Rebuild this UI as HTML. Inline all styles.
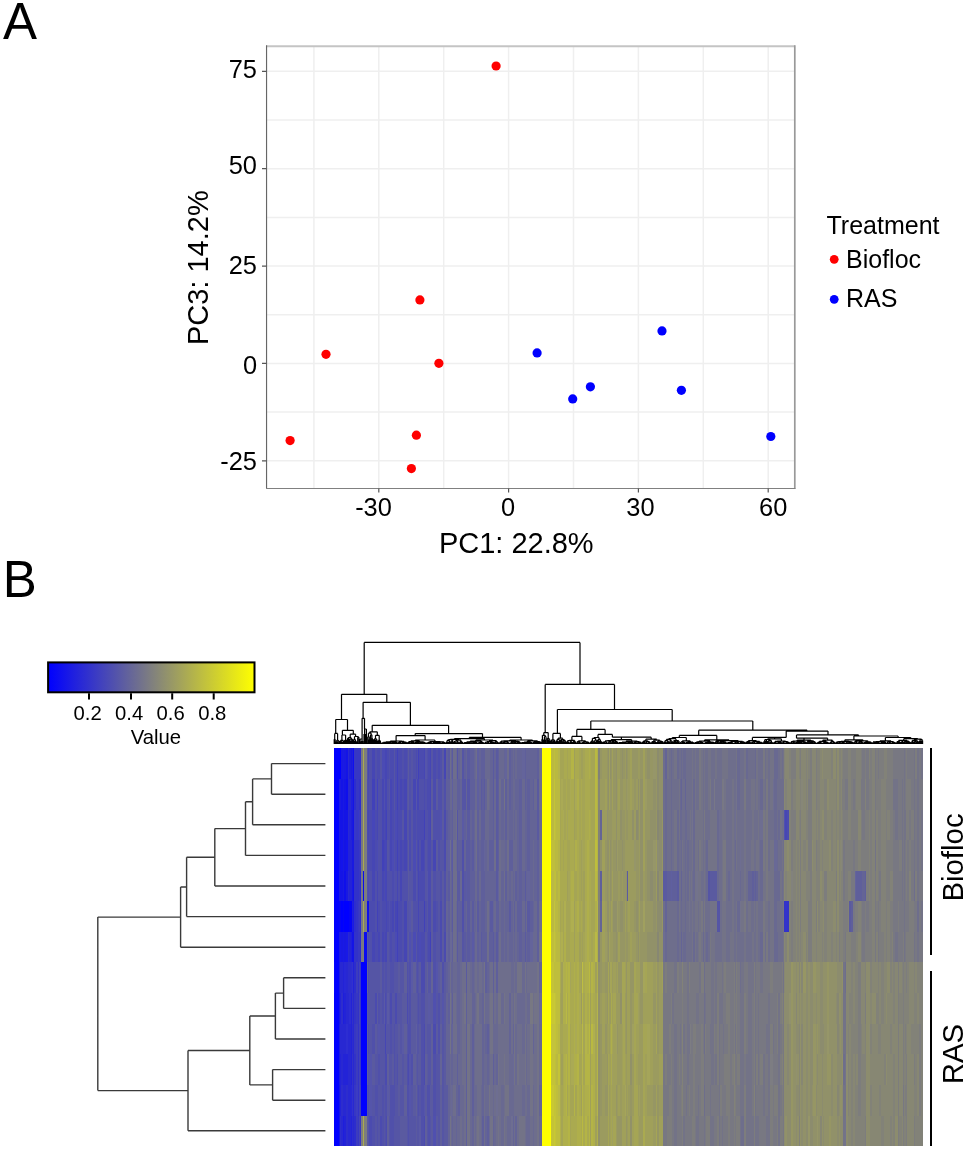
<!DOCTYPE html>
<html><head><meta charset="utf-8"><title>Figure</title>
<style>html,body{margin:0;padding:0;background:#fff;} body{width:966px;height:1150px;overflow:hidden;font-family:"Liberation Sans", sans-serif;} svg{display:block;}</style>
</head><body><svg width="966" height="1150" viewBox="0 0 966 1150" font-family='"Liberation Sans", sans-serif' fill="#000"><path d="M313.9 46.2V488.45 M443.7 46.2V488.45 M573.5 46.2V488.45 M703.3 46.2V488.45 M378.8 46.2V488.45 M508.6 46.2V488.45 M638.4 46.2V488.45 M768.2 46.2V488.45 M266.55 120.0H794.8 M266.55 217.4H794.8 M266.55 314.8H794.8 M266.55 412.1H794.8 M266.55 71.3H794.8 M266.55 168.7H794.8 M266.55 266.1H794.8 M266.55 363.4H794.8 M266.55 460.8H794.8" stroke="#efefef" stroke-width="1.5" fill="none"/><path d="M266.55 46.2H794.8" stroke="#c4c4c4" stroke-width="1.9" fill="none"/><path d="M794.8 45.300000000000004V488.45" stroke="#999" stroke-width="1.7" fill="none"/><path d="M266.55 45.300000000000004V488.45" stroke="#666" stroke-width="1.15" fill="none"/><path d="M266.05 488.45H795.5999999999999" stroke="#808080" stroke-width="1.1" fill="none"/><path d="M262 71.3H266.55 M262 168.7H266.55 M262 266.1H266.55 M262 363.4H266.55 M262 460.8H266.55 M378.8 488.45V492.6 M508.6 488.45V492.6 M638.4 488.45V492.6 M768.2 488.45V492.6" stroke="#555" stroke-width="1.2" fill="none"/><circle cx="496.1" cy="66.0" r="4.6" fill="#ff0000"/><circle cx="419.9" cy="299.9" r="4.6" fill="#ff0000"/><circle cx="326.0" cy="354.3" r="4.6" fill="#ff0000"/><circle cx="438.9" cy="363.3" r="4.6" fill="#ff0000"/><circle cx="290.1" cy="440.6" r="4.6" fill="#ff0000"/><circle cx="416.4" cy="435.2" r="4.6" fill="#ff0000"/><circle cx="411.4" cy="468.6" r="4.6" fill="#ff0000"/><circle cx="537.1" cy="352.9" r="4.6" fill="#0000ff"/><circle cx="662.0" cy="330.9" r="4.6" fill="#0000ff"/><circle cx="590.4" cy="386.8" r="4.6" fill="#0000ff"/><circle cx="572.7" cy="398.9" r="4.6" fill="#0000ff"/><circle cx="681.4" cy="390.3" r="4.6" fill="#0000ff"/><circle cx="770.8" cy="436.5" r="4.6" fill="#0000ff"/><circle cx="834.2" cy="259.3" r="4.4" fill="#ff0000"/><circle cx="834.2" cy="299.3" r="4.4" fill="#0000ff"/><defs><linearGradient id="ck" x1="0" x2="1" y1="0" y2="0"><stop offset="0" stop-color="#0000ff"/><stop offset="0.5" stop-color="#7f7f7f"/><stop offset="1" stop-color="#ffff00"/></linearGradient></defs><rect x="48.1" y="662.4" width="206.4" height="29.9" fill="url(#ck)" stroke="#000" stroke-width="2"/><path d="M89.0 693.3V699.6 M131.0 693.3V699.6 M172.2 693.3V699.6 M213.7 693.3V699.6" stroke="#000" stroke-width="2"/><g shape-rendering="crispEdges"><path d="M333.6 748.0h1.5v31.0h-1.5zM333.6 779.0h1.5v31.0h-1.5zM333.6 810.0h1.5v30.0h-1.5zM333.6 840.0h1.5v31.0h-1.5zM333.6 871.0h1.5v30.0h-1.5zM333.6 901.0h1.5v31.0h-1.5zM333.6 932.0h1.5v30.0h-1.5zM333.6 993.0h1.5v31.0h-1.5zM333.6 1024.0h1.5v30.0h-1.5zM333.6 1054.0h1.5v31.0h-1.5zM333.6 1085.0h1.5v31.0h-1.5zM333.6 1116.0h1.5v30.0h-1.5zM335.1 748.0h1v31.0h-1zM335.1 779.0h1v31.0h-1zM335.1 810.0h1v30.0h-1zM335.1 840.0h1v31.0h-1zM335.1 871.0h1v30.0h-1zM335.1 901.0h1v31.0h-1zM335.1 932.0h1v30.0h-1zM335.1 962.0h1v31.0h-1zM335.1 993.0h1v31.0h-1zM335.1 1024.0h1v30.0h-1zM335.1 1054.0h1v31.0h-1zM335.1 1085.0h1v31.0h-1zM335.1 1116.0h1v30.0h-1zM336.1 748.0h2v31.0h-2zM336.1 779.0h2v31.0h-2zM336.1 810.0h2v30.0h-2zM336.1 840.0h2v31.0h-2zM336.1 871.0h2v30.0h-2zM336.1 901.0h2v31.0h-2zM336.1 932.0h2v30.0h-2zM336.1 962.0h2v31.0h-2zM336.1 993.0h2v31.0h-2zM336.1 1024.0h2v30.0h-2zM336.1 1054.0h2v31.0h-2zM336.1 1085.0h2v31.0h-2zM336.1 1116.0h2v30.0h-2zM338.1 748.0h0.9v31.0h-0.9zM338.1 779.0h0.9v31.0h-0.9zM338.1 810.0h0.9v30.0h-0.9zM338.1 840.0h0.9v31.0h-0.9zM338.1 871.0h0.9v30.0h-0.9zM338.1 901.0h0.9v31.0h-0.9zM338.1 932.0h0.9v30.0h-0.9zM338.1 962.0h0.9v31.0h-0.9zM338.1 993.0h0.9v31.0h-0.9zM338.1 1024.0h0.9v30.0h-0.9zM338.1 1054.0h0.9v31.0h-0.9zM338.1 1085.0h0.9v31.0h-0.9zM338.1 1116.0h0.9v30.0h-0.9zM339.0 748.0h1v31.0h-1zM340.0 748.0h1v31.0h-1zM341.0 901.0h2v31.0h-2zM344.0 901.0h1.5v31.0h-1.5zM345.5 901.0h2.5v31.0h-2.5zM348.0 901.0h1v31.0h-1zM361.0 962.0h1.6v31.0h-1.6zM361.0 993.0h1.6v31.0h-1.6zM361.0 1024.0h1.6v30.0h-1.6zM361.0 1054.0h1.6v31.0h-1.6zM361.0 1085.0h1.6v31.0h-1.6zM362.6 962.0h1.6v31.0h-1.6zM362.6 993.0h1.6v31.0h-1.6zM362.6 1024.0h1.6v30.0h-1.6zM362.6 1054.0h1.6v31.0h-1.6zM362.6 1085.0h1.6v31.0h-1.6zM364.2 962.0h1v31.0h-1zM364.2 993.0h1v31.0h-1zM364.2 1024.0h1v30.0h-1zM364.2 1054.0h1v31.0h-1zM364.2 1085.0h1v31.0h-1zM365.2 962.0h1.8v31.0h-1.8zM365.2 993.0h1.8v31.0h-1.8zM365.2 1024.0h1.8v30.0h-1.8zM365.2 1054.0h1.8v31.0h-1.8zM365.2 1085.0h1.8v31.0h-1.8z" fill="#0000ff"/><path d="M333.6 962.0h1.5v31.0h-1.5z" fill="#0505ff"/><path d="M339.0 779.0h1v31.0h-1zM340.0 932.0h1v30.0h-1zM343.0 748.0h1v31.0h-1zM343.0 932.0h1v30.0h-1zM345.5 932.0h2.5v30.0h-2.5zM352.0 871.0h1v30.0h-1zM353.0 901.0h1v31.0h-1z" fill="#1919e6"/><path d="M339.0 810.0h1v30.0h-1zM339.0 871.0h1v30.0h-1zM339.0 932.0h1v30.0h-1zM339.0 962.0h1v31.0h-1zM339.0 1024.0h1v30.0h-1zM339.0 1054.0h1v31.0h-1zM340.0 779.0h1v31.0h-1zM341.0 748.0h2v31.0h-2zM341.0 932.0h2v30.0h-2zM343.0 779.0h1v31.0h-1zM343.0 810.0h1v30.0h-1zM343.0 840.0h1v31.0h-1zM343.0 871.0h1v30.0h-1zM344.0 748.0h1.5v31.0h-1.5zM344.0 932.0h1.5v30.0h-1.5zM345.5 871.0h2.5v30.0h-2.5zM351.0 748.0h1v31.0h-1zM352.0 810.0h1v30.0h-1zM352.0 840.0h1v31.0h-1zM353.0 840.0h1v31.0h-1z" fill="#1919e1"/><path d="M339.0 840.0h1v31.0h-1zM341.0 840.0h2v31.0h-2zM345.5 840.0h2.5v31.0h-2.5z" fill="#1414eb"/><path d="M339.0 901.0h1v31.0h-1zM340.0 901.0h1v31.0h-1zM343.0 901.0h1v31.0h-1zM349.0 901.0h2v31.0h-2zM351.0 901.0h1v31.0h-1z" fill="#0505f5"/><path d="M339.0 993.0h1v31.0h-1zM339.0 1085.0h1v31.0h-1zM339.0 1116.0h1v30.0h-1zM340.0 810.0h1v30.0h-1zM340.0 840.0h1v31.0h-1zM340.0 871.0h1v30.0h-1zM341.0 779.0h2v31.0h-2zM341.0 810.0h2v30.0h-2zM341.0 871.0h2v30.0h-2zM344.0 779.0h1.5v31.0h-1.5zM344.0 810.0h1.5v30.0h-1.5zM344.0 840.0h1.5v31.0h-1.5zM345.5 748.0h2.5v31.0h-2.5zM345.5 810.0h2.5v30.0h-2.5zM352.0 932.0h1v30.0h-1zM353.0 779.0h1v31.0h-1zM353.0 810.0h1v30.0h-1zM353.0 871.0h1v30.0h-1zM353.0 932.0h1v30.0h-1z" fill="#1414e6"/><path d="M340.0 962.0h1v31.0h-1zM340.0 1024.0h1v30.0h-1zM341.0 962.0h2v31.0h-2zM341.0 1024.0h2v30.0h-2zM341.0 1054.0h2v31.0h-2zM341.0 1116.0h2v30.0h-2zM343.0 1024.0h1v30.0h-1zM343.0 1085.0h1v31.0h-1zM344.0 1024.0h1.5v30.0h-1.5zM344.0 1085.0h1.5v31.0h-1.5zM345.5 962.0h2.5v31.0h-2.5zM345.5 993.0h2.5v31.0h-2.5zM348.0 748.0h1v31.0h-1zM348.0 779.0h1v31.0h-1zM348.0 810.0h1v30.0h-1zM348.0 871.0h1v30.0h-1zM348.0 932.0h1v30.0h-1zM348.0 993.0h1v31.0h-1zM348.0 1024.0h1v30.0h-1zM348.0 1054.0h1v31.0h-1zM348.0 1085.0h1v31.0h-1zM348.0 1116.0h1v30.0h-1zM349.0 779.0h2v31.0h-2zM349.0 1024.0h2v30.0h-2zM349.0 1054.0h2v31.0h-2zM349.0 1085.0h2v31.0h-2zM349.0 1116.0h2v30.0h-2zM353.0 993.0h1v31.0h-1zM353.0 1024.0h1v30.0h-1zM353.0 1054.0h1v31.0h-1zM353.0 1085.0h1v31.0h-1zM353.0 1116.0h1v30.0h-1z" fill="#2828d2"/><path d="M340.0 993.0h1v31.0h-1zM340.0 1054.0h1v31.0h-1zM340.0 1085.0h1v31.0h-1zM343.0 962.0h1v31.0h-1zM343.0 1054.0h1v31.0h-1zM344.0 993.0h1.5v31.0h-1.5zM344.0 1054.0h1.5v31.0h-1.5zM344.0 1116.0h1.5v30.0h-1.5zM345.5 1054.0h2.5v31.0h-2.5zM348.0 840.0h1v31.0h-1zM349.0 840.0h2v31.0h-2zM349.0 871.0h2v30.0h-2zM349.0 932.0h2v30.0h-2zM351.0 840.0h1v31.0h-1zM351.0 871.0h1v30.0h-1zM351.0 993.0h1v31.0h-1zM351.0 1024.0h1v30.0h-1zM351.0 1054.0h1v31.0h-1zM351.0 1116.0h1v30.0h-1zM353.0 962.0h1v31.0h-1z" fill="#2323d7"/><path d="M340.0 1116.0h1v30.0h-1zM341.0 993.0h2v31.0h-2zM341.0 1085.0h2v31.0h-2zM345.5 1085.0h2.5v31.0h-2.5zM345.5 1116.0h2.5v30.0h-2.5zM348.0 962.0h1v31.0h-1zM349.0 962.0h2v31.0h-2zM352.0 1024.0h1v30.0h-1zM352.0 1116.0h1v30.0h-1zM354.0 779.0h2v31.0h-2zM354.0 901.0h2v31.0h-2zM354.0 962.0h2v31.0h-2zM354.0 1116.0h2v30.0h-2zM360.0 779.0h1v31.0h-1zM360.0 871.0h1v30.0h-1zM360.0 901.0h1v31.0h-1zM360.0 932.0h1v30.0h-1z" fill="#2d2dcd"/><path d="M343.0 993.0h1v31.0h-1zM343.0 1116.0h1v30.0h-1zM349.0 748.0h2v31.0h-2zM351.0 810.0h1v30.0h-1zM352.0 748.0h1v31.0h-1zM352.0 779.0h1v31.0h-1zM352.0 901.0h1v31.0h-1z" fill="#1e1edc"/><path d="M344.0 871.0h1.5v30.0h-1.5zM345.5 779.0h2.5v31.0h-2.5zM367.0 901.0h1v31.0h-1zM368.0 901.0h1v31.0h-1z" fill="#0f0feb"/><path d="M344.0 962.0h1.5v31.0h-1.5zM351.0 1085.0h1v31.0h-1z" fill="#2828d7"/><path d="M345.5 1024.0h2.5v30.0h-2.5zM349.0 993.0h2v31.0h-2zM351.0 962.0h1v31.0h-1z" fill="#2d2dd2"/><path d="M349.0 810.0h2v30.0h-2z" fill="#2323dc"/><path d="M351.0 779.0h1v31.0h-1zM351.0 932.0h1v30.0h-1z" fill="#1e1ee1"/><path d="M352.0 962.0h1v31.0h-1zM352.0 1085.0h1v31.0h-1zM785.0 901.0h2v31.0h-2z" fill="#3232cd"/><path d="M352.0 993.0h1v31.0h-1zM352.0 1054.0h1v31.0h-1zM354.0 840.0h2v31.0h-2zM354.0 871.0h2v30.0h-2zM354.0 932.0h2v30.0h-2zM354.0 993.0h2v31.0h-2zM354.0 1054.0h2v31.0h-2zM356.0 840.0h2v31.0h-2zM356.0 871.0h2v30.0h-2zM356.0 901.0h2v31.0h-2zM356.0 932.0h2v30.0h-2zM358.0 840.0h1v31.0h-1zM358.0 871.0h1v30.0h-1zM358.0 962.0h1v31.0h-1zM358.0 993.0h1v31.0h-1zM358.0 1024.0h1v30.0h-1zM358.0 1054.0h1v31.0h-1zM358.0 1085.0h1v31.0h-1zM359.0 779.0h1v31.0h-1zM360.0 748.0h1v31.0h-1zM360.0 810.0h1v30.0h-1zM784.0 901.0h1v31.0h-1zM787.0 901.0h2v31.0h-2z" fill="#3232c8"/><path d="M353.0 748.0h1v31.0h-1z" fill="#0f0ff0"/><path d="M354.0 748.0h2v31.0h-2zM354.0 1024.0h2v30.0h-2zM354.0 1085.0h2v31.0h-2zM356.0 748.0h2v31.0h-2zM356.0 779.0h2v31.0h-2zM356.0 810.0h2v30.0h-2zM356.0 993.0h2v31.0h-2zM358.0 748.0h1v31.0h-1zM358.0 779.0h1v31.0h-1zM358.0 901.0h1v31.0h-1zM358.0 932.0h1v30.0h-1zM358.0 1116.0h1v30.0h-1zM359.0 748.0h1v31.0h-1zM359.0 840.0h1v31.0h-1zM359.0 871.0h1v30.0h-1zM359.0 932.0h1v30.0h-1zM360.0 840.0h1v31.0h-1zM360.0 993.0h1v31.0h-1zM360.0 1024.0h1v30.0h-1zM360.0 1054.0h1v31.0h-1zM360.0 1116.0h1v30.0h-1z" fill="#3737c3"/><path d="M354.0 810.0h2v30.0h-2zM358.0 810.0h1v30.0h-1zM360.0 962.0h1v31.0h-1z" fill="#3737c8"/><path d="M356.0 962.0h2v31.0h-2zM356.0 1024.0h2v30.0h-2zM356.0 1054.0h2v31.0h-2zM356.0 1116.0h2v30.0h-2zM359.0 810.0h1v30.0h-1zM359.0 901.0h1v31.0h-1zM360.0 1085.0h1v31.0h-1z" fill="#3c3cbe"/><path d="M356.0 1085.0h2v31.0h-2z" fill="#3c3cc3"/><path d="M359.0 962.0h1v31.0h-1zM359.0 1024.0h1v30.0h-1zM359.0 1054.0h1v31.0h-1zM359.0 1085.0h1v31.0h-1zM372.0 779.0h3v31.0h-3zM377.0 901.0h1v31.0h-1zM382.0 840.0h2v31.0h-2zM386.0 810.0h1v30.0h-1zM396.5 748.0h1v31.0h-1zM396.5 779.0h1v31.0h-1zM396.5 840.0h1v31.0h-1zM396.5 901.0h1v31.0h-1zM396.5 932.0h1v30.0h-1zM418.0 748.0h1v31.0h-1zM424.0 810.0h1v30.0h-1zM424.0 901.0h1v31.0h-1zM430.0 932.0h1v30.0h-1z" fill="#4141b9"/><path d="M359.0 993.0h1v31.0h-1zM359.0 1116.0h1v30.0h-1zM368.0 748.0h1v31.0h-1zM368.0 810.0h1v30.0h-1zM372.0 748.0h3v31.0h-3zM372.0 840.0h3v31.0h-3zM372.0 871.0h3v30.0h-3zM372.0 932.0h3v30.0h-3zM377.0 810.0h1v30.0h-1zM377.0 871.0h1v30.0h-1zM378.0 932.0h2v30.0h-2zM382.0 779.0h2v31.0h-2zM382.0 810.0h2v30.0h-2zM382.0 871.0h2v30.0h-2zM382.0 932.0h2v30.0h-2zM384.0 840.0h1v31.0h-1zM385.0 748.0h1v31.0h-1zM385.0 779.0h1v31.0h-1zM385.0 810.0h1v30.0h-1zM385.0 932.0h1v30.0h-1zM385.0 1024.0h1v30.0h-1zM386.0 748.0h1v31.0h-1zM386.0 779.0h1v31.0h-1zM386.0 840.0h1v31.0h-1zM386.0 871.0h1v30.0h-1zM386.0 901.0h1v31.0h-1zM386.0 932.0h1v30.0h-1zM390.0 779.0h1.5v31.0h-1.5zM390.0 810.0h1.5v30.0h-1.5zM390.0 840.0h1.5v31.0h-1.5zM391.5 901.0h2v31.0h-2zM394.5 901.0h2v31.0h-2zM396.5 810.0h1v30.0h-1zM396.5 871.0h1v30.0h-1zM400.0 779.0h1.5v31.0h-1.5zM400.0 840.0h1.5v31.0h-1.5zM400.0 871.0h1.5v30.0h-1.5zM403.5 779.0h3v31.0h-3zM403.5 810.0h3v30.0h-3zM403.5 840.0h3v31.0h-3zM403.5 901.0h3v31.0h-3zM403.5 932.0h3v30.0h-3zM412.5 779.0h3v31.0h-3zM416.5 779.0h1.5v31.0h-1.5zM418.0 779.0h1v31.0h-1zM418.0 840.0h1v31.0h-1zM418.0 871.0h1v30.0h-1zM418.0 901.0h1v31.0h-1zM421.0 840.0h3v31.0h-3zM424.0 748.0h1v31.0h-1zM430.0 748.0h1v31.0h-1zM430.0 779.0h1v31.0h-1zM430.0 810.0h1v30.0h-1zM433.0 840.0h3v31.0h-3zM443.5 748.0h2.5v31.0h-2.5zM785.0 810.0h2v30.0h-2z" fill="#4646b4"/><path d="M361.0 748.0h1.6v31.0h-1.6zM361.0 779.0h1.6v31.0h-1.6zM361.0 810.0h1.6v30.0h-1.6zM361.0 840.0h1.6v31.0h-1.6zM361.0 871.0h1.6v30.0h-1.6zM361.0 901.0h1.6v31.0h-1.6zM361.0 932.0h1.6v30.0h-1.6zM529.5 993.0h3v31.0h-3zM663.0 962.0h2v31.0h-2zM663.0 993.0h2v31.0h-2zM663.0 1024.0h2v30.0h-2zM663.0 1054.0h2v31.0h-2zM663.0 1085.0h2v31.0h-2zM663.0 1116.0h2v30.0h-2zM665.0 993.0h2v31.0h-2zM665.0 1024.0h2v30.0h-2zM665.0 1085.0h2v31.0h-2zM665.0 1116.0h2v30.0h-2zM667.0 962.0h2v31.0h-2zM667.0 993.0h2v31.0h-2zM667.0 1024.0h2v30.0h-2zM667.0 1054.0h2v31.0h-2zM667.0 1085.0h2v31.0h-2zM669.0 962.0h2v31.0h-2zM669.0 993.0h2v31.0h-2zM669.0 1054.0h2v31.0h-2zM671.0 962.0h1v31.0h-1zM671.0 1024.0h1v30.0h-1zM672.0 962.0h2v31.0h-2zM672.0 1024.0h2v30.0h-2zM672.0 1054.0h2v31.0h-2zM672.0 1085.0h2v31.0h-2zM672.0 1116.0h2v30.0h-2zM674.0 993.0h3v31.0h-3zM677.0 993.0h2v31.0h-2zM677.0 1024.0h2v30.0h-2zM677.0 1054.0h2v31.0h-2zM677.0 1085.0h2v31.0h-2zM677.0 1116.0h2v30.0h-2zM679.0 962.0h1v31.0h-1zM679.0 993.0h1v31.0h-1zM679.0 1024.0h1v30.0h-1zM679.0 1085.0h1v31.0h-1zM679.0 1116.0h1v30.0h-1zM680.0 962.0h1v31.0h-1zM680.0 993.0h1v31.0h-1zM680.0 1054.0h1v31.0h-1zM680.0 1085.0h1v31.0h-1zM680.0 1116.0h1v30.0h-1zM681.0 962.0h1v31.0h-1zM681.0 993.0h1v31.0h-1zM681.0 1024.0h1v30.0h-1zM681.0 1054.0h1v31.0h-1zM681.0 1116.0h1v30.0h-1zM683.0 962.0h2v31.0h-2zM683.0 993.0h2v31.0h-2zM683.0 1054.0h2v31.0h-2zM683.0 1085.0h2v31.0h-2zM685.0 962.0h1v31.0h-1zM685.0 993.0h1v31.0h-1zM685.0 1024.0h1v30.0h-1zM685.0 1054.0h1v31.0h-1zM685.0 1085.0h1v31.0h-1zM685.0 1116.0h1v30.0h-1zM686.0 962.0h1v31.0h-1zM686.0 993.0h1v31.0h-1zM686.0 1024.0h1v30.0h-1zM686.0 1054.0h1v31.0h-1zM686.0 1116.0h1v30.0h-1zM687.0 1085.0h1.5v31.0h-1.5zM687.0 1116.0h1.5v30.0h-1.5zM688.5 993.0h1.5v31.0h-1.5zM688.5 1054.0h1.5v31.0h-1.5zM688.5 1116.0h1.5v30.0h-1.5zM690.0 962.0h1v31.0h-1zM690.0 993.0h1v31.0h-1zM690.0 1054.0h1v31.0h-1zM690.0 1085.0h1v31.0h-1zM690.0 1116.0h1v30.0h-1zM691.0 962.0h1v31.0h-1zM691.0 993.0h1v31.0h-1zM691.0 1024.0h1v30.0h-1zM691.0 1054.0h1v31.0h-1zM691.0 1085.0h1v31.0h-1zM691.0 1116.0h1v30.0h-1zM692.0 962.0h1v31.0h-1zM692.0 993.0h1v31.0h-1zM692.0 1024.0h1v30.0h-1zM692.0 1054.0h1v31.0h-1zM692.0 1085.0h1v31.0h-1zM693.0 962.0h2v31.0h-2zM693.0 993.0h2v31.0h-2zM695.0 962.0h1v31.0h-1zM695.0 993.0h1v31.0h-1zM695.0 1054.0h1v31.0h-1zM695.0 1085.0h1v31.0h-1zM695.0 1116.0h1v30.0h-1zM696.0 962.0h2v31.0h-2zM696.0 1024.0h2v30.0h-2zM696.0 1054.0h2v31.0h-2zM696.0 1085.0h2v31.0h-2zM698.0 962.0h1v31.0h-1zM698.0 1024.0h1v30.0h-1zM698.0 1054.0h1v31.0h-1zM699.0 748.0h1.5v31.0h-1.5zM699.0 779.0h1.5v31.0h-1.5zM699.0 840.0h1.5v31.0h-1.5zM699.0 932.0h1.5v30.0h-1.5zM699.0 993.0h1.5v31.0h-1.5zM699.0 1024.0h1.5v30.0h-1.5zM699.0 1054.0h1.5v31.0h-1.5zM699.0 1085.0h1.5v31.0h-1.5zM699.0 1116.0h1.5v30.0h-1.5zM700.5 901.0h2v31.0h-2zM700.5 993.0h2v31.0h-2zM700.5 1116.0h2v30.0h-2zM702.5 993.0h1v31.0h-1zM702.5 1024.0h1v30.0h-1zM702.5 1116.0h1v30.0h-1zM703.5 810.0h1v30.0h-1zM703.5 901.0h1v31.0h-1zM704.5 962.0h1v31.0h-1zM704.5 1054.0h1v31.0h-1zM704.5 1085.0h1v31.0h-1zM704.5 1116.0h1v30.0h-1zM705.5 962.0h2v31.0h-2zM705.5 993.0h2v31.0h-2zM705.5 1024.0h2v30.0h-2zM705.5 1054.0h2v31.0h-2zM705.5 1085.0h2v31.0h-2zM707.5 962.0h2v31.0h-2zM707.5 993.0h2v31.0h-2zM707.5 1024.0h2v30.0h-2zM707.5 1054.0h2v31.0h-2zM707.5 1085.0h2v31.0h-2zM709.5 779.0h1v31.0h-1zM709.5 932.0h1v30.0h-1zM709.5 962.0h1v31.0h-1zM709.5 993.0h1v31.0h-1zM709.5 1054.0h1v31.0h-1zM710.5 1085.0h3v31.0h-3zM713.5 962.0h1.5v31.0h-1.5zM713.5 993.0h1.5v31.0h-1.5zM713.5 1054.0h1.5v31.0h-1.5zM713.5 1085.0h1.5v31.0h-1.5zM713.5 1116.0h1.5v30.0h-1.5zM715.0 1024.0h1.5v30.0h-1.5zM715.0 1085.0h1.5v31.0h-1.5zM715.0 1116.0h1.5v30.0h-1.5zM716.5 962.0h2v31.0h-2zM716.5 1085.0h2v31.0h-2zM718.5 962.0h1.5v31.0h-1.5zM720.0 962.0h2v31.0h-2zM720.0 1024.0h2v30.0h-2zM720.0 1054.0h2v31.0h-2zM720.0 1116.0h2v30.0h-2zM722.0 779.0h1v31.0h-1zM722.0 1024.0h1v30.0h-1zM722.0 1054.0h1v31.0h-1zM722.0 1085.0h1v31.0h-1zM723.0 840.0h1v31.0h-1zM723.0 871.0h1v30.0h-1zM723.0 962.0h1v31.0h-1zM723.0 993.0h1v31.0h-1zM723.0 1054.0h1v31.0h-1zM723.0 1085.0h1v31.0h-1zM723.0 1116.0h1v30.0h-1zM724.0 840.0h2v31.0h-2zM724.0 871.0h2v30.0h-2zM724.0 993.0h2v31.0h-2zM724.0 1024.0h2v30.0h-2zM724.0 1085.0h2v31.0h-2zM724.0 1116.0h2v30.0h-2zM726.0 962.0h2v31.0h-2zM726.0 1024.0h2v30.0h-2zM726.0 1116.0h2v30.0h-2zM728.0 962.0h2v31.0h-2zM730.0 962.0h2v31.0h-2zM730.0 993.0h2v31.0h-2zM730.0 1024.0h2v30.0h-2zM730.0 1054.0h2v31.0h-2zM730.0 1085.0h2v31.0h-2zM730.0 1116.0h2v30.0h-2zM732.0 962.0h1.5v31.0h-1.5zM732.0 993.0h1.5v31.0h-1.5zM732.0 1024.0h1.5v30.0h-1.5zM732.0 1085.0h1.5v31.0h-1.5zM732.0 1116.0h1.5v30.0h-1.5zM734.5 993.0h1v31.0h-1zM734.5 1054.0h1v31.0h-1zM734.5 1116.0h1v30.0h-1zM735.5 1054.0h1v31.0h-1zM735.5 1085.0h1v31.0h-1zM736.5 962.0h3v31.0h-3zM736.5 993.0h3v31.0h-3zM736.5 1024.0h3v30.0h-3zM736.5 1085.0h3v31.0h-3zM744.0 779.0h1.5v31.0h-1.5zM744.0 901.0h1.5v31.0h-1.5zM744.0 962.0h1.5v31.0h-1.5zM744.0 1054.0h1.5v31.0h-1.5zM745.5 962.0h2v31.0h-2zM745.5 993.0h2v31.0h-2zM745.5 1024.0h2v30.0h-2zM751.5 993.0h2v31.0h-2zM751.5 1024.0h2v30.0h-2zM751.5 1054.0h2v31.0h-2zM751.5 1085.0h2v31.0h-2zM755.5 962.0h2v31.0h-2zM755.5 993.0h2v31.0h-2zM755.5 1024.0h2v30.0h-2zM755.5 1085.0h2v31.0h-2zM757.5 962.0h1.5v31.0h-1.5zM757.5 1085.0h1.5v31.0h-1.5zM759.0 962.0h1v31.0h-1zM759.0 993.0h1v31.0h-1zM759.0 1024.0h1v30.0h-1zM759.0 1054.0h1v31.0h-1zM759.0 1085.0h1v31.0h-1zM759.0 1116.0h1v30.0h-1zM760.0 993.0h3v31.0h-3zM760.0 1024.0h3v30.0h-3zM760.0 1085.0h3v31.0h-3zM760.0 1116.0h3v30.0h-3zM763.0 748.0h2v31.0h-2zM763.0 810.0h2v30.0h-2zM763.0 840.0h2v31.0h-2zM763.0 901.0h2v31.0h-2zM763.0 932.0h2v30.0h-2zM763.0 962.0h2v31.0h-2zM763.0 993.0h2v31.0h-2zM763.0 1024.0h2v30.0h-2zM763.0 1116.0h2v30.0h-2zM765.0 962.0h1v31.0h-1zM765.0 993.0h1v31.0h-1zM765.0 1024.0h1v30.0h-1zM765.0 1054.0h1v31.0h-1zM765.0 1085.0h1v31.0h-1zM765.0 1116.0h1v30.0h-1zM766.0 779.0h2v31.0h-2zM766.0 810.0h2v30.0h-2zM766.0 840.0h2v31.0h-2zM766.0 871.0h2v30.0h-2zM766.0 932.0h2v30.0h-2zM766.0 962.0h2v31.0h-2zM766.0 993.0h2v31.0h-2zM766.0 1054.0h2v31.0h-2zM766.0 1085.0h2v31.0h-2zM768.0 962.0h1.5v31.0h-1.5zM769.5 993.0h3v31.0h-3zM772.5 962.0h1v31.0h-1zM772.5 993.0h1v31.0h-1zM772.5 1054.0h1v31.0h-1zM772.5 1085.0h1v31.0h-1zM772.5 1116.0h1v30.0h-1zM773.5 962.0h3v31.0h-3zM773.5 993.0h3v31.0h-3zM773.5 1024.0h3v30.0h-3zM773.5 1054.0h3v31.0h-3zM773.5 1116.0h3v30.0h-3zM776.5 962.0h1.5v31.0h-1.5zM776.5 1054.0h1.5v31.0h-1.5zM778.0 962.0h2v31.0h-2zM780.0 962.0h1.5v31.0h-1.5zM780.0 1024.0h1.5v30.0h-1.5zM780.0 1085.0h1.5v31.0h-1.5zM782.5 993.0h1.5v31.0h-1.5zM782.5 1024.0h1.5v30.0h-1.5zM782.5 1054.0h1.5v31.0h-1.5zM782.5 1085.0h1.5v31.0h-1.5zM782.5 1116.0h1.5v30.0h-1.5zM843.0 840.0h2v31.0h-2zM843.0 871.0h2v30.0h-2zM845.0 779.0h1v31.0h-1zM845.0 932.0h1v30.0h-1zM846.0 779.0h1.5v31.0h-1.5zM850.5 871.0h2v30.0h-2zM852.5 779.0h2v31.0h-2zM852.5 840.0h2v31.0h-2zM852.5 871.0h2v30.0h-2zM852.5 901.0h2v31.0h-2zM860.5 779.0h1.5v31.0h-1.5zM862.0 748.0h3v31.0h-3zM862.0 779.0h3v31.0h-3zM862.0 810.0h3v30.0h-3zM862.0 901.0h3v31.0h-3zM862.0 932.0h3v30.0h-3zM866.0 748.0h3v31.0h-3zM866.0 779.0h3v31.0h-3zM866.0 901.0h3v31.0h-3zM875.0 748.0h1v31.0h-1zM875.0 779.0h1v31.0h-1zM875.0 810.0h1v30.0h-1zM875.0 871.0h1v30.0h-1zM875.0 901.0h1v31.0h-1zM875.0 932.0h1v30.0h-1zM878.0 748.0h1v31.0h-1zM878.0 901.0h1v31.0h-1zM878.0 932.0h1v30.0h-1zM879.0 871.0h2v30.0h-2zM893.0 748.0h2v31.0h-2zM893.0 810.0h2v30.0h-2zM893.0 840.0h2v31.0h-2zM893.0 871.0h2v30.0h-2zM893.0 901.0h2v31.0h-2zM893.0 932.0h2v30.0h-2zM895.0 748.0h3v31.0h-3zM895.0 840.0h3v31.0h-3zM895.0 871.0h3v30.0h-3zM895.0 901.0h3v31.0h-3zM898.0 748.0h1v31.0h-1zM898.0 779.0h1v31.0h-1zM898.0 810.0h1v30.0h-1zM898.0 840.0h1v31.0h-1zM898.0 871.0h1v30.0h-1zM898.0 932.0h1v30.0h-1zM899.0 748.0h3v31.0h-3zM899.0 779.0h3v31.0h-3zM899.0 810.0h3v30.0h-3zM899.0 871.0h3v30.0h-3zM899.0 901.0h3v31.0h-3zM899.0 932.0h3v30.0h-3zM902.0 748.0h1v31.0h-1zM902.0 901.0h1v31.0h-1zM902.0 932.0h1v30.0h-1zM903.0 748.0h1v31.0h-1zM903.0 779.0h1v31.0h-1zM903.0 810.0h1v30.0h-1zM903.0 840.0h1v31.0h-1zM903.0 871.0h1v30.0h-1zM903.0 901.0h1v31.0h-1zM903.0 1085.0h1v31.0h-1zM905.0 748.0h1v31.0h-1zM905.0 779.0h1v31.0h-1zM905.0 840.0h1v31.0h-1zM905.0 871.0h1v30.0h-1zM905.0 901.0h1v31.0h-1zM905.0 932.0h1v30.0h-1zM906.0 901.0h1v31.0h-1zM907.0 748.0h2v31.0h-2zM907.0 840.0h2v31.0h-2zM907.0 871.0h2v30.0h-2zM907.0 901.0h2v31.0h-2zM909.0 748.0h2v31.0h-2zM909.0 810.0h2v30.0h-2zM911.0 748.0h3v31.0h-3zM911.0 779.0h3v31.0h-3zM911.0 840.0h3v31.0h-3zM911.0 871.0h3v30.0h-3zM914.0 901.0h1v31.0h-1zM915.0 779.0h2v31.0h-2zM915.0 810.0h2v30.0h-2zM915.0 840.0h2v31.0h-2zM915.0 901.0h2v31.0h-2zM915.0 932.0h2v30.0h-2zM919.0 748.0h2v31.0h-2zM919.0 779.0h2v31.0h-2zM919.0 810.0h2v30.0h-2zM919.0 840.0h2v31.0h-2zM919.0 871.0h2v30.0h-2zM919.0 901.0h2v31.0h-2zM919.0 932.0h2v30.0h-2zM921.0 779.0h2v31.0h-2zM921.0 871.0h2v30.0h-2zM921.0 932.0h2v30.0h-2z" fill="#787882"/><path d="M361.0 1116.0h1.6v30.0h-1.6zM362.6 932.0h1.6v30.0h-1.6zM364.2 748.0h1v31.0h-1zM364.2 779.0h1v31.0h-1zM364.2 810.0h1v30.0h-1zM364.2 840.0h1v31.0h-1zM364.2 871.0h1v30.0h-1zM364.2 901.0h1v31.0h-1zM364.2 1116.0h1v30.0h-1zM365.2 748.0h1.8v31.0h-1.8zM365.2 779.0h1.8v31.0h-1.8zM365.2 810.0h1.8v30.0h-1.8zM365.2 840.0h1.8v31.0h-1.8zM365.2 871.0h1.8v30.0h-1.8zM365.2 901.0h1.8v31.0h-1.8zM365.2 1116.0h1.8v30.0h-1.8zM665.0 962.0h2v31.0h-2zM665.0 1054.0h2v31.0h-2zM667.0 1116.0h2v30.0h-2zM669.0 1024.0h2v30.0h-2zM669.0 1085.0h2v31.0h-2zM669.0 1116.0h2v30.0h-2zM671.0 993.0h1v31.0h-1zM671.0 1054.0h1v31.0h-1zM671.0 1085.0h1v31.0h-1zM671.0 1116.0h1v30.0h-1zM677.0 962.0h2v31.0h-2zM679.0 1054.0h1v31.0h-1zM681.0 1085.0h1v31.0h-1zM682.0 993.0h1v31.0h-1zM682.0 1116.0h1v30.0h-1zM688.5 962.0h1.5v31.0h-1.5zM688.5 1085.0h1.5v31.0h-1.5zM692.0 1116.0h1v30.0h-1zM693.0 1024.0h2v30.0h-2zM693.0 1054.0h2v31.0h-2zM693.0 1085.0h2v31.0h-2zM693.0 1116.0h2v30.0h-2zM695.0 1024.0h1v30.0h-1zM700.5 962.0h2v31.0h-2zM700.5 1024.0h2v30.0h-2zM700.5 1054.0h2v31.0h-2zM700.5 1085.0h2v31.0h-2zM702.5 962.0h1v31.0h-1zM702.5 1054.0h1v31.0h-1zM702.5 1085.0h1v31.0h-1zM704.5 1024.0h1v30.0h-1zM705.5 1116.0h2v30.0h-2zM707.5 1116.0h2v30.0h-2zM713.5 1024.0h1.5v30.0h-1.5zM716.5 993.0h2v31.0h-2zM716.5 1024.0h2v30.0h-2zM716.5 1054.0h2v31.0h-2zM716.5 1116.0h2v30.0h-2zM720.0 1085.0h2v31.0h-2zM724.0 962.0h2v31.0h-2zM724.0 1054.0h2v31.0h-2zM726.0 993.0h2v31.0h-2zM726.0 1054.0h2v31.0h-2zM726.0 1085.0h2v31.0h-2zM728.0 993.0h2v31.0h-2zM728.0 1024.0h2v30.0h-2zM728.0 1054.0h2v31.0h-2zM728.0 1085.0h2v31.0h-2zM728.0 1116.0h2v30.0h-2zM732.0 1054.0h1.5v31.0h-1.5zM733.5 962.0h1v31.0h-1zM733.5 993.0h1v31.0h-1zM733.5 1024.0h1v30.0h-1zM733.5 1116.0h1v30.0h-1zM734.5 1085.0h1v31.0h-1zM735.5 962.0h1v31.0h-1zM735.5 993.0h1v31.0h-1zM735.5 1024.0h1v30.0h-1zM735.5 1116.0h1v30.0h-1zM736.5 1054.0h3v31.0h-3zM736.5 1116.0h3v30.0h-3zM744.0 993.0h1.5v31.0h-1.5zM744.0 1024.0h1.5v30.0h-1.5zM744.0 1085.0h1.5v31.0h-1.5zM744.0 1116.0h1.5v30.0h-1.5zM753.5 962.0h1v31.0h-1zM753.5 993.0h1v31.0h-1zM753.5 1024.0h1v30.0h-1zM753.5 1054.0h1v31.0h-1zM753.5 1116.0h1v30.0h-1zM755.5 1054.0h2v31.0h-2zM760.0 1054.0h3v31.0h-3zM769.5 962.0h3v31.0h-3zM769.5 1024.0h3v30.0h-3zM769.5 1085.0h3v31.0h-3zM769.5 1116.0h3v30.0h-3zM773.5 1085.0h3v31.0h-3zM776.5 993.0h1.5v31.0h-1.5zM776.5 1024.0h1.5v30.0h-1.5zM776.5 1085.0h1.5v31.0h-1.5zM776.5 1116.0h1.5v30.0h-1.5zM780.0 993.0h1.5v31.0h-1.5zM780.0 1054.0h1.5v31.0h-1.5zM780.0 1116.0h1.5v30.0h-1.5zM781.5 962.0h1v31.0h-1zM781.5 1024.0h1v30.0h-1zM781.5 1085.0h1v31.0h-1zM781.5 1116.0h1v30.0h-1zM791.0 748.0h1.5v31.0h-1.5zM791.0 779.0h1.5v31.0h-1.5zM791.0 810.0h1.5v30.0h-1.5zM791.0 840.0h1.5v31.0h-1.5zM791.0 901.0h1.5v31.0h-1.5zM791.0 932.0h1.5v30.0h-1.5zM792.5 748.0h3v31.0h-3zM792.5 810.0h3v30.0h-3zM799.5 748.0h1v31.0h-1zM799.5 810.0h1v30.0h-1zM799.5 840.0h1v31.0h-1zM799.5 871.0h1v30.0h-1zM799.5 901.0h1v31.0h-1zM807.5 779.0h2v31.0h-2zM807.5 810.0h2v30.0h-2zM807.5 840.0h2v31.0h-2zM807.5 901.0h2v31.0h-2zM807.5 932.0h2v30.0h-2zM809.5 748.0h2v31.0h-2zM809.5 779.0h2v31.0h-2zM809.5 810.0h2v30.0h-2zM809.5 840.0h2v31.0h-2zM809.5 871.0h2v30.0h-2zM809.5 901.0h2v31.0h-2zM809.5 932.0h2v30.0h-2zM816.0 748.0h1v31.0h-1zM816.0 779.0h1v31.0h-1zM816.0 840.0h1v31.0h-1zM816.0 901.0h1v31.0h-1zM824.0 871.0h3v30.0h-3zM835.5 871.0h1.5v30.0h-1.5zM838.5 932.0h1v30.0h-1zM841.5 779.0h1.5v31.0h-1.5zM843.0 748.0h2v31.0h-2zM843.0 779.0h2v31.0h-2zM843.0 810.0h2v30.0h-2zM843.0 901.0h2v31.0h-2zM843.0 932.0h2v30.0h-2zM845.0 748.0h1v31.0h-1zM845.0 810.0h1v30.0h-1zM845.0 840.0h1v31.0h-1zM845.0 871.0h1v30.0h-1zM845.0 901.0h1v31.0h-1zM846.0 748.0h1.5v31.0h-1.5zM846.0 810.0h1.5v30.0h-1.5zM846.0 840.0h1.5v31.0h-1.5zM846.0 871.0h1.5v30.0h-1.5zM846.0 901.0h1.5v31.0h-1.5zM847.5 840.0h1v31.0h-1zM848.5 840.0h2v31.0h-2zM850.5 748.0h2v31.0h-2zM850.5 779.0h2v31.0h-2zM850.5 810.0h2v30.0h-2zM850.5 840.0h2v31.0h-2zM850.5 932.0h2v30.0h-2zM852.5 748.0h2v31.0h-2zM852.5 810.0h2v30.0h-2zM852.5 932.0h2v30.0h-2zM854.5 748.0h1v31.0h-1zM854.5 779.0h1v31.0h-1zM854.5 810.0h1v30.0h-1zM854.5 840.0h1v31.0h-1zM854.5 901.0h1v31.0h-1zM854.5 932.0h1v30.0h-1zM855.5 810.0h2v30.0h-2zM855.5 840.0h2v31.0h-2zM855.5 901.0h2v31.0h-2zM857.5 962.0h3v31.0h-3zM857.5 993.0h3v31.0h-3zM857.5 1024.0h3v30.0h-3zM857.5 1054.0h3v31.0h-3zM857.5 1085.0h3v31.0h-3zM860.5 748.0h1.5v31.0h-1.5zM860.5 810.0h1.5v30.0h-1.5zM860.5 840.0h1.5v31.0h-1.5zM860.5 901.0h1.5v31.0h-1.5zM860.5 932.0h1.5v30.0h-1.5zM862.0 840.0h3v31.0h-3zM865.0 748.0h1v31.0h-1zM865.0 810.0h1v30.0h-1zM865.0 840.0h1v31.0h-1zM865.0 901.0h1v31.0h-1zM865.0 932.0h1v30.0h-1zM865.0 993.0h1v31.0h-1zM865.0 1116.0h1v30.0h-1zM866.0 810.0h3v30.0h-3zM866.0 840.0h3v31.0h-3zM866.0 871.0h3v30.0h-3zM866.0 932.0h3v30.0h-3zM869.0 779.0h1v31.0h-1zM869.0 901.0h1v31.0h-1zM869.0 932.0h1v30.0h-1zM870.0 748.0h2v31.0h-2zM870.0 779.0h2v31.0h-2zM870.0 810.0h2v30.0h-2zM870.0 840.0h2v31.0h-2zM870.0 871.0h2v30.0h-2zM870.0 901.0h2v31.0h-2zM870.0 932.0h2v30.0h-2zM876.0 748.0h2v31.0h-2zM876.0 779.0h2v31.0h-2zM876.0 901.0h2v31.0h-2zM878.0 779.0h1v31.0h-1zM878.0 810.0h1v30.0h-1zM878.0 840.0h1v31.0h-1zM878.0 871.0h1v30.0h-1zM879.0 748.0h2v31.0h-2zM879.0 779.0h2v31.0h-2zM879.0 810.0h2v30.0h-2zM879.0 840.0h2v31.0h-2zM879.0 901.0h2v31.0h-2zM879.0 932.0h2v30.0h-2zM881.0 748.0h3v31.0h-3zM881.0 932.0h3v30.0h-3zM885.5 779.0h1v31.0h-1zM885.5 810.0h1v30.0h-1zM885.5 840.0h1v31.0h-1zM885.5 871.0h1v30.0h-1zM885.5 901.0h1v31.0h-1zM885.5 932.0h1v30.0h-1zM886.5 748.0h3v31.0h-3zM886.5 779.0h3v31.0h-3zM886.5 840.0h3v31.0h-3zM886.5 871.0h3v30.0h-3zM889.5 748.0h2v31.0h-2zM889.5 779.0h2v31.0h-2zM889.5 810.0h2v30.0h-2zM889.5 840.0h2v31.0h-2zM889.5 901.0h2v31.0h-2zM889.5 932.0h2v30.0h-2zM891.5 748.0h1.5v31.0h-1.5zM891.5 779.0h1.5v31.0h-1.5zM891.5 810.0h1.5v30.0h-1.5zM891.5 840.0h1.5v31.0h-1.5zM891.5 901.0h1.5v31.0h-1.5zM898.0 901.0h1v31.0h-1zM898.0 962.0h1v31.0h-1zM898.0 993.0h1v31.0h-1zM898.0 1024.0h1v30.0h-1zM898.0 1054.0h1v31.0h-1zM898.0 1085.0h1v31.0h-1zM898.0 1116.0h1v30.0h-1zM899.0 840.0h3v31.0h-3zM903.0 932.0h1v30.0h-1zM903.0 962.0h1v31.0h-1zM903.0 993.0h1v31.0h-1zM903.0 1024.0h1v30.0h-1zM903.0 1054.0h1v31.0h-1zM903.0 1116.0h1v30.0h-1zM905.0 1024.0h1v30.0h-1zM905.0 1085.0h1v31.0h-1zM906.0 748.0h1v31.0h-1zM906.0 779.0h1v31.0h-1zM906.0 810.0h1v30.0h-1zM906.0 840.0h1v31.0h-1zM906.0 871.0h1v30.0h-1zM906.0 932.0h1v30.0h-1zM906.0 962.0h1v31.0h-1zM906.0 1054.0h1v31.0h-1zM906.0 1085.0h1v31.0h-1zM906.0 1116.0h1v30.0h-1zM907.0 779.0h2v31.0h-2zM907.0 810.0h2v30.0h-2zM907.0 932.0h2v30.0h-2zM909.0 779.0h2v31.0h-2zM909.0 840.0h2v31.0h-2zM909.0 901.0h2v31.0h-2zM909.0 932.0h2v30.0h-2zM911.0 810.0h3v30.0h-3zM911.0 901.0h3v31.0h-3zM911.0 932.0h3v30.0h-3zM914.0 1054.0h1v31.0h-1zM914.0 1116.0h1v30.0h-1zM915.0 748.0h2v31.0h-2zM915.0 871.0h2v30.0h-2zM919.0 1024.0h2v30.0h-2zM919.0 1054.0h2v31.0h-2zM919.0 1085.0h2v31.0h-2z" fill="#7d7d7d"/><path d="M362.6 748.0h1.6v31.0h-1.6zM362.6 779.0h1.6v31.0h-1.6zM362.6 810.0h1.6v30.0h-1.6zM362.6 840.0h1.6v31.0h-1.6zM362.6 901.0h1.6v31.0h-1.6zM362.6 1116.0h1.6v30.0h-1.6zM560.0 871.0h1v30.0h-1zM560.0 962.0h1v31.0h-1zM560.0 1054.0h1v31.0h-1zM560.0 1085.0h1v31.0h-1zM561.0 810.0h2v30.0h-2zM561.0 840.0h2v31.0h-2zM561.0 871.0h2v30.0h-2zM561.0 901.0h2v31.0h-2zM563.0 871.0h1v30.0h-1zM563.0 1024.0h1v30.0h-1zM563.0 1054.0h1v31.0h-1zM563.0 1085.0h1v31.0h-1zM564.0 748.0h2v31.0h-2zM564.0 840.0h2v31.0h-2zM564.0 871.0h2v30.0h-2zM564.0 1024.0h2v30.0h-2zM566.0 748.0h1v31.0h-1zM566.0 779.0h1v31.0h-1zM566.0 810.0h1v30.0h-1zM566.0 840.0h1v31.0h-1zM566.0 871.0h1v30.0h-1zM566.0 1024.0h1v30.0h-1zM567.0 993.0h1v31.0h-1zM567.0 1054.0h1v31.0h-1zM568.0 748.0h1.5v31.0h-1.5zM568.0 810.0h1.5v30.0h-1.5zM569.5 748.0h1v31.0h-1zM569.5 810.0h1v30.0h-1zM569.5 840.0h1v31.0h-1zM569.5 871.0h1v30.0h-1zM569.5 901.0h1v31.0h-1zM569.5 932.0h1v30.0h-1zM569.5 993.0h1v31.0h-1zM570.5 779.0h3v31.0h-3zM570.5 810.0h3v30.0h-3zM570.5 840.0h3v31.0h-3zM570.5 932.0h3v30.0h-3zM570.5 962.0h3v31.0h-3zM570.5 993.0h3v31.0h-3zM570.5 1024.0h3v30.0h-3zM570.5 1116.0h3v30.0h-3zM573.5 1116.0h1v30.0h-1zM574.5 748.0h2v31.0h-2zM574.5 901.0h2v31.0h-2zM574.5 932.0h2v30.0h-2zM574.5 962.0h2v31.0h-2zM574.5 993.0h2v31.0h-2zM574.5 1116.0h2v30.0h-2zM576.5 748.0h2v31.0h-2zM576.5 810.0h2v30.0h-2zM576.5 840.0h2v31.0h-2zM576.5 871.0h2v30.0h-2zM576.5 932.0h2v30.0h-2zM578.5 1024.0h2v30.0h-2zM578.5 1085.0h2v31.0h-2zM580.5 779.0h1v31.0h-1zM580.5 810.0h1v30.0h-1zM580.5 901.0h1v31.0h-1zM580.5 1116.0h1v30.0h-1zM582.5 962.0h2v31.0h-2zM582.5 1085.0h2v31.0h-2zM582.5 1116.0h2v30.0h-2zM584.5 748.0h2v31.0h-2zM584.5 779.0h2v31.0h-2zM584.5 810.0h2v30.0h-2zM584.5 840.0h2v31.0h-2zM584.5 871.0h2v30.0h-2zM586.5 748.0h2v31.0h-2zM586.5 779.0h2v31.0h-2zM586.5 810.0h2v30.0h-2zM586.5 993.0h2v31.0h-2zM586.5 1116.0h2v30.0h-2zM588.5 779.0h1.5v31.0h-1.5zM588.5 840.0h1.5v31.0h-1.5zM588.5 871.0h1.5v30.0h-1.5zM588.5 901.0h1.5v31.0h-1.5zM588.5 932.0h1.5v30.0h-1.5zM590.0 748.0h1v31.0h-1zM590.0 810.0h1v30.0h-1zM590.0 871.0h1v30.0h-1zM590.0 932.0h1v30.0h-1zM593.0 932.0h2v30.0h-2zM593.0 993.0h2v31.0h-2zM610.5 993.0h1.5v31.0h-1.5zM610.5 1054.0h1.5v31.0h-1.5zM643.0 1116.0h2v30.0h-2z" fill="#aaaa50"/><path d="M362.6 871.0h1.6v30.0h-1.6zM364.2 932.0h1v30.0h-1zM365.2 932.0h1.8v30.0h-1.8z" fill="#0a0af0"/><path d="M367.0 748.0h1v31.0h-1zM367.0 932.0h1v30.0h-1zM367.0 1085.0h1v31.0h-1zM368.0 993.0h1v31.0h-1zM368.0 1054.0h1v31.0h-1zM368.0 1116.0h1v30.0h-1zM369.0 962.0h3v31.0h-3zM369.0 993.0h3v31.0h-3zM369.0 1024.0h3v30.0h-3zM372.0 962.0h3v31.0h-3zM372.0 993.0h3v31.0h-3zM372.0 1085.0h3v31.0h-3zM375.0 962.0h2v31.0h-2zM375.0 1054.0h2v31.0h-2zM375.0 1116.0h2v30.0h-2zM377.0 962.0h1v31.0h-1zM377.0 1024.0h1v30.0h-1zM377.0 1054.0h1v31.0h-1zM378.0 962.0h2v31.0h-2zM378.0 1085.0h2v31.0h-2zM378.0 1116.0h2v30.0h-2zM380.0 748.0h2v31.0h-2zM380.0 993.0h2v31.0h-2zM380.0 1024.0h2v30.0h-2zM380.0 1054.0h2v31.0h-2zM380.0 1085.0h2v31.0h-2zM382.0 1024.0h2v30.0h-2zM382.0 1054.0h2v31.0h-2zM384.0 962.0h1v31.0h-1zM384.0 1024.0h1v30.0h-1zM384.0 1054.0h1v31.0h-1zM384.0 1085.0h1v31.0h-1zM384.0 1116.0h1v30.0h-1zM386.0 1024.0h1v30.0h-1zM387.0 840.0h2v31.0h-2zM387.0 932.0h2v30.0h-2zM387.0 962.0h2v31.0h-2zM387.0 1024.0h2v30.0h-2zM389.0 779.0h1v31.0h-1zM389.0 962.0h1v31.0h-1zM389.0 993.0h1v31.0h-1zM389.0 1024.0h1v30.0h-1zM389.0 1054.0h1v31.0h-1zM389.0 1116.0h1v30.0h-1zM390.0 1054.0h1.5v31.0h-1.5zM391.5 993.0h2v31.0h-2zM391.5 1024.0h2v30.0h-2zM393.5 748.0h1v31.0h-1zM393.5 779.0h1v31.0h-1zM393.5 962.0h1v31.0h-1zM393.5 993.0h1v31.0h-1zM393.5 1116.0h1v30.0h-1zM394.5 962.0h2v31.0h-2zM394.5 1024.0h2v30.0h-2zM394.5 1054.0h2v31.0h-2zM394.5 1085.0h2v31.0h-2zM394.5 1116.0h2v30.0h-2zM396.5 962.0h1v31.0h-1zM396.5 993.0h1v31.0h-1zM396.5 1024.0h1v30.0h-1zM396.5 1085.0h1v31.0h-1zM396.5 1116.0h1v30.0h-1zM397.5 993.0h2.5v31.0h-2.5zM397.5 1116.0h2.5v30.0h-2.5zM400.0 962.0h1.5v31.0h-1.5zM400.0 993.0h1.5v31.0h-1.5zM400.0 1024.0h1.5v30.0h-1.5zM400.0 1085.0h1.5v31.0h-1.5zM401.5 810.0h2v30.0h-2zM401.5 962.0h2v31.0h-2zM401.5 1054.0h2v31.0h-2zM401.5 1085.0h2v31.0h-2zM406.5 779.0h1v31.0h-1zM406.5 810.0h1v30.0h-1zM406.5 901.0h1v31.0h-1zM406.5 932.0h1v30.0h-1zM406.5 1024.0h1v30.0h-1zM406.5 1116.0h1v30.0h-1zM407.5 810.0h1v30.0h-1zM407.5 901.0h1v31.0h-1zM407.5 962.0h1v31.0h-1zM407.5 993.0h1v31.0h-1zM408.5 871.0h2v30.0h-2zM408.5 1116.0h2v30.0h-2zM410.5 748.0h2v31.0h-2zM410.5 779.0h2v31.0h-2zM410.5 810.0h2v30.0h-2zM410.5 840.0h2v31.0h-2zM410.5 871.0h2v30.0h-2zM410.5 932.0h2v30.0h-2zM410.5 1085.0h2v31.0h-2zM410.5 1116.0h2v30.0h-2zM412.5 1116.0h3v30.0h-3zM415.5 840.0h1v31.0h-1zM415.5 932.0h1v30.0h-1zM415.5 962.0h1v31.0h-1zM416.5 993.0h1.5v31.0h-1.5zM416.5 1024.0h1.5v30.0h-1.5zM416.5 1054.0h1.5v31.0h-1.5zM416.5 1085.0h1.5v31.0h-1.5zM416.5 1116.0h1.5v30.0h-1.5zM418.0 962.0h1v31.0h-1zM418.0 1024.0h1v30.0h-1zM418.0 1116.0h1v30.0h-1zM419.0 993.0h2v31.0h-2zM419.0 1085.0h2v31.0h-2zM425.0 840.0h2v31.0h-2zM425.0 871.0h2v30.0h-2zM425.0 932.0h2v30.0h-2zM427.0 901.0h1v31.0h-1zM427.0 1024.0h1v30.0h-1zM427.0 1116.0h1v30.0h-1zM428.0 962.0h2v31.0h-2zM428.0 1024.0h2v30.0h-2zM428.0 1054.0h2v31.0h-2zM430.0 962.0h1v31.0h-1zM430.0 1024.0h1v30.0h-1zM430.0 1054.0h1v31.0h-1zM430.0 1116.0h1v30.0h-1zM431.0 748.0h2v31.0h-2zM431.0 840.0h2v31.0h-2zM436.0 871.0h2v30.0h-2zM436.0 932.0h2v30.0h-2zM436.0 993.0h2v31.0h-2zM436.0 1054.0h2v31.0h-2zM436.0 1085.0h2v31.0h-2zM438.0 871.0h2v30.0h-2zM438.0 901.0h2v31.0h-2zM438.0 932.0h2v30.0h-2zM438.0 1054.0h2v31.0h-2zM438.0 1085.0h2v31.0h-2zM438.0 1116.0h2v30.0h-2zM440.0 840.0h1.5v31.0h-1.5zM441.5 840.0h2v31.0h-2zM441.5 1024.0h2v30.0h-2zM441.5 1054.0h2v31.0h-2zM441.5 1085.0h2v31.0h-2zM441.5 1116.0h2v30.0h-2zM457.0 748.0h1v31.0h-1zM457.0 810.0h1v30.0h-1zM461.5 748.0h2v31.0h-2zM461.5 779.0h2v31.0h-2zM461.5 932.0h2v30.0h-2zM463.5 779.0h2v31.0h-2zM467.0 779.0h3v31.0h-3zM707.5 871.0h2v30.0h-2zM716.5 901.0h2v31.0h-2zM718.5 901.0h1.5v31.0h-1.5z" fill="#5555a5"/><path d="M367.0 779.0h1v31.0h-1zM367.0 840.0h1v31.0h-1zM367.0 871.0h1v30.0h-1zM368.0 962.0h1v31.0h-1zM368.0 1024.0h1v30.0h-1zM368.0 1085.0h1v31.0h-1zM369.0 748.0h3v31.0h-3zM369.0 779.0h3v31.0h-3zM369.0 871.0h3v30.0h-3zM369.0 932.0h3v30.0h-3zM372.0 1024.0h3v30.0h-3zM372.0 1116.0h3v30.0h-3zM375.0 748.0h2v31.0h-2zM375.0 779.0h2v31.0h-2zM375.0 871.0h2v30.0h-2zM375.0 901.0h2v31.0h-2zM375.0 1085.0h2v31.0h-2zM377.0 1085.0h1v31.0h-1zM377.0 1116.0h1v30.0h-1zM378.0 779.0h2v31.0h-2zM378.0 810.0h2v30.0h-2zM378.0 840.0h2v31.0h-2zM378.0 871.0h2v30.0h-2zM378.0 993.0h2v31.0h-2zM378.0 1054.0h2v31.0h-2zM380.0 779.0h2v31.0h-2zM380.0 810.0h2v30.0h-2zM380.0 840.0h2v31.0h-2zM380.0 871.0h2v30.0h-2zM380.0 901.0h2v31.0h-2zM380.0 932.0h2v30.0h-2zM382.0 962.0h2v31.0h-2zM382.0 993.0h2v31.0h-2zM382.0 1085.0h2v31.0h-2zM382.0 1116.0h2v30.0h-2zM385.0 962.0h1v31.0h-1zM385.0 1085.0h1v31.0h-1zM385.0 1116.0h1v30.0h-1zM386.0 962.0h1v31.0h-1zM386.0 993.0h1v31.0h-1zM386.0 1085.0h1v31.0h-1zM387.0 779.0h2v31.0h-2zM387.0 810.0h2v30.0h-2zM387.0 871.0h2v30.0h-2zM389.0 748.0h1v31.0h-1zM389.0 810.0h1v30.0h-1zM389.0 840.0h1v31.0h-1zM389.0 871.0h1v30.0h-1zM389.0 932.0h1v30.0h-1zM390.0 871.0h1.5v30.0h-1.5zM390.0 962.0h1.5v31.0h-1.5zM390.0 1024.0h1.5v30.0h-1.5zM390.0 1085.0h1.5v31.0h-1.5zM390.0 1116.0h1.5v30.0h-1.5zM391.5 932.0h2v30.0h-2zM391.5 962.0h2v31.0h-2zM391.5 1085.0h2v31.0h-2zM391.5 1116.0h2v30.0h-2zM393.5 810.0h1v30.0h-1zM393.5 840.0h1v31.0h-1zM393.5 901.0h1v31.0h-1zM393.5 932.0h1v30.0h-1zM393.5 1024.0h1v30.0h-1zM393.5 1054.0h1v31.0h-1zM393.5 1085.0h1v31.0h-1zM394.5 871.0h2v30.0h-2zM396.5 1054.0h1v31.0h-1zM397.5 871.0h2.5v30.0h-2.5zM401.5 748.0h2v31.0h-2zM401.5 871.0h2v30.0h-2zM401.5 901.0h2v31.0h-2zM401.5 932.0h2v30.0h-2zM403.5 871.0h3v30.0h-3zM406.5 748.0h1v31.0h-1zM406.5 840.0h1v31.0h-1zM406.5 871.0h1v30.0h-1zM406.5 962.0h1v31.0h-1zM406.5 1054.0h1v31.0h-1zM406.5 1085.0h1v31.0h-1zM407.5 1024.0h1v30.0h-1zM407.5 1085.0h1v31.0h-1zM407.5 1116.0h1v30.0h-1zM408.5 748.0h2v31.0h-2zM408.5 779.0h2v31.0h-2zM408.5 962.0h2v31.0h-2zM408.5 993.0h2v31.0h-2zM408.5 1024.0h2v30.0h-2zM410.5 1054.0h2v31.0h-2zM412.5 748.0h3v31.0h-3zM412.5 901.0h3v31.0h-3zM415.5 810.0h1v30.0h-1zM415.5 901.0h1v31.0h-1zM416.5 748.0h1.5v31.0h-1.5zM416.5 871.0h1.5v30.0h-1.5zM416.5 901.0h1.5v31.0h-1.5zM416.5 962.0h1.5v31.0h-1.5zM418.0 993.0h1v31.0h-1zM418.0 1085.0h1v31.0h-1zM419.0 779.0h2v31.0h-2zM419.0 840.0h2v31.0h-2zM419.0 901.0h2v31.0h-2zM421.0 779.0h3v31.0h-3zM421.0 901.0h3v31.0h-3zM421.0 993.0h3v31.0h-3zM421.0 1024.0h3v30.0h-3zM421.0 1054.0h3v31.0h-3zM421.0 1085.0h3v31.0h-3zM421.0 1116.0h3v30.0h-3zM424.0 993.0h1v31.0h-1zM425.0 779.0h2v31.0h-2zM425.0 810.0h2v30.0h-2zM425.0 901.0h2v31.0h-2zM427.0 748.0h1v31.0h-1zM427.0 810.0h1v30.0h-1zM427.0 840.0h1v31.0h-1zM427.0 932.0h1v30.0h-1zM427.0 1085.0h1v31.0h-1zM428.0 1085.0h2v31.0h-2zM428.0 1116.0h2v30.0h-2zM433.0 810.0h3v30.0h-3zM433.0 871.0h3v30.0h-3zM433.0 932.0h3v30.0h-3zM433.0 962.0h3v31.0h-3zM433.0 1054.0h3v31.0h-3zM433.0 1085.0h3v31.0h-3zM436.0 748.0h2v31.0h-2zM436.0 810.0h2v30.0h-2zM436.0 901.0h2v31.0h-2zM438.0 779.0h2v31.0h-2zM438.0 810.0h2v30.0h-2zM438.0 840.0h2v31.0h-2zM438.0 993.0h2v31.0h-2zM438.0 1024.0h2v30.0h-2zM440.0 748.0h1.5v31.0h-1.5zM440.0 779.0h1.5v31.0h-1.5zM440.0 871.0h1.5v30.0h-1.5zM441.5 962.0h2v31.0h-2zM443.5 779.0h2.5v31.0h-2.5zM443.5 871.0h2.5v30.0h-2.5zM443.5 901.0h2.5v31.0h-2.5zM461.5 840.0h2v31.0h-2zM461.5 871.0h2v30.0h-2zM461.5 901.0h2v31.0h-2z" fill="#5050aa"/><path d="M367.0 810.0h1v30.0h-1zM368.0 779.0h1v31.0h-1zM368.0 840.0h1v31.0h-1zM368.0 871.0h1v30.0h-1zM368.0 932.0h1v30.0h-1zM369.0 810.0h3v30.0h-3zM369.0 840.0h3v31.0h-3zM369.0 901.0h3v31.0h-3zM369.0 1116.0h3v30.0h-3zM372.0 901.0h3v31.0h-3zM375.0 810.0h2v30.0h-2zM375.0 840.0h2v31.0h-2zM375.0 932.0h2v30.0h-2zM375.0 993.0h2v31.0h-2zM377.0 748.0h1v31.0h-1zM377.0 932.0h1v30.0h-1zM378.0 748.0h2v31.0h-2zM378.0 901.0h2v31.0h-2zM380.0 1116.0h2v30.0h-2zM382.0 901.0h2v31.0h-2zM384.0 810.0h1v30.0h-1zM384.0 871.0h1v30.0h-1zM384.0 901.0h1v31.0h-1zM384.0 932.0h1v30.0h-1zM385.0 901.0h1v31.0h-1zM385.0 993.0h1v31.0h-1zM385.0 1054.0h1v31.0h-1zM386.0 1054.0h1v31.0h-1zM386.0 1116.0h1v30.0h-1zM387.0 748.0h2v31.0h-2zM387.0 901.0h2v31.0h-2zM390.0 748.0h1.5v31.0h-1.5zM390.0 901.0h1.5v31.0h-1.5zM390.0 932.0h1.5v30.0h-1.5zM390.0 993.0h1.5v31.0h-1.5zM391.5 748.0h2v31.0h-2zM391.5 779.0h2v31.0h-2zM391.5 810.0h2v30.0h-2zM391.5 871.0h2v30.0h-2zM394.5 748.0h2v31.0h-2zM394.5 779.0h2v31.0h-2zM394.5 840.0h2v31.0h-2zM394.5 993.0h2v31.0h-2zM397.5 748.0h2.5v31.0h-2.5zM397.5 779.0h2.5v31.0h-2.5zM397.5 810.0h2.5v30.0h-2.5zM397.5 840.0h2.5v31.0h-2.5zM397.5 901.0h2.5v31.0h-2.5zM397.5 932.0h2.5v30.0h-2.5zM400.0 748.0h1.5v31.0h-1.5zM400.0 810.0h1.5v30.0h-1.5zM400.0 901.0h1.5v31.0h-1.5zM400.0 932.0h1.5v30.0h-1.5zM401.5 779.0h2v31.0h-2zM401.5 840.0h2v31.0h-2zM403.5 748.0h3v31.0h-3zM406.5 993.0h1v31.0h-1zM407.5 1054.0h1v31.0h-1zM408.5 810.0h2v30.0h-2zM408.5 840.0h2v31.0h-2zM412.5 810.0h3v30.0h-3zM412.5 871.0h3v30.0h-3zM415.5 748.0h1v31.0h-1zM416.5 810.0h1.5v30.0h-1.5zM416.5 840.0h1.5v31.0h-1.5zM416.5 932.0h1.5v30.0h-1.5zM418.0 810.0h1v30.0h-1zM418.0 932.0h1v30.0h-1zM419.0 748.0h2v31.0h-2zM419.0 810.0h2v30.0h-2zM419.0 871.0h2v30.0h-2zM421.0 748.0h3v31.0h-3zM421.0 810.0h3v30.0h-3zM421.0 871.0h3v30.0h-3zM421.0 932.0h3v30.0h-3zM421.0 962.0h3v31.0h-3zM424.0 779.0h1v31.0h-1zM424.0 840.0h1v31.0h-1zM424.0 871.0h1v30.0h-1zM424.0 932.0h1v30.0h-1zM424.0 962.0h1v31.0h-1zM424.0 1024.0h1v30.0h-1zM424.0 1054.0h1v31.0h-1zM424.0 1116.0h1v30.0h-1zM427.0 779.0h1v31.0h-1zM428.0 748.0h2v31.0h-2zM428.0 779.0h2v31.0h-2zM428.0 810.0h2v30.0h-2zM428.0 840.0h2v31.0h-2zM428.0 871.0h2v30.0h-2zM428.0 901.0h2v31.0h-2zM428.0 932.0h2v30.0h-2zM430.0 840.0h1v31.0h-1zM430.0 871.0h1v30.0h-1zM430.0 901.0h1v31.0h-1zM433.0 748.0h3v31.0h-3zM433.0 779.0h3v31.0h-3zM433.0 901.0h3v31.0h-3zM433.0 1024.0h3v30.0h-3zM438.0 748.0h2v31.0h-2zM440.0 901.0h1.5v31.0h-1.5zM440.0 932.0h1.5v30.0h-1.5zM443.5 810.0h2.5v30.0h-2.5zM443.5 840.0h2.5v31.0h-2.5zM443.5 932.0h2.5v30.0h-2.5zM787.0 810.0h2v30.0h-2z" fill="#4b4baf"/><path d="M367.0 962.0h1v31.0h-1zM431.0 962.0h2v31.0h-2zM440.0 1054.0h1.5v31.0h-1.5zM446.0 901.0h2v31.0h-2zM446.0 993.0h2v31.0h-2zM446.0 1024.0h2v30.0h-2zM446.0 1054.0h2v31.0h-2zM448.0 962.0h1.5v31.0h-1.5zM448.0 1024.0h1.5v30.0h-1.5zM448.0 1054.0h1.5v31.0h-1.5zM448.0 1085.0h1.5v31.0h-1.5zM448.0 1116.0h1.5v30.0h-1.5zM449.5 810.0h1.5v30.0h-1.5zM451.0 748.0h1v31.0h-1zM451.0 810.0h1v30.0h-1zM451.0 871.0h1v30.0h-1zM451.0 901.0h1v31.0h-1zM451.0 962.0h1v31.0h-1zM451.0 1024.0h1v30.0h-1zM451.0 1054.0h1v31.0h-1zM452.0 962.0h1v31.0h-1zM452.0 1054.0h1v31.0h-1zM452.0 1116.0h1v30.0h-1zM456.0 1085.0h1v31.0h-1zM456.0 1116.0h1v30.0h-1zM457.0 962.0h1v31.0h-1zM457.0 993.0h1v31.0h-1zM457.0 1024.0h1v30.0h-1zM457.0 1085.0h1v31.0h-1zM458.0 748.0h2v31.0h-2zM458.0 810.0h2v30.0h-2zM458.0 932.0h2v30.0h-2zM458.0 962.0h2v31.0h-2zM458.0 993.0h2v31.0h-2zM458.0 1024.0h2v30.0h-2zM460.0 779.0h1.5v31.0h-1.5zM460.0 810.0h1.5v30.0h-1.5zM460.0 932.0h1.5v30.0h-1.5zM463.5 840.0h2v31.0h-2zM465.5 748.0h1.5v31.0h-1.5zM465.5 779.0h1.5v31.0h-1.5zM465.5 810.0h1.5v30.0h-1.5zM465.5 901.0h1.5v31.0h-1.5zM470.0 810.0h2v30.0h-2zM470.0 901.0h2v31.0h-2zM472.0 962.0h1.5v31.0h-1.5zM472.0 993.0h1.5v31.0h-1.5zM472.0 1116.0h1.5v30.0h-1.5zM473.5 748.0h1.5v31.0h-1.5zM473.5 810.0h1.5v30.0h-1.5zM473.5 840.0h1.5v31.0h-1.5zM473.5 901.0h1.5v31.0h-1.5zM473.5 993.0h1.5v31.0h-1.5zM475.0 901.0h1v31.0h-1zM479.0 748.0h2v31.0h-2zM479.0 779.0h2v31.0h-2zM479.0 840.0h2v31.0h-2zM479.0 901.0h2v31.0h-2zM479.0 932.0h2v30.0h-2zM482.0 993.0h1.5v31.0h-1.5zM482.0 1024.0h1.5v30.0h-1.5zM482.0 1054.0h1.5v31.0h-1.5zM482.0 1085.0h1.5v31.0h-1.5zM484.5 779.0h2v31.0h-2zM484.5 840.0h2v31.0h-2zM484.5 871.0h2v30.0h-2zM484.5 901.0h2v31.0h-2zM484.5 1024.0h2v30.0h-2zM484.5 1116.0h2v30.0h-2zM486.5 871.0h2v30.0h-2zM486.5 962.0h2v31.0h-2zM486.5 1054.0h2v31.0h-2zM488.5 810.0h1v30.0h-1zM488.5 871.0h1v30.0h-1zM488.5 901.0h1v31.0h-1zM489.5 748.0h3v31.0h-3zM489.5 779.0h3v31.0h-3zM489.5 810.0h3v30.0h-3zM489.5 871.0h3v30.0h-3zM492.5 871.0h1v30.0h-1zM492.5 901.0h1v31.0h-1zM492.5 993.0h1v31.0h-1zM492.5 1116.0h1v30.0h-1zM493.5 748.0h2v31.0h-2zM493.5 871.0h2v30.0h-2zM493.5 932.0h2v30.0h-2zM495.5 1054.0h2v31.0h-2zM497.5 932.0h1.5v30.0h-1.5zM500.5 779.0h3v31.0h-3zM500.5 810.0h3v30.0h-3zM500.5 871.0h3v30.0h-3zM500.5 901.0h3v31.0h-3zM500.5 932.0h3v30.0h-3zM503.5 748.0h1.5v31.0h-1.5zM505.0 840.0h2v31.0h-2zM505.0 901.0h2v31.0h-2zM505.0 932.0h2v30.0h-2zM507.0 901.0h2v31.0h-2zM509.0 810.0h2v30.0h-2zM509.0 871.0h2v30.0h-2zM509.0 932.0h2v30.0h-2zM509.0 993.0h2v31.0h-2zM509.0 1024.0h2v30.0h-2zM511.0 748.0h2v31.0h-2zM511.0 779.0h2v31.0h-2zM511.0 810.0h2v30.0h-2zM511.0 901.0h2v31.0h-2zM511.0 932.0h2v30.0h-2zM513.0 871.0h1v30.0h-1zM513.0 1024.0h1v30.0h-1zM513.0 1116.0h1v30.0h-1zM514.0 748.0h1v31.0h-1zM514.0 810.0h1v30.0h-1zM514.0 932.0h1v30.0h-1zM515.0 779.0h1.5v31.0h-1.5zM515.0 1116.0h1.5v30.0h-1.5zM516.5 748.0h2v31.0h-2zM516.5 779.0h2v31.0h-2zM516.5 810.0h2v30.0h-2zM516.5 840.0h2v31.0h-2zM516.5 871.0h2v30.0h-2zM516.5 932.0h2v30.0h-2zM518.5 748.0h3v31.0h-3zM521.5 871.0h3v30.0h-3zM521.5 932.0h3v30.0h-3zM524.5 810.0h1v30.0h-1zM524.5 840.0h1v31.0h-1zM525.5 748.0h1v31.0h-1zM525.5 779.0h1v31.0h-1zM525.5 810.0h1v30.0h-1zM525.5 840.0h1v31.0h-1zM525.5 871.0h1v30.0h-1zM525.5 932.0h1v30.0h-1zM526.5 748.0h3v31.0h-3zM529.5 748.0h3v31.0h-3zM529.5 779.0h3v31.0h-3zM529.5 810.0h3v30.0h-3zM529.5 840.0h3v31.0h-3zM529.5 871.0h3v30.0h-3zM532.5 748.0h1.5v31.0h-1.5zM532.5 810.0h1.5v30.0h-1.5zM532.5 901.0h1.5v31.0h-1.5zM532.5 1024.0h1.5v30.0h-1.5zM534.0 748.0h3v31.0h-3zM534.0 810.0h3v30.0h-3zM534.0 840.0h3v31.0h-3zM534.0 871.0h3v30.0h-3zM539.0 962.0h3v31.0h-3zM539.0 1085.0h3v31.0h-3zM600.0 810.0h1.5v30.0h-1.5zM600.0 901.0h1.5v31.0h-1.5zM665.0 748.0h2v31.0h-2zM665.0 901.0h2v31.0h-2zM681.0 779.0h1v31.0h-1zM681.0 871.0h1v30.0h-1zM681.0 932.0h1v30.0h-1zM685.0 779.0h1v31.0h-1zM747.5 871.0h3v30.0h-3zM750.5 871.0h1v30.0h-1zM753.5 871.0h1v30.0h-1zM755.5 871.0h2v30.0h-2zM862.0 871.0h3v30.0h-3z" fill="#646496"/><path d="M367.0 993.0h1v31.0h-1zM367.0 1116.0h1v30.0h-1zM372.0 1054.0h3v31.0h-3zM375.0 1024.0h2v30.0h-2zM377.0 993.0h1v31.0h-1zM380.0 962.0h2v31.0h-2zM389.0 1085.0h1v31.0h-1zM391.5 1054.0h2v31.0h-2zM397.5 962.0h2.5v31.0h-2.5zM397.5 1024.0h2.5v30.0h-2.5zM397.5 1054.0h2.5v31.0h-2.5zM397.5 1085.0h2.5v31.0h-2.5zM400.0 1054.0h1.5v31.0h-1.5zM400.0 1116.0h1.5v30.0h-1.5zM401.5 993.0h2v31.0h-2zM401.5 1116.0h2v30.0h-2zM403.5 993.0h3v31.0h-3zM403.5 1054.0h3v31.0h-3zM403.5 1116.0h3v30.0h-3zM407.5 748.0h1v31.0h-1zM407.5 779.0h1v31.0h-1zM407.5 840.0h1v31.0h-1zM407.5 871.0h1v30.0h-1zM407.5 932.0h1v30.0h-1zM410.5 901.0h2v31.0h-2zM410.5 993.0h2v31.0h-2zM410.5 1024.0h2v30.0h-2zM412.5 993.0h3v31.0h-3zM412.5 1024.0h3v30.0h-3zM412.5 1085.0h3v31.0h-3zM415.5 993.0h1v31.0h-1zM415.5 1054.0h1v31.0h-1zM415.5 1116.0h1v30.0h-1zM418.0 1054.0h1v31.0h-1zM419.0 962.0h2v31.0h-2zM419.0 1024.0h2v30.0h-2zM419.0 1054.0h2v31.0h-2zM425.0 962.0h2v31.0h-2zM425.0 993.0h2v31.0h-2zM425.0 1024.0h2v30.0h-2zM425.0 1085.0h2v31.0h-2zM427.0 993.0h1v31.0h-1zM427.0 1054.0h1v31.0h-1zM430.0 993.0h1v31.0h-1zM430.0 1085.0h1v31.0h-1zM431.0 779.0h2v31.0h-2zM431.0 871.0h2v30.0h-2zM431.0 901.0h2v31.0h-2zM431.0 932.0h2v30.0h-2zM431.0 993.0h2v31.0h-2zM431.0 1085.0h2v31.0h-2zM431.0 1116.0h2v30.0h-2zM436.0 779.0h2v31.0h-2zM436.0 840.0h2v31.0h-2zM436.0 1024.0h2v30.0h-2zM436.0 1116.0h2v30.0h-2zM438.0 962.0h2v31.0h-2zM440.0 993.0h1.5v31.0h-1.5zM441.5 748.0h2v31.0h-2zM441.5 779.0h2v31.0h-2zM441.5 810.0h2v30.0h-2zM441.5 871.0h2v30.0h-2zM441.5 901.0h2v31.0h-2zM441.5 932.0h2v30.0h-2zM443.5 962.0h2.5v31.0h-2.5zM443.5 993.0h2.5v31.0h-2.5zM443.5 1024.0h2.5v30.0h-2.5zM443.5 1054.0h2.5v31.0h-2.5zM443.5 1085.0h2.5v31.0h-2.5zM443.5 1116.0h2.5v30.0h-2.5zM446.0 810.0h2v30.0h-2zM446.0 1085.0h2v31.0h-2zM446.0 1116.0h2v30.0h-2zM448.0 748.0h1.5v31.0h-1.5zM448.0 871.0h1.5v30.0h-1.5zM452.0 748.0h1v31.0h-1zM452.0 871.0h1v30.0h-1zM452.0 901.0h1v31.0h-1zM457.0 840.0h1v31.0h-1zM457.0 871.0h1v30.0h-1zM457.0 901.0h1v31.0h-1zM457.0 932.0h1v30.0h-1zM458.0 871.0h2v30.0h-2zM463.5 871.0h2v30.0h-2zM463.5 932.0h2v30.0h-2zM465.5 840.0h1.5v31.0h-1.5zM465.5 962.0h1.5v31.0h-1.5zM467.0 748.0h3v31.0h-3zM467.0 810.0h3v30.0h-3zM467.0 840.0h3v31.0h-3zM467.0 871.0h3v30.0h-3zM467.0 901.0h3v31.0h-3zM467.0 932.0h3v30.0h-3zM472.0 840.0h1.5v31.0h-1.5zM472.0 901.0h1.5v31.0h-1.5zM477.0 901.0h2v31.0h-2zM481.0 779.0h1v31.0h-1zM481.0 932.0h1v30.0h-1zM483.5 779.0h1v31.0h-1zM489.5 901.0h3v31.0h-3zM492.5 748.0h1v31.0h-1zM492.5 779.0h1v31.0h-1zM492.5 932.0h1v30.0h-1zM495.5 748.0h2v31.0h-2zM495.5 779.0h2v31.0h-2zM495.5 810.0h2v30.0h-2zM495.5 840.0h2v31.0h-2zM495.5 871.0h2v30.0h-2zM495.5 932.0h2v30.0h-2zM509.0 901.0h2v31.0h-2zM524.5 871.0h1v30.0h-1zM524.5 932.0h1v30.0h-1zM526.5 901.0h3v31.0h-3zM537.0 779.0h2v31.0h-2zM537.0 810.0h2v30.0h-2zM627.0 871.0h1v30.0h-1zM663.0 871.0h2v30.0h-2zM665.0 871.0h2v30.0h-2zM677.0 871.0h2v30.0h-2zM709.5 871.0h1v30.0h-1zM710.5 871.0h3v30.0h-3zM713.5 871.0h1.5v30.0h-1.5zM715.0 871.0h1.5v30.0h-1.5zM848.5 901.0h2v31.0h-2z" fill="#5a5aa0"/><path d="M367.0 1024.0h1v30.0h-1zM367.0 1054.0h1v31.0h-1zM387.0 1054.0h2v31.0h-2zM387.0 1116.0h2v30.0h-2zM403.5 962.0h3v31.0h-3zM403.5 1024.0h3v30.0h-3zM403.5 1085.0h3v31.0h-3zM412.5 962.0h3v31.0h-3zM412.5 1054.0h3v31.0h-3zM415.5 1085.0h1v31.0h-1zM425.0 1054.0h2v31.0h-2zM425.0 1116.0h2v30.0h-2zM427.0 962.0h1v31.0h-1zM431.0 810.0h2v30.0h-2zM431.0 1024.0h2v30.0h-2zM431.0 1054.0h2v31.0h-2zM440.0 962.0h1.5v31.0h-1.5zM440.0 1024.0h1.5v30.0h-1.5zM440.0 1085.0h1.5v31.0h-1.5zM440.0 1116.0h1.5v30.0h-1.5zM446.0 748.0h2v31.0h-2zM446.0 779.0h2v31.0h-2zM446.0 840.0h2v31.0h-2zM446.0 871.0h2v30.0h-2zM446.0 962.0h2v31.0h-2zM448.0 779.0h1.5v31.0h-1.5zM448.0 810.0h1.5v30.0h-1.5zM448.0 901.0h1.5v31.0h-1.5zM448.0 932.0h1.5v30.0h-1.5zM448.0 993.0h1.5v31.0h-1.5zM451.0 840.0h1v31.0h-1zM452.0 810.0h1v30.0h-1zM452.0 932.0h1v30.0h-1zM452.0 993.0h1v31.0h-1zM457.0 779.0h1v31.0h-1zM457.0 1054.0h1v31.0h-1zM458.0 779.0h2v31.0h-2zM458.0 840.0h2v31.0h-2zM458.0 901.0h2v31.0h-2zM458.0 1085.0h2v31.0h-2zM460.0 840.0h1.5v31.0h-1.5zM460.0 901.0h1.5v31.0h-1.5zM463.5 748.0h2v31.0h-2zM463.5 810.0h2v30.0h-2zM463.5 901.0h2v31.0h-2zM465.5 932.0h1.5v30.0h-1.5zM465.5 993.0h1.5v31.0h-1.5zM465.5 1024.0h1.5v30.0h-1.5zM465.5 1054.0h1.5v31.0h-1.5zM465.5 1085.0h1.5v31.0h-1.5zM465.5 1116.0h1.5v30.0h-1.5zM470.0 748.0h2v31.0h-2zM470.0 779.0h2v31.0h-2zM470.0 840.0h2v31.0h-2zM470.0 871.0h2v30.0h-2zM470.0 932.0h2v30.0h-2zM472.0 748.0h1.5v31.0h-1.5zM472.0 779.0h1.5v31.0h-1.5zM472.0 810.0h1.5v30.0h-1.5zM472.0 871.0h1.5v30.0h-1.5zM472.0 1024.0h1.5v30.0h-1.5zM472.0 1054.0h1.5v31.0h-1.5zM472.0 1085.0h1.5v31.0h-1.5zM473.5 779.0h1.5v31.0h-1.5zM473.5 871.0h1.5v30.0h-1.5zM473.5 932.0h1.5v30.0h-1.5zM477.0 810.0h2v30.0h-2zM477.0 840.0h2v31.0h-2zM477.0 871.0h2v30.0h-2zM477.0 932.0h2v30.0h-2zM481.0 748.0h1v31.0h-1zM481.0 810.0h1v30.0h-1zM481.0 840.0h1v31.0h-1zM481.0 871.0h1v30.0h-1zM481.0 901.0h1v31.0h-1zM482.0 748.0h1.5v31.0h-1.5zM482.0 779.0h1.5v31.0h-1.5zM482.0 810.0h1.5v30.0h-1.5zM482.0 840.0h1.5v31.0h-1.5zM482.0 871.0h1.5v30.0h-1.5zM482.0 901.0h1.5v31.0h-1.5zM482.0 932.0h1.5v30.0h-1.5zM482.0 1116.0h1.5v30.0h-1.5zM483.5 748.0h1v31.0h-1zM483.5 810.0h1v30.0h-1zM483.5 871.0h1v30.0h-1zM483.5 901.0h1v31.0h-1zM483.5 932.0h1v30.0h-1zM484.5 932.0h2v30.0h-2zM484.5 962.0h2v31.0h-2zM486.5 1024.0h2v30.0h-2zM486.5 1116.0h2v30.0h-2zM488.5 840.0h1v31.0h-1zM488.5 932.0h1v30.0h-1zM489.5 840.0h3v31.0h-3zM489.5 932.0h3v30.0h-3zM492.5 810.0h1v30.0h-1zM492.5 840.0h1v31.0h-1zM492.5 962.0h1v31.0h-1zM492.5 1054.0h1v31.0h-1zM495.5 901.0h2v31.0h-2zM495.5 962.0h2v31.0h-2zM497.5 748.0h1.5v31.0h-1.5zM497.5 779.0h1.5v31.0h-1.5zM497.5 810.0h1.5v30.0h-1.5zM497.5 840.0h1.5v31.0h-1.5zM497.5 901.0h1.5v31.0h-1.5zM505.0 779.0h2v31.0h-2zM505.0 810.0h2v30.0h-2zM505.0 871.0h2v30.0h-2zM509.0 748.0h2v31.0h-2zM509.0 779.0h2v31.0h-2zM509.0 840.0h2v31.0h-2zM511.0 840.0h2v31.0h-2zM514.0 901.0h1v31.0h-1zM515.0 871.0h1.5v30.0h-1.5zM516.5 901.0h2v31.0h-2zM518.5 779.0h3v31.0h-3zM518.5 810.0h3v30.0h-3zM518.5 840.0h3v31.0h-3zM518.5 871.0h3v30.0h-3zM518.5 901.0h3v31.0h-3zM518.5 932.0h3v30.0h-3zM524.5 748.0h1v31.0h-1zM524.5 779.0h1v31.0h-1zM524.5 901.0h1v31.0h-1zM526.5 779.0h3v31.0h-3zM526.5 810.0h3v30.0h-3zM526.5 840.0h3v31.0h-3zM526.5 932.0h3v30.0h-3zM529.5 901.0h3v31.0h-3zM532.5 779.0h1.5v31.0h-1.5zM537.0 748.0h2v31.0h-2zM537.0 840.0h2v31.0h-2zM537.0 871.0h2v30.0h-2zM537.0 901.0h2v31.0h-2zM537.0 932.0h2v30.0h-2zM600.0 871.0h1.5v30.0h-1.5zM667.0 871.0h2v30.0h-2zM669.0 871.0h2v30.0h-2zM672.0 871.0h2v30.0h-2zM674.0 871.0h3v30.0h-3zM751.5 871.0h2v30.0h-2zM754.5 871.0h1v30.0h-1zM850.5 901.0h2v31.0h-2zM855.5 871.0h2v30.0h-2zM857.5 871.0h3v30.0h-3zM860.5 871.0h1.5v30.0h-1.5zM865.0 871.0h1v30.0h-1z" fill="#5f5f9b"/><path d="M369.0 1054.0h3v31.0h-3zM369.0 1085.0h3v31.0h-3zM378.0 1024.0h2v30.0h-2zM408.5 901.0h2v31.0h-2zM408.5 1054.0h2v31.0h-2zM408.5 1085.0h2v31.0h-2zM415.5 779.0h1v31.0h-1zM415.5 871.0h1v30.0h-1zM424.0 1085.0h1v31.0h-1zM425.0 748.0h2v31.0h-2zM427.0 871.0h1v30.0h-1zM436.0 962.0h2v31.0h-2zM441.5 993.0h2v31.0h-2z" fill="#5555aa"/><path d="M372.0 810.0h3v30.0h-3zM385.0 840.0h1v31.0h-1zM385.0 871.0h1v30.0h-1z" fill="#4646b9"/><path d="M377.0 779.0h1v31.0h-1z" fill="#4141be"/><path d="M377.0 840.0h1v31.0h-1zM382.0 748.0h2v31.0h-2zM384.0 748.0h1v31.0h-1zM391.5 840.0h2v31.0h-2zM394.5 810.0h2v30.0h-2zM394.5 932.0h2v30.0h-2zM412.5 840.0h3v31.0h-3zM412.5 932.0h3v30.0h-3zM419.0 932.0h2v30.0h-2z" fill="#4b4bb4"/><path d="M384.0 779.0h1v31.0h-1zM389.0 901.0h1v31.0h-1zM393.5 871.0h1v30.0h-1zM408.5 932.0h2v30.0h-2zM433.0 993.0h3v31.0h-3zM433.0 1116.0h3v30.0h-3zM440.0 810.0h1.5v30.0h-1.5zM784.0 810.0h1v30.0h-1z" fill="#5050af"/><path d="M384.0 993.0h1v31.0h-1zM387.0 993.0h2v31.0h-2zM387.0 1085.0h2v31.0h-2zM401.5 1024.0h2v30.0h-2zM410.5 962.0h2v31.0h-2zM419.0 1116.0h2v30.0h-2zM428.0 993.0h2v31.0h-2zM452.0 840.0h1v31.0h-1zM461.5 810.0h2v30.0h-2zM465.5 871.0h1.5v30.0h-1.5zM472.0 932.0h1.5v30.0h-1.5z" fill="#5a5aa5"/><path d="M415.5 1024.0h1v30.0h-1zM448.0 840.0h1.5v31.0h-1.5zM452.0 779.0h1v31.0h-1zM477.0 748.0h2v31.0h-2zM477.0 779.0h2v31.0h-2zM671.0 871.0h1v30.0h-1z" fill="#5f5fa0"/><path d="M446.0 932.0h2v30.0h-2zM452.0 1024.0h1v30.0h-1zM483.5 840.0h1v31.0h-1zM497.5 871.0h1.5v30.0h-1.5zM505.0 748.0h2v31.0h-2zM521.5 748.0h3v31.0h-3zM526.5 871.0h3v30.0h-3zM529.5 932.0h3v30.0h-3zM854.5 871.0h1v30.0h-1z" fill="#64649b"/><path d="M449.5 748.0h1.5v31.0h-1.5zM449.5 962.0h1.5v31.0h-1.5zM453.0 748.0h3v31.0h-3zM453.0 840.0h3v31.0h-3zM453.0 871.0h3v30.0h-3zM453.0 901.0h3v31.0h-3zM453.0 932.0h3v30.0h-3zM453.0 993.0h3v31.0h-3zM453.0 1024.0h3v30.0h-3zM453.0 1085.0h3v31.0h-3zM456.0 810.0h1v30.0h-1zM456.0 871.0h1v30.0h-1zM456.0 1024.0h1v30.0h-1zM460.0 1116.0h1.5v30.0h-1.5zM461.5 962.0h2v31.0h-2zM461.5 993.0h2v31.0h-2zM461.5 1024.0h2v30.0h-2zM461.5 1054.0h2v31.0h-2zM463.5 962.0h2v31.0h-2zM463.5 1024.0h2v30.0h-2zM463.5 1054.0h2v31.0h-2zM463.5 1085.0h2v31.0h-2zM463.5 1116.0h2v30.0h-2zM467.0 962.0h3v31.0h-3zM467.0 993.0h3v31.0h-3zM470.0 993.0h2v31.0h-2zM473.5 1116.0h1.5v30.0h-1.5zM475.0 810.0h1v30.0h-1zM475.0 962.0h1v31.0h-1zM475.0 1024.0h1v30.0h-1zM475.0 1054.0h1v31.0h-1zM476.0 748.0h1v31.0h-1zM476.0 810.0h1v30.0h-1zM476.0 840.0h1v31.0h-1zM476.0 962.0h1v31.0h-1zM476.0 993.0h1v31.0h-1zM476.0 1024.0h1v30.0h-1zM476.0 1054.0h1v31.0h-1zM476.0 1116.0h1v30.0h-1zM477.0 1024.0h2v30.0h-2zM477.0 1054.0h2v31.0h-2zM477.0 1085.0h2v31.0h-2zM479.0 962.0h2v31.0h-2zM479.0 1024.0h2v30.0h-2zM479.0 1054.0h2v31.0h-2zM479.0 1085.0h2v31.0h-2zM479.0 1116.0h2v30.0h-2zM481.0 962.0h1v31.0h-1zM481.0 1024.0h1v30.0h-1zM481.0 1054.0h1v31.0h-1zM483.5 1085.0h1v31.0h-1zM483.5 1116.0h1v30.0h-1zM486.5 779.0h2v31.0h-2zM486.5 901.0h2v31.0h-2zM486.5 932.0h2v30.0h-2zM488.5 993.0h1v31.0h-1zM489.5 962.0h3v31.0h-3zM489.5 1054.0h3v31.0h-3zM489.5 1085.0h3v31.0h-3zM493.5 840.0h2v31.0h-2zM493.5 962.0h2v31.0h-2zM493.5 993.0h2v31.0h-2zM493.5 1085.0h2v31.0h-2zM495.5 1116.0h2v30.0h-2zM497.5 962.0h1.5v31.0h-1.5zM497.5 1024.0h1.5v30.0h-1.5zM497.5 1085.0h1.5v31.0h-1.5zM499.0 779.0h1.5v31.0h-1.5zM499.0 840.0h1.5v31.0h-1.5zM499.0 871.0h1.5v30.0h-1.5zM499.0 932.0h1.5v30.0h-1.5zM499.0 962.0h1.5v31.0h-1.5zM499.0 1024.0h1.5v30.0h-1.5zM499.0 1054.0h1.5v31.0h-1.5zM499.0 1085.0h1.5v31.0h-1.5zM499.0 1116.0h1.5v30.0h-1.5zM500.5 962.0h3v31.0h-3zM500.5 1024.0h3v30.0h-3zM500.5 1054.0h3v31.0h-3zM503.5 871.0h1.5v30.0h-1.5zM503.5 962.0h1.5v31.0h-1.5zM503.5 1024.0h1.5v30.0h-1.5zM503.5 1085.0h1.5v31.0h-1.5zM505.0 962.0h2v31.0h-2zM505.0 993.0h2v31.0h-2zM505.0 1024.0h2v30.0h-2zM505.0 1054.0h2v31.0h-2zM505.0 1116.0h2v30.0h-2zM507.0 748.0h2v31.0h-2zM507.0 840.0h2v31.0h-2zM507.0 962.0h2v31.0h-2zM507.0 993.0h2v31.0h-2zM507.0 1024.0h2v30.0h-2zM507.0 1054.0h2v31.0h-2zM509.0 962.0h2v31.0h-2zM511.0 993.0h2v31.0h-2zM511.0 1024.0h2v30.0h-2zM514.0 962.0h1v31.0h-1zM514.0 1085.0h1v31.0h-1zM514.0 1116.0h1v30.0h-1zM515.0 993.0h1.5v31.0h-1.5zM515.0 1085.0h1.5v31.0h-1.5zM516.5 1024.0h2v30.0h-2zM516.5 1085.0h2v31.0h-2zM516.5 1116.0h2v30.0h-2zM518.5 1024.0h3v30.0h-3zM518.5 1054.0h3v31.0h-3zM518.5 1085.0h3v31.0h-3zM521.5 1054.0h3v31.0h-3zM524.5 993.0h1v31.0h-1zM524.5 1085.0h1v31.0h-1zM524.5 1116.0h1v30.0h-1zM525.5 993.0h1v31.0h-1zM525.5 1085.0h1v31.0h-1zM526.5 962.0h3v31.0h-3zM526.5 1024.0h3v30.0h-3zM526.5 1054.0h3v31.0h-3zM529.5 962.0h3v31.0h-3zM529.5 1116.0h3v30.0h-3zM532.5 962.0h1.5v31.0h-1.5zM532.5 993.0h1.5v31.0h-1.5zM532.5 1054.0h1.5v31.0h-1.5zM534.0 962.0h3v31.0h-3zM534.0 1024.0h3v30.0h-3zM534.0 1054.0h3v31.0h-3zM534.0 1085.0h3v31.0h-3zM534.0 1116.0h3v30.0h-3zM539.0 748.0h3v31.0h-3zM539.0 779.0h3v31.0h-3zM539.0 901.0h3v31.0h-3zM663.0 748.0h2v31.0h-2zM663.0 779.0h2v31.0h-2zM663.0 810.0h2v30.0h-2zM663.0 840.0h2v31.0h-2zM663.0 901.0h2v31.0h-2zM667.0 779.0h2v31.0h-2zM667.0 810.0h2v30.0h-2zM667.0 840.0h2v31.0h-2zM667.0 901.0h2v31.0h-2zM667.0 932.0h2v30.0h-2zM669.0 748.0h2v31.0h-2zM669.0 779.0h2v31.0h-2zM669.0 810.0h2v30.0h-2zM669.0 840.0h2v31.0h-2zM669.0 901.0h2v31.0h-2zM669.0 932.0h2v30.0h-2zM671.0 901.0h1v31.0h-1zM671.0 932.0h1v30.0h-1zM672.0 748.0h2v31.0h-2zM672.0 779.0h2v31.0h-2zM672.0 810.0h2v30.0h-2zM672.0 840.0h2v31.0h-2zM672.0 901.0h2v31.0h-2zM672.0 932.0h2v30.0h-2zM674.0 779.0h3v31.0h-3zM674.0 901.0h3v31.0h-3zM674.0 932.0h3v30.0h-3zM677.0 779.0h2v31.0h-2zM679.0 748.0h1v31.0h-1zM679.0 840.0h1v31.0h-1zM679.0 871.0h1v30.0h-1zM679.0 932.0h1v30.0h-1zM680.0 748.0h1v31.0h-1zM680.0 840.0h1v31.0h-1zM680.0 871.0h1v30.0h-1zM680.0 901.0h1v31.0h-1zM680.0 932.0h1v30.0h-1zM682.0 748.0h1v31.0h-1zM682.0 779.0h1v31.0h-1zM682.0 810.0h1v30.0h-1zM682.0 871.0h1v30.0h-1zM682.0 901.0h1v31.0h-1zM682.0 932.0h1v30.0h-1zM683.0 779.0h2v31.0h-2zM683.0 810.0h2v30.0h-2zM683.0 840.0h2v31.0h-2zM683.0 871.0h2v30.0h-2zM683.0 901.0h2v31.0h-2zM686.0 748.0h1v31.0h-1zM686.0 779.0h1v31.0h-1zM686.0 840.0h1v31.0h-1zM686.0 871.0h1v30.0h-1zM686.0 901.0h1v31.0h-1zM686.0 932.0h1v30.0h-1zM687.0 748.0h1.5v31.0h-1.5zM687.0 779.0h1.5v31.0h-1.5zM687.0 810.0h1.5v30.0h-1.5zM687.0 901.0h1.5v31.0h-1.5zM687.0 932.0h1.5v30.0h-1.5zM688.5 748.0h1.5v31.0h-1.5zM688.5 779.0h1.5v31.0h-1.5zM688.5 810.0h1.5v30.0h-1.5zM688.5 840.0h1.5v31.0h-1.5zM688.5 932.0h1.5v30.0h-1.5zM690.0 748.0h1v31.0h-1zM690.0 779.0h1v31.0h-1zM690.0 840.0h1v31.0h-1zM690.0 871.0h1v30.0h-1zM690.0 901.0h1v31.0h-1zM690.0 932.0h1v30.0h-1zM691.0 748.0h1v31.0h-1zM691.0 779.0h1v31.0h-1zM691.0 810.0h1v30.0h-1zM691.0 840.0h1v31.0h-1zM691.0 901.0h1v31.0h-1zM691.0 932.0h1v30.0h-1zM692.0 871.0h1v30.0h-1zM693.0 748.0h2v31.0h-2zM693.0 901.0h2v31.0h-2zM696.0 748.0h2v31.0h-2zM696.0 779.0h2v31.0h-2zM696.0 932.0h2v30.0h-2zM698.0 748.0h1v31.0h-1zM698.0 779.0h1v31.0h-1zM698.0 840.0h1v31.0h-1zM698.0 901.0h1v31.0h-1zM700.5 871.0h2v30.0h-2zM702.5 748.0h1v31.0h-1zM702.5 779.0h1v31.0h-1zM702.5 810.0h1v30.0h-1zM702.5 840.0h1v31.0h-1zM702.5 871.0h1v30.0h-1zM702.5 901.0h1v31.0h-1zM703.5 962.0h1v31.0h-1zM703.5 993.0h1v31.0h-1zM703.5 1024.0h1v30.0h-1zM703.5 1085.0h1v31.0h-1zM704.5 748.0h1v31.0h-1zM704.5 779.0h1v31.0h-1zM704.5 810.0h1v30.0h-1zM704.5 840.0h1v31.0h-1zM704.5 871.0h1v30.0h-1zM704.5 901.0h1v31.0h-1zM704.5 932.0h1v30.0h-1zM705.5 748.0h2v31.0h-2zM705.5 779.0h2v31.0h-2zM705.5 810.0h2v30.0h-2zM705.5 901.0h2v31.0h-2zM707.5 810.0h2v30.0h-2zM707.5 901.0h2v31.0h-2zM707.5 932.0h2v30.0h-2zM710.5 748.0h3v31.0h-3zM710.5 779.0h3v31.0h-3zM713.5 748.0h1.5v31.0h-1.5zM715.0 779.0h1.5v31.0h-1.5zM715.0 932.0h1.5v30.0h-1.5zM716.5 748.0h2v31.0h-2zM716.5 779.0h2v31.0h-2zM716.5 932.0h2v30.0h-2zM718.5 748.0h1.5v31.0h-1.5zM718.5 779.0h1.5v31.0h-1.5zM718.5 840.0h1.5v31.0h-1.5zM718.5 871.0h1.5v30.0h-1.5zM718.5 932.0h1.5v30.0h-1.5zM720.0 748.0h2v31.0h-2zM720.0 779.0h2v31.0h-2zM720.0 810.0h2v30.0h-2zM720.0 840.0h2v31.0h-2zM720.0 871.0h2v30.0h-2zM720.0 901.0h2v31.0h-2zM720.0 932.0h2v30.0h-2zM726.0 779.0h2v31.0h-2zM726.0 810.0h2v30.0h-2zM726.0 840.0h2v31.0h-2zM726.0 871.0h2v30.0h-2zM726.0 901.0h2v31.0h-2zM726.0 932.0h2v30.0h-2zM728.0 748.0h2v31.0h-2zM728.0 779.0h2v31.0h-2zM728.0 810.0h2v30.0h-2zM728.0 840.0h2v31.0h-2zM728.0 901.0h2v31.0h-2zM728.0 932.0h2v30.0h-2zM730.0 748.0h2v31.0h-2zM730.0 779.0h2v31.0h-2zM730.0 810.0h2v30.0h-2zM730.0 840.0h2v31.0h-2zM730.0 871.0h2v30.0h-2zM730.0 901.0h2v31.0h-2zM732.0 748.0h1.5v31.0h-1.5zM733.5 748.0h1v31.0h-1zM733.5 779.0h1v31.0h-1zM733.5 810.0h1v30.0h-1zM733.5 840.0h1v31.0h-1zM733.5 871.0h1v30.0h-1zM733.5 901.0h1v31.0h-1zM733.5 932.0h1v30.0h-1zM734.5 748.0h1v31.0h-1zM734.5 779.0h1v31.0h-1zM734.5 871.0h1v30.0h-1zM734.5 901.0h1v31.0h-1zM734.5 932.0h1v30.0h-1zM735.5 871.0h1v30.0h-1zM736.5 810.0h3v30.0h-3zM736.5 840.0h3v31.0h-3zM736.5 871.0h3v30.0h-3zM736.5 932.0h3v30.0h-3zM739.5 748.0h1.5v31.0h-1.5zM739.5 779.0h1.5v31.0h-1.5zM739.5 810.0h1.5v30.0h-1.5zM739.5 932.0h1.5v30.0h-1.5zM739.5 962.0h1.5v31.0h-1.5zM741.0 748.0h3v31.0h-3zM741.0 779.0h3v31.0h-3zM741.0 810.0h3v30.0h-3zM741.0 840.0h3v31.0h-3zM741.0 871.0h3v30.0h-3zM741.0 932.0h3v30.0h-3zM741.0 1116.0h3v30.0h-3zM745.5 779.0h2v31.0h-2zM745.5 810.0h2v30.0h-2zM745.5 840.0h2v31.0h-2zM745.5 871.0h2v30.0h-2zM745.5 901.0h2v31.0h-2zM745.5 932.0h2v30.0h-2zM747.5 748.0h3v31.0h-3zM747.5 779.0h3v31.0h-3zM747.5 810.0h3v30.0h-3zM747.5 840.0h3v31.0h-3zM747.5 932.0h3v30.0h-3zM750.5 748.0h1v31.0h-1zM750.5 810.0h1v30.0h-1zM750.5 901.0h1v31.0h-1zM750.5 932.0h1v30.0h-1zM751.5 748.0h2v31.0h-2zM751.5 901.0h2v31.0h-2zM753.5 748.0h1v31.0h-1zM753.5 810.0h1v30.0h-1zM753.5 840.0h1v31.0h-1zM753.5 932.0h1v30.0h-1zM754.5 779.0h1v31.0h-1zM754.5 810.0h1v30.0h-1zM754.5 840.0h1v31.0h-1zM754.5 901.0h1v31.0h-1zM754.5 932.0h1v30.0h-1zM755.5 810.0h2v30.0h-2zM757.5 748.0h1.5v31.0h-1.5zM757.5 779.0h1.5v31.0h-1.5zM757.5 871.0h1.5v30.0h-1.5zM757.5 901.0h1.5v31.0h-1.5zM757.5 932.0h1.5v30.0h-1.5zM759.0 748.0h1v31.0h-1zM759.0 779.0h1v31.0h-1zM759.0 810.0h1v30.0h-1zM759.0 840.0h1v31.0h-1zM759.0 871.0h1v30.0h-1zM759.0 901.0h1v31.0h-1zM759.0 932.0h1v30.0h-1zM760.0 748.0h3v31.0h-3zM760.0 901.0h3v31.0h-3zM765.0 748.0h1v31.0h-1zM765.0 779.0h1v31.0h-1zM765.0 932.0h1v30.0h-1zM768.0 748.0h1.5v31.0h-1.5zM768.0 779.0h1.5v31.0h-1.5zM768.0 810.0h1.5v30.0h-1.5zM768.0 840.0h1.5v31.0h-1.5zM768.0 901.0h1.5v31.0h-1.5zM768.0 932.0h1.5v30.0h-1.5zM769.5 810.0h3v30.0h-3zM772.5 810.0h1v30.0h-1zM776.5 779.0h1.5v31.0h-1.5zM776.5 810.0h1.5v30.0h-1.5zM776.5 901.0h1.5v31.0h-1.5zM778.0 748.0h2v31.0h-2zM778.0 779.0h2v31.0h-2zM778.0 840.0h2v31.0h-2zM778.0 901.0h2v31.0h-2zM778.0 932.0h2v30.0h-2zM780.0 779.0h1.5v31.0h-1.5zM780.0 840.0h1.5v31.0h-1.5zM780.0 901.0h1.5v31.0h-1.5zM780.0 932.0h1.5v30.0h-1.5zM781.5 748.0h1v31.0h-1zM781.5 779.0h1v31.0h-1zM781.5 810.0h1v30.0h-1zM781.5 871.0h1v30.0h-1zM781.5 901.0h1v31.0h-1zM781.5 932.0h1v30.0h-1zM782.5 779.0h1.5v31.0h-1.5zM782.5 810.0h1.5v30.0h-1.5zM782.5 840.0h1.5v31.0h-1.5zM843.0 1054.0h2v31.0h-2zM845.0 962.0h1v31.0h-1zM914.0 871.0h1v30.0h-1zM917.0 901.0h2v31.0h-2z" fill="#6e6e8c"/><path d="M449.5 779.0h1.5v31.0h-1.5zM449.5 871.0h1.5v30.0h-1.5zM449.5 901.0h1.5v31.0h-1.5zM449.5 1054.0h1.5v31.0h-1.5zM449.5 1085.0h1.5v31.0h-1.5zM451.0 779.0h1v31.0h-1zM451.0 993.0h1v31.0h-1zM451.0 1116.0h1v30.0h-1zM452.0 1085.0h1v31.0h-1zM453.0 779.0h3v31.0h-3zM453.0 810.0h3v30.0h-3zM453.0 962.0h3v31.0h-3zM453.0 1054.0h3v31.0h-3zM453.0 1116.0h3v30.0h-3zM456.0 748.0h1v31.0h-1zM456.0 779.0h1v31.0h-1zM456.0 840.0h1v31.0h-1zM456.0 901.0h1v31.0h-1zM456.0 932.0h1v30.0h-1zM456.0 962.0h1v31.0h-1zM456.0 993.0h1v31.0h-1zM456.0 1054.0h1v31.0h-1zM457.0 1116.0h1v30.0h-1zM458.0 1054.0h2v31.0h-2zM458.0 1116.0h2v30.0h-2zM460.0 748.0h1.5v31.0h-1.5zM460.0 871.0h1.5v30.0h-1.5zM460.0 962.0h1.5v31.0h-1.5zM460.0 993.0h1.5v31.0h-1.5zM460.0 1024.0h1.5v30.0h-1.5zM460.0 1054.0h1.5v31.0h-1.5zM460.0 1085.0h1.5v31.0h-1.5zM461.5 1085.0h2v31.0h-2zM461.5 1116.0h2v30.0h-2zM470.0 962.0h2v31.0h-2zM470.0 1024.0h2v30.0h-2zM470.0 1054.0h2v31.0h-2zM470.0 1085.0h2v31.0h-2zM470.0 1116.0h2v30.0h-2zM473.5 962.0h1.5v31.0h-1.5zM473.5 1024.0h1.5v30.0h-1.5zM473.5 1054.0h1.5v31.0h-1.5zM473.5 1085.0h1.5v31.0h-1.5zM475.0 748.0h1v31.0h-1zM475.0 779.0h1v31.0h-1zM475.0 871.0h1v30.0h-1zM475.0 932.0h1v30.0h-1zM475.0 993.0h1v31.0h-1zM475.0 1085.0h1v31.0h-1zM475.0 1116.0h1v30.0h-1zM476.0 779.0h1v31.0h-1zM476.0 871.0h1v30.0h-1zM476.0 901.0h1v31.0h-1zM476.0 932.0h1v30.0h-1zM476.0 1085.0h1v31.0h-1zM477.0 962.0h2v31.0h-2zM479.0 810.0h2v30.0h-2zM479.0 871.0h2v30.0h-2zM479.0 993.0h2v31.0h-2zM481.0 993.0h1v31.0h-1zM481.0 1085.0h1v31.0h-1zM481.0 1116.0h1v30.0h-1zM482.0 962.0h1.5v31.0h-1.5zM483.5 1024.0h1v30.0h-1zM483.5 1054.0h1v31.0h-1zM484.5 748.0h2v31.0h-2zM484.5 810.0h2v30.0h-2zM484.5 993.0h2v31.0h-2zM484.5 1054.0h2v31.0h-2zM484.5 1085.0h2v31.0h-2zM486.5 748.0h2v31.0h-2zM486.5 810.0h2v30.0h-2zM486.5 840.0h2v31.0h-2zM486.5 993.0h2v31.0h-2zM486.5 1085.0h2v31.0h-2zM488.5 748.0h1v31.0h-1zM488.5 779.0h1v31.0h-1zM488.5 962.0h1v31.0h-1zM488.5 1024.0h1v30.0h-1zM488.5 1054.0h1v31.0h-1zM488.5 1116.0h1v30.0h-1zM492.5 1024.0h1v30.0h-1zM492.5 1085.0h1v31.0h-1zM493.5 779.0h2v31.0h-2zM493.5 810.0h2v30.0h-2zM493.5 901.0h2v31.0h-2zM493.5 1024.0h2v30.0h-2zM493.5 1054.0h2v31.0h-2zM493.5 1116.0h2v30.0h-2zM495.5 993.0h2v31.0h-2zM495.5 1024.0h2v30.0h-2zM499.0 748.0h1.5v31.0h-1.5zM499.0 810.0h1.5v30.0h-1.5zM499.0 901.0h1.5v31.0h-1.5zM500.5 748.0h3v31.0h-3zM500.5 840.0h3v31.0h-3zM500.5 993.0h3v31.0h-3zM500.5 1085.0h3v31.0h-3zM500.5 1116.0h3v30.0h-3zM503.5 810.0h1.5v30.0h-1.5zM503.5 840.0h1.5v31.0h-1.5zM503.5 901.0h1.5v31.0h-1.5zM503.5 932.0h1.5v30.0h-1.5zM507.0 779.0h2v31.0h-2zM507.0 810.0h2v30.0h-2zM507.0 871.0h2v30.0h-2zM507.0 932.0h2v30.0h-2zM507.0 1116.0h2v30.0h-2zM509.0 1054.0h2v31.0h-2zM509.0 1085.0h2v31.0h-2zM509.0 1116.0h2v30.0h-2zM511.0 871.0h2v30.0h-2zM511.0 962.0h2v31.0h-2zM511.0 1054.0h2v31.0h-2zM511.0 1085.0h2v31.0h-2zM513.0 748.0h1v31.0h-1zM513.0 779.0h1v31.0h-1zM513.0 810.0h1v30.0h-1zM513.0 840.0h1v31.0h-1zM513.0 901.0h1v31.0h-1zM513.0 932.0h1v30.0h-1zM513.0 962.0h1v31.0h-1zM513.0 993.0h1v31.0h-1zM513.0 1085.0h1v31.0h-1zM514.0 779.0h1v31.0h-1zM514.0 840.0h1v31.0h-1zM514.0 871.0h1v30.0h-1zM515.0 748.0h1.5v31.0h-1.5zM515.0 810.0h1.5v30.0h-1.5zM515.0 840.0h1.5v31.0h-1.5zM515.0 901.0h1.5v31.0h-1.5zM515.0 932.0h1.5v30.0h-1.5zM515.0 962.0h1.5v31.0h-1.5zM515.0 1024.0h1.5v30.0h-1.5zM515.0 1054.0h1.5v31.0h-1.5zM516.5 993.0h2v31.0h-2zM518.5 993.0h3v31.0h-3zM521.5 779.0h3v31.0h-3zM521.5 810.0h3v30.0h-3zM521.5 840.0h3v31.0h-3zM521.5 901.0h3v31.0h-3zM521.5 962.0h3v31.0h-3zM521.5 993.0h3v31.0h-3zM521.5 1024.0h3v30.0h-3zM521.5 1085.0h3v31.0h-3zM525.5 901.0h1v31.0h-1zM525.5 962.0h1v31.0h-1zM525.5 1024.0h1v30.0h-1zM525.5 1054.0h1v31.0h-1zM525.5 1116.0h1v30.0h-1zM526.5 993.0h3v31.0h-3zM526.5 1085.0h3v31.0h-3zM526.5 1116.0h3v30.0h-3zM532.5 840.0h1.5v31.0h-1.5zM532.5 871.0h1.5v30.0h-1.5zM532.5 932.0h1.5v30.0h-1.5zM532.5 1085.0h1.5v31.0h-1.5zM532.5 1116.0h1.5v30.0h-1.5zM534.0 779.0h3v31.0h-3zM534.0 901.0h3v31.0h-3zM534.0 932.0h3v30.0h-3zM539.0 810.0h3v30.0h-3zM539.0 840.0h3v31.0h-3zM539.0 871.0h3v30.0h-3zM539.0 1024.0h3v30.0h-3zM539.0 1054.0h3v31.0h-3zM539.0 1116.0h3v30.0h-3zM665.0 779.0h2v31.0h-2zM665.0 810.0h2v30.0h-2zM665.0 840.0h2v31.0h-2zM665.0 932.0h2v30.0h-2zM671.0 748.0h1v31.0h-1zM671.0 779.0h1v31.0h-1zM671.0 810.0h1v30.0h-1zM671.0 840.0h1v31.0h-1zM677.0 748.0h2v31.0h-2zM677.0 810.0h2v30.0h-2zM677.0 840.0h2v31.0h-2zM677.0 901.0h2v31.0h-2zM677.0 932.0h2v30.0h-2zM680.0 779.0h1v31.0h-1zM680.0 810.0h1v30.0h-1zM681.0 748.0h1v31.0h-1zM681.0 810.0h1v30.0h-1zM681.0 840.0h1v31.0h-1zM681.0 901.0h1v31.0h-1zM683.0 748.0h2v31.0h-2zM683.0 932.0h2v30.0h-2zM685.0 748.0h1v31.0h-1zM685.0 810.0h1v30.0h-1zM685.0 840.0h1v31.0h-1zM685.0 871.0h1v30.0h-1zM685.0 901.0h1v31.0h-1zM685.0 932.0h1v30.0h-1zM686.0 810.0h1v30.0h-1zM687.0 840.0h1.5v31.0h-1.5zM687.0 871.0h1.5v30.0h-1.5zM693.0 779.0h2v31.0h-2zM693.0 810.0h2v30.0h-2zM693.0 840.0h2v31.0h-2zM693.0 871.0h2v30.0h-2zM693.0 932.0h2v30.0h-2zM702.5 932.0h1v30.0h-1zM705.5 840.0h2v31.0h-2zM705.5 871.0h2v30.0h-2zM705.5 932.0h2v30.0h-2zM716.5 810.0h2v30.0h-2zM716.5 840.0h2v31.0h-2zM716.5 871.0h2v30.0h-2zM728.0 871.0h2v30.0h-2zM734.5 840.0h1v31.0h-1zM736.5 748.0h3v31.0h-3zM736.5 779.0h3v31.0h-3zM736.5 901.0h3v31.0h-3zM739.5 871.0h1.5v30.0h-1.5zM745.5 748.0h2v31.0h-2zM754.5 748.0h1v31.0h-1zM760.0 779.0h3v31.0h-3zM760.0 840.0h3v31.0h-3zM760.0 871.0h3v30.0h-3zM760.0 932.0h3v30.0h-3zM773.5 748.0h3v31.0h-3zM773.5 779.0h3v31.0h-3zM773.5 810.0h3v30.0h-3zM773.5 871.0h3v30.0h-3zM773.5 901.0h3v31.0h-3zM773.5 932.0h3v30.0h-3zM776.5 748.0h1.5v31.0h-1.5zM776.5 840.0h1.5v31.0h-1.5zM776.5 871.0h1.5v30.0h-1.5zM776.5 932.0h1.5v30.0h-1.5zM778.0 810.0h2v30.0h-2zM778.0 871.0h2v30.0h-2z" fill="#696991"/><path d="M449.5 840.0h1.5v31.0h-1.5zM495.5 1085.0h2v31.0h-2zM511.0 1116.0h2v30.0h-2zM663.0 932.0h2v30.0h-2zM718.5 810.0h1.5v30.0h-1.5zM734.5 810.0h1v30.0h-1zM739.5 840.0h1.5v31.0h-1.5zM760.0 810.0h3v30.0h-3zM772.5 779.0h1v31.0h-1z" fill="#6e6e91"/><path d="M449.5 932.0h1.5v30.0h-1.5zM451.0 932.0h1v30.0h-1zM451.0 1085.0h1v31.0h-1zM475.0 840.0h1v31.0h-1zM513.0 1054.0h1v31.0h-1zM539.0 993.0h3v31.0h-3zM773.5 840.0h3v31.0h-3z" fill="#696996"/><path d="M449.5 993.0h1.5v31.0h-1.5zM449.5 1024.0h1.5v30.0h-1.5zM449.5 1116.0h1.5v30.0h-1.5zM463.5 993.0h2v31.0h-2zM467.0 1024.0h3v30.0h-3zM467.0 1054.0h3v31.0h-3zM467.0 1085.0h3v31.0h-3zM467.0 1116.0h3v30.0h-3zM477.0 993.0h2v31.0h-2zM477.0 1116.0h2v30.0h-2zM483.5 962.0h1v31.0h-1zM483.5 993.0h1v31.0h-1zM488.5 1085.0h1v31.0h-1zM489.5 993.0h3v31.0h-3zM489.5 1024.0h3v30.0h-3zM489.5 1116.0h3v30.0h-3zM497.5 993.0h1.5v31.0h-1.5zM497.5 1054.0h1.5v31.0h-1.5zM497.5 1116.0h1.5v30.0h-1.5zM499.0 993.0h1.5v31.0h-1.5zM503.5 779.0h1.5v31.0h-1.5zM503.5 993.0h1.5v31.0h-1.5zM503.5 1054.0h1.5v31.0h-1.5zM503.5 1116.0h1.5v30.0h-1.5zM505.0 1085.0h2v31.0h-2zM507.0 1085.0h2v31.0h-2zM514.0 993.0h1v31.0h-1zM514.0 1024.0h1v30.0h-1zM514.0 1054.0h1v31.0h-1zM516.5 962.0h2v31.0h-2zM516.5 1054.0h2v31.0h-2zM518.5 962.0h3v31.0h-3zM518.5 1116.0h3v30.0h-3zM521.5 1116.0h3v30.0h-3zM524.5 962.0h1v31.0h-1zM524.5 1024.0h1v30.0h-1zM524.5 1054.0h1v31.0h-1zM529.5 1024.0h3v30.0h-3zM529.5 1054.0h3v31.0h-3zM529.5 1085.0h3v31.0h-3zM534.0 993.0h3v31.0h-3zM537.0 962.0h2v31.0h-2zM537.0 993.0h2v31.0h-2zM537.0 1024.0h2v30.0h-2zM537.0 1054.0h2v31.0h-2zM537.0 1085.0h2v31.0h-2zM537.0 1116.0h2v30.0h-2zM539.0 932.0h3v30.0h-3zM667.0 748.0h2v31.0h-2zM672.0 993.0h2v31.0h-2zM674.0 748.0h3v31.0h-3zM674.0 810.0h3v30.0h-3zM674.0 840.0h3v31.0h-3zM674.0 962.0h3v31.0h-3zM674.0 1024.0h3v30.0h-3zM674.0 1054.0h3v31.0h-3zM674.0 1085.0h3v31.0h-3zM674.0 1116.0h3v30.0h-3zM679.0 779.0h1v31.0h-1zM679.0 810.0h1v30.0h-1zM679.0 901.0h1v31.0h-1zM680.0 1024.0h1v30.0h-1zM682.0 840.0h1v31.0h-1zM683.0 1024.0h2v30.0h-2zM683.0 1116.0h2v30.0h-2zM686.0 1085.0h1v31.0h-1zM687.0 962.0h1.5v31.0h-1.5zM687.0 993.0h1.5v31.0h-1.5zM687.0 1024.0h1.5v30.0h-1.5zM687.0 1054.0h1.5v31.0h-1.5zM688.5 871.0h1.5v30.0h-1.5zM688.5 1024.0h1.5v30.0h-1.5zM690.0 810.0h1v30.0h-1zM691.0 871.0h1v30.0h-1zM692.0 748.0h1v31.0h-1zM692.0 779.0h1v31.0h-1zM692.0 840.0h1v31.0h-1zM692.0 901.0h1v31.0h-1zM692.0 932.0h1v30.0h-1zM695.0 748.0h1v31.0h-1zM695.0 779.0h1v31.0h-1zM695.0 810.0h1v30.0h-1zM695.0 840.0h1v31.0h-1zM695.0 871.0h1v30.0h-1zM695.0 901.0h1v31.0h-1zM695.0 932.0h1v30.0h-1zM696.0 810.0h2v30.0h-2zM696.0 840.0h2v31.0h-2zM696.0 901.0h2v31.0h-2zM696.0 993.0h2v31.0h-2zM696.0 1116.0h2v30.0h-2zM698.0 810.0h1v30.0h-1zM698.0 871.0h1v30.0h-1zM698.0 932.0h1v30.0h-1zM698.0 993.0h1v31.0h-1zM698.0 1085.0h1v31.0h-1zM698.0 1116.0h1v30.0h-1zM699.0 810.0h1.5v30.0h-1.5zM699.0 871.0h1.5v30.0h-1.5zM699.0 901.0h1.5v31.0h-1.5zM699.0 962.0h1.5v31.0h-1.5zM700.5 748.0h2v31.0h-2zM700.5 779.0h2v31.0h-2zM700.5 810.0h2v30.0h-2zM700.5 840.0h2v31.0h-2zM700.5 932.0h2v30.0h-2zM703.5 748.0h1v31.0h-1zM703.5 779.0h1v31.0h-1zM703.5 840.0h1v31.0h-1zM703.5 871.0h1v30.0h-1zM703.5 932.0h1v30.0h-1zM703.5 1054.0h1v31.0h-1zM703.5 1116.0h1v30.0h-1zM704.5 993.0h1v31.0h-1zM707.5 748.0h2v31.0h-2zM707.5 779.0h2v31.0h-2zM707.5 840.0h2v31.0h-2zM709.5 748.0h1v31.0h-1zM709.5 810.0h1v30.0h-1zM709.5 840.0h1v31.0h-1zM709.5 901.0h1v31.0h-1zM709.5 1024.0h1v30.0h-1zM709.5 1085.0h1v31.0h-1zM709.5 1116.0h1v30.0h-1zM710.5 810.0h3v30.0h-3zM710.5 840.0h3v31.0h-3zM710.5 901.0h3v31.0h-3zM710.5 932.0h3v30.0h-3zM710.5 962.0h3v31.0h-3zM710.5 993.0h3v31.0h-3zM710.5 1024.0h3v30.0h-3zM710.5 1054.0h3v31.0h-3zM710.5 1116.0h3v30.0h-3zM713.5 810.0h1.5v30.0h-1.5zM713.5 840.0h1.5v31.0h-1.5zM713.5 901.0h1.5v31.0h-1.5zM713.5 932.0h1.5v30.0h-1.5zM715.0 748.0h1.5v31.0h-1.5zM715.0 810.0h1.5v30.0h-1.5zM715.0 840.0h1.5v31.0h-1.5zM715.0 901.0h1.5v31.0h-1.5zM715.0 962.0h1.5v31.0h-1.5zM715.0 993.0h1.5v31.0h-1.5zM715.0 1054.0h1.5v31.0h-1.5zM718.5 993.0h1.5v31.0h-1.5zM718.5 1024.0h1.5v30.0h-1.5zM718.5 1054.0h1.5v31.0h-1.5zM718.5 1085.0h1.5v31.0h-1.5zM718.5 1116.0h1.5v30.0h-1.5zM720.0 993.0h2v31.0h-2zM722.0 748.0h1v31.0h-1zM722.0 810.0h1v30.0h-1zM722.0 840.0h1v31.0h-1zM722.0 871.0h1v30.0h-1zM722.0 901.0h1v31.0h-1zM722.0 932.0h1v30.0h-1zM722.0 962.0h1v31.0h-1zM722.0 993.0h1v31.0h-1zM722.0 1116.0h1v30.0h-1zM723.0 748.0h1v31.0h-1zM723.0 810.0h1v30.0h-1zM723.0 901.0h1v31.0h-1zM723.0 932.0h1v30.0h-1zM723.0 1024.0h1v30.0h-1zM724.0 748.0h2v31.0h-2zM724.0 779.0h2v31.0h-2zM724.0 810.0h2v30.0h-2zM724.0 901.0h2v31.0h-2zM724.0 932.0h2v30.0h-2zM726.0 748.0h2v31.0h-2zM730.0 932.0h2v30.0h-2zM732.0 779.0h1.5v31.0h-1.5zM732.0 810.0h1.5v30.0h-1.5zM732.0 840.0h1.5v31.0h-1.5zM732.0 871.0h1.5v30.0h-1.5zM732.0 901.0h1.5v31.0h-1.5zM732.0 932.0h1.5v30.0h-1.5zM734.5 962.0h1v31.0h-1zM734.5 1024.0h1v30.0h-1zM735.5 748.0h1v31.0h-1zM735.5 810.0h1v30.0h-1zM735.5 840.0h1v31.0h-1zM735.5 901.0h1v31.0h-1zM735.5 932.0h1v30.0h-1zM739.5 993.0h1.5v31.0h-1.5zM739.5 1024.0h1.5v30.0h-1.5zM739.5 1054.0h1.5v31.0h-1.5zM739.5 1085.0h1.5v31.0h-1.5zM739.5 1116.0h1.5v30.0h-1.5zM741.0 901.0h3v31.0h-3zM741.0 962.0h3v31.0h-3zM741.0 993.0h3v31.0h-3zM741.0 1024.0h3v30.0h-3zM741.0 1054.0h3v31.0h-3zM741.0 1085.0h3v31.0h-3zM744.0 748.0h1.5v31.0h-1.5zM744.0 810.0h1.5v30.0h-1.5zM744.0 840.0h1.5v31.0h-1.5zM744.0 871.0h1.5v30.0h-1.5zM744.0 932.0h1.5v30.0h-1.5zM745.5 1054.0h2v31.0h-2zM745.5 1085.0h2v31.0h-2zM745.5 1116.0h2v30.0h-2zM747.5 901.0h3v31.0h-3zM747.5 962.0h3v31.0h-3zM747.5 993.0h3v31.0h-3zM747.5 1024.0h3v30.0h-3zM747.5 1054.0h3v31.0h-3zM747.5 1085.0h3v31.0h-3zM747.5 1116.0h3v30.0h-3zM750.5 779.0h1v31.0h-1zM750.5 840.0h1v31.0h-1zM750.5 962.0h1v31.0h-1zM750.5 993.0h1v31.0h-1zM750.5 1024.0h1v30.0h-1zM750.5 1054.0h1v31.0h-1zM750.5 1085.0h1v31.0h-1zM750.5 1116.0h1v30.0h-1zM751.5 779.0h2v31.0h-2zM751.5 810.0h2v30.0h-2zM751.5 840.0h2v31.0h-2zM751.5 932.0h2v30.0h-2zM751.5 962.0h2v31.0h-2zM751.5 1116.0h2v30.0h-2zM753.5 779.0h1v31.0h-1zM753.5 901.0h1v31.0h-1zM754.5 962.0h1v31.0h-1zM754.5 993.0h1v31.0h-1zM754.5 1024.0h1v30.0h-1zM754.5 1054.0h1v31.0h-1zM754.5 1085.0h1v31.0h-1zM754.5 1116.0h1v30.0h-1zM755.5 748.0h2v31.0h-2zM755.5 779.0h2v31.0h-2zM755.5 840.0h2v31.0h-2zM755.5 901.0h2v31.0h-2zM755.5 932.0h2v30.0h-2zM755.5 1116.0h2v30.0h-2zM757.5 810.0h1.5v30.0h-1.5zM757.5 840.0h1.5v31.0h-1.5zM757.5 993.0h1.5v31.0h-1.5zM757.5 1024.0h1.5v30.0h-1.5zM757.5 1054.0h1.5v31.0h-1.5zM757.5 1116.0h1.5v30.0h-1.5zM760.0 962.0h3v31.0h-3zM763.0 779.0h2v31.0h-2zM763.0 871.0h2v30.0h-2zM763.0 1054.0h2v31.0h-2zM763.0 1085.0h2v31.0h-2zM765.0 810.0h1v30.0h-1zM765.0 840.0h1v31.0h-1zM765.0 871.0h1v30.0h-1zM765.0 901.0h1v31.0h-1zM766.0 748.0h2v31.0h-2zM766.0 901.0h2v31.0h-2zM766.0 1024.0h2v30.0h-2zM766.0 1116.0h2v30.0h-2zM768.0 871.0h1.5v30.0h-1.5zM768.0 993.0h1.5v31.0h-1.5zM768.0 1024.0h1.5v30.0h-1.5zM768.0 1054.0h1.5v31.0h-1.5zM768.0 1085.0h1.5v31.0h-1.5zM768.0 1116.0h1.5v30.0h-1.5zM769.5 748.0h3v31.0h-3zM769.5 779.0h3v31.0h-3zM769.5 840.0h3v31.0h-3zM769.5 871.0h3v30.0h-3zM769.5 901.0h3v31.0h-3zM769.5 932.0h3v30.0h-3zM772.5 748.0h1v31.0h-1zM772.5 840.0h1v31.0h-1zM772.5 871.0h1v30.0h-1zM772.5 901.0h1v31.0h-1zM772.5 932.0h1v30.0h-1zM772.5 1024.0h1v30.0h-1zM778.0 993.0h2v31.0h-2zM778.0 1024.0h2v30.0h-2zM778.0 1054.0h2v31.0h-2zM778.0 1085.0h2v31.0h-2zM778.0 1116.0h2v30.0h-2zM780.0 748.0h1.5v31.0h-1.5zM780.0 810.0h1.5v30.0h-1.5zM780.0 871.0h1.5v30.0h-1.5zM781.5 840.0h1v31.0h-1zM782.5 748.0h1.5v31.0h-1.5zM782.5 871.0h1.5v30.0h-1.5zM782.5 901.0h1.5v31.0h-1.5zM782.5 932.0h1.5v30.0h-1.5zM782.5 962.0h1.5v31.0h-1.5zM843.0 962.0h2v31.0h-2zM843.0 993.0h2v31.0h-2zM843.0 1024.0h2v30.0h-2zM843.0 1085.0h2v31.0h-2zM843.0 1116.0h2v30.0h-2zM845.0 993.0h1v31.0h-1zM845.0 1024.0h1v30.0h-1zM845.0 1054.0h1v31.0h-1zM845.0 1085.0h1v31.0h-1zM875.0 840.0h1v31.0h-1zM893.0 779.0h2v31.0h-2zM895.0 779.0h3v31.0h-3zM895.0 810.0h3v30.0h-3zM895.0 932.0h3v30.0h-3zM902.0 779.0h1v31.0h-1zM902.0 810.0h1v30.0h-1zM902.0 840.0h1v31.0h-1zM902.0 871.0h1v30.0h-1zM904.0 748.0h1v31.0h-1zM904.0 779.0h1v31.0h-1zM904.0 810.0h1v30.0h-1zM904.0 840.0h1v31.0h-1zM904.0 871.0h1v30.0h-1zM904.0 901.0h1v31.0h-1zM904.0 932.0h1v30.0h-1zM905.0 810.0h1v30.0h-1zM914.0 748.0h1v31.0h-1zM914.0 779.0h1v31.0h-1zM914.0 810.0h1v30.0h-1zM914.0 840.0h1v31.0h-1zM914.0 932.0h1v30.0h-1zM917.0 748.0h2v31.0h-2zM917.0 779.0h2v31.0h-2zM917.0 810.0h2v30.0h-2zM917.0 840.0h2v31.0h-2zM917.0 871.0h2v30.0h-2zM917.0 932.0h2v30.0h-2zM921.0 748.0h2v31.0h-2zM921.0 810.0h2v30.0h-2zM921.0 840.0h2v31.0h-2zM921.0 901.0h2v31.0h-2z" fill="#737387"/><path d="M542.0 748.0h2v31.0h-2zM542.0 779.0h2v31.0h-2zM542.0 810.0h2v30.0h-2zM542.0 840.0h2v31.0h-2zM542.0 871.0h2v30.0h-2zM542.0 901.0h2v31.0h-2zM542.0 932.0h2v30.0h-2zM542.0 962.0h2v31.0h-2zM542.0 993.0h2v31.0h-2zM542.0 1024.0h2v30.0h-2zM542.0 1054.0h2v31.0h-2zM542.0 1085.0h2v31.0h-2zM542.0 1116.0h2v30.0h-2zM544.0 748.0h1.5v31.0h-1.5zM544.0 779.0h1.5v31.0h-1.5zM544.0 810.0h1.5v30.0h-1.5zM544.0 840.0h1.5v31.0h-1.5zM544.0 871.0h1.5v30.0h-1.5zM544.0 901.0h1.5v31.0h-1.5zM544.0 932.0h1.5v30.0h-1.5zM544.0 962.0h1.5v31.0h-1.5zM544.0 993.0h1.5v31.0h-1.5zM544.0 1024.0h1.5v30.0h-1.5zM544.0 1054.0h1.5v31.0h-1.5zM544.0 1085.0h1.5v31.0h-1.5zM544.0 1116.0h1.5v30.0h-1.5zM545.5 748.0h3v31.0h-3zM545.5 779.0h3v31.0h-3zM545.5 810.0h3v30.0h-3zM545.5 840.0h3v31.0h-3zM545.5 871.0h3v30.0h-3zM545.5 901.0h3v31.0h-3zM545.5 932.0h3v30.0h-3zM545.5 962.0h3v31.0h-3zM545.5 993.0h3v31.0h-3zM545.5 1024.0h3v30.0h-3zM545.5 1054.0h3v31.0h-3zM545.5 1085.0h3v31.0h-3zM545.5 1116.0h3v30.0h-3zM548.5 748.0h2v31.0h-2zM548.5 779.0h2v31.0h-2zM548.5 810.0h2v30.0h-2zM548.5 840.0h2v31.0h-2zM548.5 871.0h2v30.0h-2zM548.5 901.0h2v31.0h-2zM548.5 932.0h2v30.0h-2zM548.5 962.0h2v31.0h-2zM548.5 993.0h2v31.0h-2zM548.5 1024.0h2v30.0h-2zM548.5 1054.0h2v31.0h-2zM548.5 1085.0h2v31.0h-2zM548.5 1116.0h2v30.0h-2z" fill="#ffff00"/><path d="M550.5 748.0h3v31.0h-3zM550.5 779.0h3v31.0h-3zM550.5 810.0h3v30.0h-3zM550.5 901.0h3v31.0h-3zM555.0 748.0h1v31.0h-1zM555.0 779.0h1v31.0h-1zM555.0 840.0h1v31.0h-1zM556.0 748.0h2v31.0h-2zM556.0 779.0h2v31.0h-2zM556.0 810.0h2v30.0h-2zM556.0 840.0h2v31.0h-2zM556.0 901.0h2v31.0h-2zM556.0 932.0h2v30.0h-2zM556.0 1054.0h2v31.0h-2zM558.0 779.0h2v31.0h-2zM558.0 810.0h2v30.0h-2zM558.0 871.0h2v30.0h-2zM558.0 932.0h2v30.0h-2zM558.0 1024.0h2v30.0h-2zM581.5 1116.0h1v30.0h-1zM588.5 962.0h1.5v31.0h-1.5zM588.5 1024.0h1.5v30.0h-1.5zM591.0 1024.0h2v30.0h-2zM595.0 748.0h1.5v31.0h-1.5zM595.0 779.0h1.5v31.0h-1.5zM595.0 810.0h1.5v30.0h-1.5zM595.0 871.0h1.5v30.0h-1.5z" fill="#b9b941"/><path d="M550.5 840.0h3v31.0h-3zM550.5 932.0h3v30.0h-3zM553.5 748.0h1.5v31.0h-1.5zM553.5 840.0h1.5v31.0h-1.5zM553.5 871.0h1.5v30.0h-1.5zM553.5 962.0h1.5v31.0h-1.5zM555.0 810.0h1v30.0h-1zM555.0 871.0h1v30.0h-1zM555.0 932.0h1v30.0h-1zM555.0 962.0h1v31.0h-1zM555.0 1054.0h1v31.0h-1zM556.0 962.0h2v31.0h-2zM556.0 993.0h2v31.0h-2zM556.0 1024.0h2v30.0h-2zM556.0 1085.0h2v31.0h-2zM556.0 1116.0h2v30.0h-2zM558.0 962.0h2v31.0h-2zM558.0 993.0h2v31.0h-2zM558.0 1116.0h2v30.0h-2zM595.0 840.0h1.5v31.0h-1.5z" fill="#bebe3c"/><path d="M550.5 871.0h3v30.0h-3zM555.0 901.0h1v31.0h-1zM558.0 1085.0h2v31.0h-2zM566.0 993.0h1v31.0h-1zM581.5 1024.0h1v30.0h-1zM595.0 932.0h1.5v30.0h-1.5z" fill="#b9b946"/><path d="M550.5 962.0h3v31.0h-3zM550.5 1054.0h3v31.0h-3zM550.5 1116.0h3v30.0h-3zM553.5 779.0h1.5v31.0h-1.5zM553.5 1054.0h1.5v31.0h-1.5zM553.5 1085.0h1.5v31.0h-1.5zM555.0 993.0h1v31.0h-1zM555.0 1024.0h1v30.0h-1zM555.0 1085.0h1v31.0h-1zM555.0 1116.0h1v30.0h-1zM558.0 1054.0h2v31.0h-2z" fill="#c3c337"/><path d="M550.5 993.0h3v31.0h-3zM550.5 1085.0h3v31.0h-3zM553.5 1116.0h1.5v30.0h-1.5z" fill="#c8c832"/><path d="M550.5 1024.0h3v30.0h-3zM553.5 810.0h1.5v30.0h-1.5zM553.5 901.0h1.5v31.0h-1.5zM553.5 932.0h1.5v30.0h-1.5zM553.5 1024.0h1.5v30.0h-1.5z" fill="#c3c33c"/><path d="M553.5 993.0h1.5v31.0h-1.5z" fill="#c8c837"/><path d="M556.0 871.0h2v30.0h-2zM558.0 840.0h2v31.0h-2zM558.0 901.0h2v31.0h-2zM566.0 962.0h1v31.0h-1zM566.0 1054.0h1v31.0h-1zM566.0 1085.0h1v31.0h-1zM568.0 962.0h1.5v31.0h-1.5zM568.0 993.0h1.5v31.0h-1.5zM568.0 1024.0h1.5v30.0h-1.5zM568.0 1054.0h1.5v31.0h-1.5zM568.0 1116.0h1.5v30.0h-1.5zM570.5 748.0h3v31.0h-3zM573.5 1085.0h1v31.0h-1zM576.5 1054.0h2v31.0h-2zM581.5 993.0h1v31.0h-1zM581.5 1085.0h1v31.0h-1zM584.5 1054.0h2v31.0h-2zM584.5 1116.0h2v30.0h-2zM586.5 1054.0h2v31.0h-2zM588.5 993.0h1.5v31.0h-1.5zM588.5 1054.0h1.5v31.0h-1.5zM588.5 1085.0h1.5v31.0h-1.5zM588.5 1116.0h1.5v30.0h-1.5zM591.0 962.0h2v31.0h-2zM591.0 1085.0h2v31.0h-2zM591.0 1116.0h2v30.0h-2zM596.5 810.0h1.5v30.0h-1.5zM596.5 840.0h1.5v31.0h-1.5zM596.5 1024.0h1.5v30.0h-1.5zM596.5 1054.0h1.5v31.0h-1.5z" fill="#b4b446"/><path d="M558.0 748.0h2v31.0h-2zM581.5 1054.0h1v31.0h-1zM584.5 1024.0h2v30.0h-2zM596.5 901.0h1.5v31.0h-1.5zM596.5 993.0h1.5v31.0h-1.5zM596.5 1085.0h1.5v31.0h-1.5z" fill="#b4b44b"/><path d="M560.0 748.0h1v31.0h-1zM560.0 779.0h1v31.0h-1zM560.0 810.0h1v30.0h-1zM560.0 840.0h1v31.0h-1zM560.0 901.0h1v31.0h-1zM560.0 993.0h1v31.0h-1zM560.0 1024.0h1v30.0h-1zM561.0 748.0h2v31.0h-2zM561.0 1024.0h2v30.0h-2zM561.0 1085.0h2v31.0h-2zM561.0 1116.0h2v30.0h-2zM563.0 748.0h1v31.0h-1zM563.0 779.0h1v31.0h-1zM563.0 840.0h1v31.0h-1zM563.0 901.0h1v31.0h-1zM563.0 932.0h1v30.0h-1zM564.0 779.0h2v31.0h-2zM564.0 810.0h2v30.0h-2zM566.0 901.0h1v31.0h-1zM566.0 932.0h1v30.0h-1zM567.0 748.0h1v31.0h-1zM567.0 779.0h1v31.0h-1zM567.0 840.0h1v31.0h-1zM567.0 901.0h1v31.0h-1zM567.0 932.0h1v30.0h-1zM567.0 1085.0h1v31.0h-1zM568.0 779.0h1.5v31.0h-1.5zM568.0 840.0h1.5v31.0h-1.5zM568.0 901.0h1.5v31.0h-1.5zM568.0 932.0h1.5v30.0h-1.5zM569.5 1024.0h1v30.0h-1zM569.5 1054.0h1v31.0h-1zM569.5 1085.0h1v31.0h-1zM569.5 1116.0h1v30.0h-1zM570.5 1085.0h3v31.0h-3zM573.5 840.0h1v31.0h-1zM573.5 871.0h1v30.0h-1zM574.5 810.0h2v30.0h-2zM574.5 871.0h2v30.0h-2zM574.5 1085.0h2v31.0h-2zM578.5 748.0h2v31.0h-2zM578.5 779.0h2v31.0h-2zM578.5 810.0h2v30.0h-2zM578.5 840.0h2v31.0h-2zM578.5 871.0h2v30.0h-2zM578.5 901.0h2v31.0h-2zM578.5 962.0h2v31.0h-2zM578.5 1054.0h2v31.0h-2zM580.5 932.0h1v30.0h-1zM580.5 1024.0h1v30.0h-1zM580.5 1054.0h1v31.0h-1zM581.5 779.0h1v31.0h-1zM581.5 810.0h1v30.0h-1zM581.5 871.0h1v30.0h-1zM581.5 901.0h1v31.0h-1zM582.5 748.0h2v31.0h-2zM582.5 779.0h2v31.0h-2zM582.5 810.0h2v30.0h-2zM582.5 840.0h2v31.0h-2zM582.5 932.0h2v30.0h-2zM582.5 993.0h2v31.0h-2zM582.5 1024.0h2v30.0h-2zM582.5 1054.0h2v31.0h-2zM590.0 779.0h1v31.0h-1zM590.0 840.0h1v31.0h-1zM590.0 962.0h1v31.0h-1zM591.0 748.0h2v31.0h-2zM591.0 779.0h2v31.0h-2zM591.0 810.0h2v30.0h-2zM591.0 840.0h2v31.0h-2zM591.0 871.0h2v30.0h-2zM591.0 901.0h2v31.0h-2zM591.0 932.0h2v30.0h-2zM593.0 748.0h2v31.0h-2zM593.0 779.0h2v31.0h-2zM593.0 810.0h2v30.0h-2zM593.0 840.0h2v31.0h-2zM593.0 871.0h2v30.0h-2zM593.0 901.0h2v31.0h-2zM595.0 993.0h1.5v31.0h-1.5zM595.0 1024.0h1.5v30.0h-1.5zM595.0 1054.0h1.5v31.0h-1.5zM595.0 1085.0h1.5v31.0h-1.5zM607.5 962.0h1v31.0h-1zM607.5 993.0h1v31.0h-1zM607.5 1054.0h1v31.0h-1zM607.5 1116.0h1v30.0h-1zM609.5 1024.0h1v30.0h-1zM610.5 962.0h1.5v31.0h-1.5zM610.5 1085.0h1.5v31.0h-1.5zM610.5 1116.0h1.5v30.0h-1.5zM612.0 1024.0h1v30.0h-1zM613.0 993.0h3v31.0h-3zM613.0 1116.0h3v30.0h-3zM622.0 962.0h1v31.0h-1zM622.0 993.0h1v31.0h-1zM623.0 962.0h1.5v31.0h-1.5zM623.0 993.0h1.5v31.0h-1.5zM623.0 1024.0h1.5v30.0h-1.5zM623.0 1054.0h1.5v31.0h-1.5zM633.5 962.0h2v31.0h-2zM633.5 993.0h2v31.0h-2zM633.5 1024.0h2v30.0h-2zM633.5 1054.0h2v31.0h-2zM633.5 1085.0h2v31.0h-2zM633.5 1116.0h2v30.0h-2zM635.5 993.0h2v31.0h-2zM635.5 1085.0h2v31.0h-2zM635.5 1116.0h2v30.0h-2zM643.0 1024.0h2v30.0h-2zM643.0 1054.0h2v31.0h-2zM643.0 1085.0h2v31.0h-2zM645.0 962.0h2v31.0h-2zM645.0 1024.0h2v30.0h-2zM656.0 1024.0h1v30.0h-1zM656.0 1116.0h1v30.0h-1z" fill="#a5a555"/><path d="M560.0 932.0h1v30.0h-1zM561.0 779.0h2v31.0h-2zM563.0 810.0h1v30.0h-1zM567.0 1024.0h1v30.0h-1zM569.5 779.0h1v31.0h-1zM570.5 1054.0h3v31.0h-3zM574.5 779.0h2v31.0h-2zM574.5 1024.0h2v30.0h-2zM578.5 993.0h2v31.0h-2zM584.5 901.0h2v31.0h-2zM584.5 932.0h2v30.0h-2zM590.0 901.0h1v31.0h-1z" fill="#aaaa55"/><path d="M560.0 1116.0h1v30.0h-1zM563.0 993.0h1v31.0h-1zM563.0 1116.0h1v30.0h-1zM564.0 932.0h2v30.0h-2zM564.0 962.0h2v31.0h-2zM564.0 993.0h2v31.0h-2zM564.0 1054.0h2v31.0h-2zM564.0 1085.0h2v31.0h-2zM564.0 1116.0h2v30.0h-2zM566.0 1116.0h1v30.0h-1zM567.0 962.0h1v31.0h-1zM567.0 1116.0h1v30.0h-1zM568.0 1085.0h1.5v31.0h-1.5zM570.5 871.0h3v30.0h-3zM573.5 962.0h1v31.0h-1zM573.5 993.0h1v31.0h-1zM573.5 1024.0h1v30.0h-1zM573.5 1054.0h1v31.0h-1zM574.5 840.0h2v31.0h-2zM574.5 1054.0h2v31.0h-2zM576.5 779.0h2v31.0h-2zM576.5 901.0h2v31.0h-2zM576.5 962.0h2v31.0h-2zM576.5 993.0h2v31.0h-2zM576.5 1024.0h2v30.0h-2zM576.5 1085.0h2v31.0h-2zM576.5 1116.0h2v30.0h-2zM578.5 1116.0h2v30.0h-2zM584.5 962.0h2v31.0h-2zM584.5 993.0h2v31.0h-2zM584.5 1085.0h2v31.0h-2zM586.5 840.0h2v31.0h-2zM586.5 871.0h2v30.0h-2zM586.5 901.0h2v31.0h-2zM586.5 932.0h2v30.0h-2zM586.5 962.0h2v31.0h-2zM586.5 1024.0h2v30.0h-2zM586.5 1085.0h2v31.0h-2zM588.5 748.0h1.5v31.0h-1.5zM588.5 810.0h1.5v30.0h-1.5zM591.0 993.0h2v31.0h-2zM591.0 1054.0h2v31.0h-2zM593.0 962.0h2v31.0h-2zM593.0 1054.0h2v31.0h-2zM593.0 1085.0h2v31.0h-2zM593.0 1116.0h2v30.0h-2zM595.0 901.0h1.5v31.0h-1.5zM596.5 748.0h1.5v31.0h-1.5zM596.5 779.0h1.5v31.0h-1.5zM596.5 871.0h1.5v30.0h-1.5zM596.5 932.0h1.5v30.0h-1.5zM596.5 962.0h1.5v31.0h-1.5zM596.5 1116.0h1.5v30.0h-1.5zM610.5 1024.0h1.5v30.0h-1.5z" fill="#afaf4b"/><path d="M561.0 932.0h2v30.0h-2zM563.0 962.0h1v31.0h-1zM564.0 901.0h2v31.0h-2zM570.5 901.0h3v31.0h-3zM593.0 1024.0h2v30.0h-2z" fill="#afaf50"/><path d="M561.0 962.0h2v31.0h-2zM561.0 993.0h2v31.0h-2zM561.0 1054.0h2v31.0h-2zM567.0 871.0h1v30.0h-1zM573.5 748.0h1v31.0h-1zM573.5 779.0h1v31.0h-1zM573.5 810.0h1v30.0h-1zM573.5 901.0h1v31.0h-1zM573.5 932.0h1v30.0h-1zM578.5 932.0h2v30.0h-2zM580.5 748.0h1v31.0h-1zM580.5 840.0h1v31.0h-1zM580.5 871.0h1v30.0h-1zM580.5 962.0h1v31.0h-1zM580.5 1085.0h1v31.0h-1zM581.5 748.0h1v31.0h-1zM581.5 932.0h1v30.0h-1zM582.5 871.0h2v30.0h-2zM582.5 901.0h2v31.0h-2zM590.0 993.0h1v31.0h-1zM590.0 1024.0h1v30.0h-1zM590.0 1054.0h1v31.0h-1zM590.0 1085.0h1v31.0h-1zM590.0 1116.0h1v30.0h-1zM595.0 962.0h1.5v31.0h-1.5zM595.0 1116.0h1.5v30.0h-1.5zM601.5 840.0h3v31.0h-3zM601.5 901.0h3v31.0h-3zM601.5 932.0h3v30.0h-3zM601.5 993.0h3v31.0h-3zM601.5 1024.0h3v30.0h-3zM604.5 779.0h2v31.0h-2zM607.5 1024.0h1v30.0h-1zM608.5 779.0h1v31.0h-1zM608.5 1054.0h1v31.0h-1zM609.5 1054.0h1v31.0h-1zM609.5 1085.0h1v31.0h-1zM609.5 1116.0h1v30.0h-1zM610.5 901.0h1.5v31.0h-1.5zM612.0 748.0h1v31.0h-1zM612.0 779.0h1v31.0h-1zM612.0 871.0h1v30.0h-1zM612.0 993.0h1v31.0h-1zM612.0 1085.0h1v31.0h-1zM613.0 962.0h3v31.0h-3zM613.0 1024.0h3v30.0h-3zM613.0 1054.0h3v31.0h-3zM613.0 1085.0h3v31.0h-3zM616.0 1054.0h1v31.0h-1zM617.0 962.0h1v31.0h-1zM618.0 779.0h2v31.0h-2zM618.0 932.0h2v30.0h-2zM618.0 1085.0h2v31.0h-2zM622.0 1024.0h1v30.0h-1zM622.0 1054.0h1v31.0h-1zM622.0 1085.0h1v31.0h-1zM622.0 1116.0h1v30.0h-1zM623.0 1085.0h1.5v31.0h-1.5zM623.0 1116.0h1.5v30.0h-1.5zM624.5 901.0h1.5v31.0h-1.5zM624.5 962.0h1.5v31.0h-1.5zM624.5 1054.0h1.5v31.0h-1.5zM624.5 1116.0h1.5v30.0h-1.5zM627.0 962.0h1v31.0h-1zM627.0 993.0h1v31.0h-1zM627.0 1024.0h1v30.0h-1zM627.0 1054.0h1v31.0h-1zM627.0 1085.0h1v31.0h-1zM628.0 901.0h2v31.0h-2zM628.0 962.0h2v31.0h-2zM628.0 993.0h2v31.0h-2zM628.0 1024.0h2v30.0h-2zM628.0 1054.0h2v31.0h-2zM628.0 1116.0h2v30.0h-2zM630.0 748.0h2v31.0h-2zM630.0 779.0h2v31.0h-2zM630.0 932.0h2v30.0h-2zM632.0 1116.0h1.5v30.0h-1.5zM635.5 962.0h2v31.0h-2zM635.5 1024.0h2v30.0h-2zM635.5 1054.0h2v31.0h-2zM637.5 962.0h1.5v31.0h-1.5zM637.5 1024.0h1.5v30.0h-1.5zM637.5 1116.0h1.5v30.0h-1.5zM639.0 901.0h1v31.0h-1zM639.0 962.0h1v31.0h-1zM643.0 748.0h2v31.0h-2zM643.0 779.0h2v31.0h-2zM643.0 810.0h2v30.0h-2zM643.0 840.0h2v31.0h-2zM643.0 993.0h2v31.0h-2zM645.0 993.0h2v31.0h-2zM645.0 1054.0h2v31.0h-2zM645.0 1085.0h2v31.0h-2zM645.0 1116.0h2v30.0h-2zM647.0 962.0h3v31.0h-3zM647.0 993.0h3v31.0h-3zM647.0 1116.0h3v30.0h-3zM650.0 962.0h3v31.0h-3zM650.0 993.0h3v31.0h-3zM650.0 1024.0h3v30.0h-3zM650.0 1054.0h3v31.0h-3zM650.0 1116.0h3v30.0h-3zM656.0 962.0h1v31.0h-1zM656.0 993.0h1v31.0h-1zM656.0 1085.0h1v31.0h-1zM659.0 1054.0h3v31.0h-3zM659.0 1116.0h3v30.0h-3zM662.0 962.0h1v31.0h-1zM662.0 1054.0h1v31.0h-1zM662.0 1116.0h1v30.0h-1z" fill="#a0a05a"/><path d="M567.0 810.0h1v30.0h-1zM568.0 871.0h1.5v30.0h-1.5zM569.5 962.0h1v31.0h-1zM581.5 840.0h1v31.0h-1zM607.5 1085.0h1v31.0h-1zM609.5 962.0h1v31.0h-1zM624.5 1085.0h1.5v31.0h-1.5zM643.0 962.0h2v31.0h-2zM647.0 1024.0h3v30.0h-3zM647.0 1054.0h3v31.0h-3z" fill="#a5a55a"/><path d="M580.5 993.0h1v31.0h-1zM600.0 779.0h1.5v31.0h-1.5zM600.0 993.0h1.5v31.0h-1.5zM600.0 1116.0h1.5v30.0h-1.5zM601.5 748.0h3v31.0h-3zM601.5 779.0h3v31.0h-3zM601.5 810.0h3v30.0h-3zM601.5 871.0h3v30.0h-3zM601.5 962.0h3v31.0h-3zM601.5 1054.0h3v31.0h-3zM601.5 1085.0h3v31.0h-3zM601.5 1116.0h3v30.0h-3zM604.5 748.0h2v31.0h-2zM604.5 810.0h2v30.0h-2zM604.5 901.0h2v31.0h-2zM604.5 993.0h2v31.0h-2zM604.5 1054.0h2v31.0h-2zM604.5 1116.0h2v30.0h-2zM606.5 1024.0h1v30.0h-1zM606.5 1116.0h1v30.0h-1zM608.5 840.0h1v31.0h-1zM608.5 871.0h1v30.0h-1zM608.5 901.0h1v31.0h-1zM608.5 993.0h1v31.0h-1zM608.5 1024.0h1v30.0h-1zM608.5 1085.0h1v31.0h-1zM608.5 1116.0h1v30.0h-1zM609.5 932.0h1v30.0h-1zM609.5 993.0h1v31.0h-1zM610.5 932.0h1.5v30.0h-1.5zM612.0 810.0h1v30.0h-1zM612.0 840.0h1v31.0h-1zM612.0 901.0h1v31.0h-1zM612.0 932.0h1v30.0h-1zM612.0 962.0h1v31.0h-1zM613.0 810.0h3v30.0h-3zM616.0 962.0h1v31.0h-1zM616.0 993.0h1v31.0h-1zM616.0 1116.0h1v30.0h-1zM617.0 748.0h1v31.0h-1zM617.0 779.0h1v31.0h-1zM617.0 810.0h1v30.0h-1zM617.0 993.0h1v31.0h-1zM617.0 1054.0h1v31.0h-1zM617.0 1085.0h1v31.0h-1zM618.0 748.0h2v31.0h-2zM618.0 810.0h2v30.0h-2zM618.0 871.0h2v30.0h-2zM618.0 993.0h2v31.0h-2zM618.0 1024.0h2v30.0h-2zM618.0 1054.0h2v31.0h-2zM620.0 1024.0h2v30.0h-2zM620.0 1054.0h2v31.0h-2zM620.0 1085.0h2v31.0h-2zM622.0 871.0h1v30.0h-1zM623.0 779.0h1.5v31.0h-1.5zM624.5 748.0h1.5v31.0h-1.5zM624.5 779.0h1.5v31.0h-1.5zM624.5 810.0h1.5v30.0h-1.5zM624.5 840.0h1.5v31.0h-1.5zM624.5 932.0h1.5v30.0h-1.5zM624.5 993.0h1.5v31.0h-1.5zM624.5 1024.0h1.5v30.0h-1.5zM626.0 840.0h1v31.0h-1zM626.0 1054.0h1v31.0h-1zM626.0 1085.0h1v31.0h-1zM627.0 840.0h1v31.0h-1zM627.0 901.0h1v31.0h-1zM627.0 1116.0h1v30.0h-1zM628.0 748.0h2v31.0h-2zM628.0 779.0h2v31.0h-2zM628.0 810.0h2v30.0h-2zM628.0 840.0h2v31.0h-2zM628.0 871.0h2v30.0h-2zM628.0 932.0h2v30.0h-2zM628.0 1085.0h2v31.0h-2zM630.0 810.0h2v30.0h-2zM630.0 840.0h2v31.0h-2zM630.0 871.0h2v30.0h-2zM630.0 901.0h2v31.0h-2zM632.0 779.0h1.5v31.0h-1.5zM632.0 840.0h1.5v31.0h-1.5zM632.0 871.0h1.5v30.0h-1.5zM632.0 901.0h1.5v31.0h-1.5zM632.0 932.0h1.5v30.0h-1.5zM632.0 993.0h1.5v31.0h-1.5zM632.0 1054.0h1.5v31.0h-1.5zM632.0 1085.0h1.5v31.0h-1.5zM633.5 810.0h2v30.0h-2zM633.5 871.0h2v30.0h-2zM633.5 932.0h2v30.0h-2zM635.5 779.0h2v31.0h-2zM637.5 748.0h1.5v31.0h-1.5zM637.5 1054.0h1.5v31.0h-1.5zM637.5 1085.0h1.5v31.0h-1.5zM639.0 748.0h1v31.0h-1zM639.0 779.0h1v31.0h-1zM639.0 810.0h1v30.0h-1zM639.0 840.0h1v31.0h-1zM639.0 871.0h1v30.0h-1zM639.0 932.0h1v30.0h-1zM639.0 993.0h1v31.0h-1zM639.0 1024.0h1v30.0h-1zM639.0 1054.0h1v31.0h-1zM639.0 1116.0h1v30.0h-1zM640.0 1024.0h3v30.0h-3zM640.0 1054.0h3v31.0h-3zM640.0 1085.0h3v31.0h-3zM640.0 1116.0h3v30.0h-3zM643.0 871.0h2v30.0h-2zM647.0 1085.0h3v31.0h-3zM650.0 1085.0h3v31.0h-3zM653.0 962.0h3v31.0h-3zM653.0 1024.0h3v30.0h-3zM653.0 1054.0h3v31.0h-3zM653.0 1116.0h3v30.0h-3zM656.0 840.0h1v31.0h-1zM656.0 871.0h1v30.0h-1zM656.0 1054.0h1v31.0h-1zM657.0 1054.0h2v31.0h-2zM659.0 962.0h3v31.0h-3zM659.0 993.0h3v31.0h-3zM659.0 1024.0h3v30.0h-3zM659.0 1085.0h3v31.0h-3zM662.0 993.0h1v31.0h-1zM662.0 1024.0h1v30.0h-1zM662.0 1085.0h1v31.0h-1z" fill="#9b9b5f"/><path d="M581.5 962.0h1v31.0h-1z" fill="#bebe41"/><path d="M598.0 748.0h2v31.0h-2zM598.0 810.0h2v30.0h-2zM598.0 840.0h2v31.0h-2zM598.0 871.0h2v30.0h-2zM598.0 901.0h2v31.0h-2zM598.0 932.0h2v30.0h-2zM682.0 962.0h1v31.0h-1zM682.0 1024.0h1v30.0h-1zM682.0 1054.0h1v31.0h-1zM682.0 1085.0h1v31.0h-1zM733.5 1054.0h1v31.0h-1zM733.5 1085.0h1v31.0h-1zM753.5 1085.0h1v31.0h-1zM781.5 993.0h1v31.0h-1zM781.5 1054.0h1v31.0h-1zM784.0 748.0h1v31.0h-1zM785.0 779.0h2v31.0h-2zM785.0 871.0h2v30.0h-2zM785.0 932.0h2v30.0h-2zM789.0 748.0h2v31.0h-2zM789.0 810.0h2v30.0h-2zM789.0 901.0h2v31.0h-2zM789.0 932.0h2v30.0h-2zM792.5 779.0h3v31.0h-3zM792.5 840.0h3v31.0h-3zM792.5 871.0h3v30.0h-3zM792.5 901.0h3v31.0h-3zM792.5 932.0h3v30.0h-3zM796.5 840.0h2v31.0h-2zM796.5 871.0h2v30.0h-2zM796.5 901.0h2v31.0h-2zM796.5 932.0h2v30.0h-2zM798.5 748.0h1v31.0h-1zM798.5 810.0h1v30.0h-1zM798.5 1116.0h1v30.0h-1zM799.5 779.0h1v31.0h-1zM799.5 932.0h1v30.0h-1zM802.5 840.0h3v31.0h-3zM805.5 748.0h1v31.0h-1zM805.5 779.0h1v31.0h-1zM805.5 810.0h1v30.0h-1zM805.5 871.0h1v30.0h-1zM805.5 932.0h1v30.0h-1zM806.5 810.0h1v30.0h-1zM806.5 871.0h1v30.0h-1zM807.5 748.0h2v31.0h-2zM807.5 871.0h2v30.0h-2zM816.0 810.0h1v30.0h-1zM816.0 871.0h1v30.0h-1zM816.0 932.0h1v30.0h-1zM817.0 748.0h1v31.0h-1zM817.0 779.0h1v31.0h-1zM817.0 840.0h1v31.0h-1zM817.0 871.0h1v30.0h-1zM818.0 748.0h1.5v31.0h-1.5zM818.0 779.0h1.5v31.0h-1.5zM818.0 810.0h1.5v30.0h-1.5zM818.0 840.0h1.5v31.0h-1.5zM818.0 871.0h1.5v30.0h-1.5zM818.0 901.0h1.5v31.0h-1.5zM821.5 840.0h1.5v31.0h-1.5zM821.5 932.0h1.5v30.0h-1.5zM824.0 779.0h3v31.0h-3zM824.0 810.0h3v30.0h-3zM824.0 901.0h3v31.0h-3zM824.0 932.0h3v30.0h-3zM830.5 748.0h2v31.0h-2zM830.5 810.0h2v30.0h-2zM830.5 840.0h2v31.0h-2zM830.5 932.0h2v30.0h-2zM835.5 748.0h1.5v31.0h-1.5zM835.5 779.0h1.5v31.0h-1.5zM835.5 810.0h1.5v30.0h-1.5zM835.5 840.0h1.5v31.0h-1.5zM835.5 901.0h1.5v31.0h-1.5zM835.5 932.0h1.5v30.0h-1.5zM838.5 748.0h1v31.0h-1zM838.5 779.0h1v31.0h-1zM838.5 810.0h1v30.0h-1zM838.5 840.0h1v31.0h-1zM838.5 871.0h1v30.0h-1zM838.5 901.0h1v31.0h-1zM839.5 748.0h1v31.0h-1zM839.5 779.0h1v31.0h-1zM839.5 810.0h1v30.0h-1zM839.5 901.0h1v31.0h-1zM839.5 932.0h1v30.0h-1zM840.5 871.0h1v30.0h-1zM840.5 901.0h1v31.0h-1zM840.5 932.0h1v30.0h-1zM841.5 748.0h1.5v31.0h-1.5zM841.5 810.0h1.5v30.0h-1.5zM841.5 840.0h1.5v31.0h-1.5zM841.5 871.0h1.5v30.0h-1.5zM841.5 901.0h1.5v31.0h-1.5zM841.5 932.0h1.5v30.0h-1.5zM846.0 932.0h1.5v30.0h-1.5zM847.5 748.0h1v31.0h-1zM847.5 779.0h1v31.0h-1zM847.5 810.0h1v30.0h-1zM847.5 871.0h1v30.0h-1zM847.5 901.0h1v31.0h-1zM847.5 932.0h1v30.0h-1zM847.5 1024.0h1v30.0h-1zM847.5 1054.0h1v31.0h-1zM847.5 1085.0h1v31.0h-1zM848.5 748.0h2v31.0h-2zM848.5 779.0h2v31.0h-2zM848.5 810.0h2v30.0h-2zM848.5 871.0h2v30.0h-2zM848.5 932.0h2v30.0h-2zM848.5 993.0h2v31.0h-2zM850.5 962.0h2v31.0h-2zM850.5 993.0h2v31.0h-2zM850.5 1024.0h2v30.0h-2zM850.5 1054.0h2v31.0h-2zM850.5 1085.0h2v31.0h-2zM850.5 1116.0h2v30.0h-2zM852.5 1024.0h2v30.0h-2zM854.5 962.0h1v31.0h-1zM854.5 993.0h1v31.0h-1zM854.5 1024.0h1v30.0h-1zM854.5 1054.0h1v31.0h-1zM854.5 1085.0h1v31.0h-1zM854.5 1116.0h1v30.0h-1zM855.5 748.0h2v31.0h-2zM855.5 779.0h2v31.0h-2zM855.5 932.0h2v30.0h-2zM855.5 962.0h2v31.0h-2zM855.5 993.0h2v31.0h-2zM855.5 1024.0h2v30.0h-2zM855.5 1085.0h2v31.0h-2zM855.5 1116.0h2v30.0h-2zM857.5 748.0h3v31.0h-3zM857.5 779.0h3v31.0h-3zM857.5 840.0h3v31.0h-3zM857.5 901.0h3v31.0h-3zM857.5 1116.0h3v30.0h-3zM860.5 1024.0h1.5v30.0h-1.5zM860.5 1054.0h1.5v31.0h-1.5zM860.5 1085.0h1.5v31.0h-1.5zM860.5 1116.0h1.5v30.0h-1.5zM862.0 1054.0h3v31.0h-3zM862.0 1085.0h3v31.0h-3zM862.0 1116.0h3v30.0h-3zM865.0 779.0h1v31.0h-1zM865.0 962.0h1v31.0h-1zM865.0 1024.0h1v30.0h-1zM865.0 1054.0h1v31.0h-1zM865.0 1085.0h1v31.0h-1zM869.0 748.0h1v31.0h-1zM869.0 810.0h1v30.0h-1zM869.0 840.0h1v31.0h-1zM869.0 871.0h1v30.0h-1zM870.0 962.0h2v31.0h-2zM870.0 1024.0h2v30.0h-2zM870.0 1085.0h2v31.0h-2zM872.0 748.0h3v31.0h-3zM872.0 779.0h3v31.0h-3zM872.0 810.0h3v30.0h-3zM872.0 840.0h3v31.0h-3zM872.0 871.0h3v30.0h-3zM872.0 901.0h3v31.0h-3zM872.0 932.0h3v30.0h-3zM876.0 810.0h2v30.0h-2zM876.0 840.0h2v31.0h-2zM876.0 871.0h2v30.0h-2zM876.0 932.0h2v30.0h-2zM876.0 993.0h2v31.0h-2zM878.0 962.0h1v31.0h-1zM878.0 993.0h1v31.0h-1zM878.0 1024.0h1v30.0h-1zM879.0 1024.0h2v30.0h-2zM879.0 1085.0h2v31.0h-2zM881.0 779.0h3v31.0h-3zM881.0 810.0h3v30.0h-3zM881.0 840.0h3v31.0h-3zM881.0 871.0h3v30.0h-3zM881.0 901.0h3v31.0h-3zM881.0 962.0h3v31.0h-3zM881.0 993.0h3v31.0h-3zM881.0 1116.0h3v30.0h-3zM884.0 748.0h1.5v31.0h-1.5zM884.0 779.0h1.5v31.0h-1.5zM884.0 810.0h1.5v30.0h-1.5zM884.0 840.0h1.5v31.0h-1.5zM884.0 871.0h1.5v30.0h-1.5zM884.0 901.0h1.5v31.0h-1.5zM884.0 932.0h1.5v30.0h-1.5zM884.0 1054.0h1.5v31.0h-1.5zM885.5 748.0h1v31.0h-1zM886.5 810.0h3v30.0h-3zM886.5 901.0h3v31.0h-3zM886.5 932.0h3v30.0h-3zM889.5 871.0h2v30.0h-2zM889.5 962.0h2v31.0h-2zM889.5 1024.0h2v30.0h-2zM889.5 1116.0h2v30.0h-2zM891.5 871.0h1.5v30.0h-1.5zM891.5 932.0h1.5v30.0h-1.5zM893.0 962.0h2v31.0h-2zM893.0 993.0h2v31.0h-2zM893.0 1054.0h2v31.0h-2zM893.0 1085.0h2v31.0h-2zM893.0 1116.0h2v30.0h-2zM899.0 993.0h3v31.0h-3zM899.0 1116.0h3v30.0h-3zM902.0 962.0h1v31.0h-1zM902.0 993.0h1v31.0h-1zM904.0 962.0h1v31.0h-1zM904.0 993.0h1v31.0h-1zM904.0 1024.0h1v30.0h-1zM904.0 1054.0h1v31.0h-1zM904.0 1085.0h1v31.0h-1zM904.0 1116.0h1v30.0h-1zM905.0 962.0h1v31.0h-1zM905.0 993.0h1v31.0h-1zM905.0 1054.0h1v31.0h-1zM905.0 1116.0h1v30.0h-1zM906.0 993.0h1v31.0h-1zM906.0 1024.0h1v30.0h-1zM907.0 962.0h2v31.0h-2zM907.0 993.0h2v31.0h-2zM909.0 871.0h2v30.0h-2zM911.0 1024.0h3v30.0h-3zM914.0 962.0h1v31.0h-1zM914.0 993.0h1v31.0h-1zM914.0 1024.0h1v30.0h-1zM914.0 1085.0h1v31.0h-1zM915.0 993.0h2v31.0h-2zM915.0 1024.0h2v30.0h-2zM915.0 1054.0h2v31.0h-2zM915.0 1085.0h2v31.0h-2zM915.0 1116.0h2v30.0h-2zM917.0 962.0h2v31.0h-2zM917.0 1024.0h2v30.0h-2zM917.0 1116.0h2v30.0h-2zM919.0 962.0h2v31.0h-2zM919.0 993.0h2v31.0h-2zM919.0 1116.0h2v30.0h-2zM921.0 962.0h2v31.0h-2zM921.0 993.0h2v31.0h-2zM921.0 1024.0h2v30.0h-2zM921.0 1054.0h2v31.0h-2zM921.0 1085.0h2v31.0h-2zM921.0 1116.0h2v30.0h-2z" fill="#828278"/><path d="M598.0 779.0h2v31.0h-2zM657.0 810.0h2v30.0h-2zM657.0 871.0h2v30.0h-2zM657.0 932.0h2v30.0h-2zM784.0 779.0h1v31.0h-1zM784.0 840.0h1v31.0h-1zM784.0 871.0h1v30.0h-1zM784.0 932.0h1v30.0h-1zM784.0 962.0h1v31.0h-1zM785.0 748.0h2v31.0h-2zM785.0 840.0h2v31.0h-2zM787.0 748.0h2v31.0h-2zM787.0 779.0h2v31.0h-2zM787.0 871.0h2v30.0h-2zM787.0 1024.0h2v30.0h-2zM787.0 1054.0h2v31.0h-2zM789.0 779.0h2v31.0h-2zM789.0 840.0h2v31.0h-2zM789.0 871.0h2v30.0h-2zM795.5 748.0h1v31.0h-1zM795.5 779.0h1v31.0h-1zM795.5 810.0h1v30.0h-1zM795.5 840.0h1v31.0h-1zM795.5 871.0h1v30.0h-1zM795.5 901.0h1v31.0h-1zM795.5 932.0h1v30.0h-1zM795.5 993.0h1v31.0h-1zM796.5 748.0h2v31.0h-2zM796.5 779.0h2v31.0h-2zM796.5 810.0h2v30.0h-2zM798.5 779.0h1v31.0h-1zM798.5 840.0h1v31.0h-1zM798.5 871.0h1v30.0h-1zM798.5 901.0h1v31.0h-1zM798.5 932.0h1v30.0h-1zM798.5 962.0h1v31.0h-1zM798.5 1024.0h1v30.0h-1zM798.5 1054.0h1v31.0h-1zM798.5 1085.0h1v31.0h-1zM800.5 748.0h2v31.0h-2zM800.5 810.0h2v30.0h-2zM800.5 840.0h2v31.0h-2zM800.5 871.0h2v30.0h-2zM800.5 901.0h2v31.0h-2zM800.5 932.0h2v30.0h-2zM800.5 962.0h2v31.0h-2zM800.5 1024.0h2v30.0h-2zM800.5 1054.0h2v31.0h-2zM802.5 748.0h3v31.0h-3zM802.5 779.0h3v31.0h-3zM802.5 810.0h3v30.0h-3zM802.5 871.0h3v30.0h-3zM802.5 901.0h3v31.0h-3zM805.5 840.0h1v31.0h-1zM805.5 901.0h1v31.0h-1zM806.5 748.0h1v31.0h-1zM806.5 779.0h1v31.0h-1zM806.5 840.0h1v31.0h-1zM806.5 901.0h1v31.0h-1zM806.5 932.0h1v30.0h-1zM811.5 748.0h1.5v31.0h-1.5zM811.5 779.0h1.5v31.0h-1.5zM811.5 810.0h1.5v30.0h-1.5zM811.5 871.0h1.5v30.0h-1.5zM811.5 901.0h1.5v31.0h-1.5zM811.5 932.0h1.5v30.0h-1.5zM813.0 748.0h3v31.0h-3zM813.0 779.0h3v31.0h-3zM813.0 810.0h3v30.0h-3zM813.0 840.0h3v31.0h-3zM813.0 871.0h3v30.0h-3zM813.0 901.0h3v31.0h-3zM813.0 932.0h3v30.0h-3zM817.0 810.0h1v30.0h-1zM817.0 932.0h1v30.0h-1zM818.0 932.0h1.5v30.0h-1.5zM819.5 748.0h2v31.0h-2zM819.5 779.0h2v31.0h-2zM819.5 810.0h2v30.0h-2zM819.5 840.0h2v31.0h-2zM819.5 901.0h2v31.0h-2zM819.5 932.0h2v30.0h-2zM819.5 1116.0h2v30.0h-2zM821.5 779.0h1.5v31.0h-1.5zM821.5 871.0h1.5v30.0h-1.5zM821.5 901.0h1.5v31.0h-1.5zM823.0 748.0h1v31.0h-1zM823.0 779.0h1v31.0h-1zM823.0 840.0h1v31.0h-1zM823.0 871.0h1v30.0h-1zM823.0 932.0h1v30.0h-1zM824.0 748.0h3v31.0h-3zM824.0 840.0h3v31.0h-3zM827.0 748.0h2v31.0h-2zM827.0 810.0h2v30.0h-2zM827.0 840.0h2v31.0h-2zM827.0 871.0h2v30.0h-2zM827.0 901.0h2v31.0h-2zM827.0 932.0h2v30.0h-2zM829.0 748.0h1.5v31.0h-1.5zM829.0 779.0h1.5v31.0h-1.5zM829.0 810.0h1.5v30.0h-1.5zM829.0 871.0h1.5v30.0h-1.5zM829.0 901.0h1.5v31.0h-1.5zM829.0 932.0h1.5v30.0h-1.5zM830.5 779.0h2v31.0h-2zM830.5 871.0h2v30.0h-2zM830.5 901.0h2v31.0h-2zM832.5 779.0h3v31.0h-3zM832.5 810.0h3v30.0h-3zM832.5 840.0h3v31.0h-3zM832.5 871.0h3v30.0h-3zM832.5 932.0h3v30.0h-3zM837.0 810.0h1.5v30.0h-1.5zM837.0 932.0h1.5v30.0h-1.5zM837.0 993.0h1.5v31.0h-1.5zM837.0 1024.0h1.5v30.0h-1.5zM837.0 1085.0h1.5v31.0h-1.5zM839.5 840.0h1v31.0h-1zM839.5 871.0h1v30.0h-1zM840.5 748.0h1v31.0h-1zM840.5 779.0h1v31.0h-1zM840.5 810.0h1v30.0h-1zM846.0 962.0h1.5v31.0h-1.5zM846.0 993.0h1.5v31.0h-1.5zM846.0 1024.0h1.5v30.0h-1.5zM847.5 962.0h1v31.0h-1zM847.5 993.0h1v31.0h-1zM847.5 1116.0h1v30.0h-1zM848.5 962.0h2v31.0h-2zM848.5 1024.0h2v30.0h-2zM848.5 1054.0h2v31.0h-2zM848.5 1085.0h2v31.0h-2zM848.5 1116.0h2v30.0h-2zM852.5 962.0h2v31.0h-2zM852.5 993.0h2v31.0h-2zM852.5 1054.0h2v31.0h-2zM852.5 1085.0h2v31.0h-2zM852.5 1116.0h2v30.0h-2zM855.5 1054.0h2v31.0h-2zM857.5 810.0h3v30.0h-3zM857.5 932.0h3v30.0h-3zM860.5 962.0h1.5v31.0h-1.5zM860.5 993.0h1.5v31.0h-1.5zM862.0 962.0h3v31.0h-3zM862.0 993.0h3v31.0h-3zM862.0 1024.0h3v30.0h-3zM870.0 993.0h2v31.0h-2zM870.0 1054.0h2v31.0h-2zM870.0 1116.0h2v30.0h-2zM872.0 962.0h3v31.0h-3zM872.0 1024.0h3v30.0h-3zM872.0 1054.0h3v31.0h-3zM872.0 1085.0h3v31.0h-3zM872.0 1116.0h3v30.0h-3zM875.0 962.0h1v31.0h-1zM875.0 1024.0h1v30.0h-1zM875.0 1054.0h1v31.0h-1zM875.0 1085.0h1v31.0h-1zM875.0 1116.0h1v30.0h-1zM876.0 962.0h2v31.0h-2zM876.0 1024.0h2v30.0h-2zM876.0 1054.0h2v31.0h-2zM876.0 1085.0h2v31.0h-2zM876.0 1116.0h2v30.0h-2zM878.0 1054.0h1v31.0h-1zM878.0 1085.0h1v31.0h-1zM878.0 1116.0h1v30.0h-1zM879.0 962.0h2v31.0h-2zM879.0 993.0h2v31.0h-2zM879.0 1054.0h2v31.0h-2zM879.0 1116.0h2v30.0h-2zM881.0 1024.0h3v30.0h-3zM881.0 1054.0h3v31.0h-3zM881.0 1085.0h3v31.0h-3zM884.0 962.0h1.5v31.0h-1.5zM884.0 993.0h1.5v31.0h-1.5zM884.0 1024.0h1.5v30.0h-1.5zM884.0 1085.0h1.5v31.0h-1.5zM884.0 1116.0h1.5v30.0h-1.5zM885.5 962.0h1v31.0h-1zM885.5 1024.0h1v30.0h-1zM885.5 1085.0h1v31.0h-1zM885.5 1116.0h1v30.0h-1zM886.5 993.0h3v31.0h-3zM886.5 1024.0h3v30.0h-3zM886.5 1054.0h3v31.0h-3zM886.5 1085.0h3v31.0h-3zM886.5 1116.0h3v30.0h-3zM889.5 993.0h2v31.0h-2zM889.5 1054.0h2v31.0h-2zM889.5 1085.0h2v31.0h-2zM891.5 962.0h1.5v31.0h-1.5zM891.5 993.0h1.5v31.0h-1.5zM891.5 1024.0h1.5v30.0h-1.5zM891.5 1054.0h1.5v31.0h-1.5zM891.5 1085.0h1.5v31.0h-1.5zM891.5 1116.0h1.5v30.0h-1.5zM893.0 1024.0h2v30.0h-2zM895.0 962.0h3v31.0h-3zM895.0 993.0h3v31.0h-3zM895.0 1024.0h3v30.0h-3zM895.0 1054.0h3v31.0h-3zM895.0 1085.0h3v31.0h-3zM899.0 962.0h3v31.0h-3zM899.0 1024.0h3v30.0h-3zM899.0 1054.0h3v31.0h-3zM899.0 1085.0h3v31.0h-3zM902.0 1024.0h1v30.0h-1zM902.0 1054.0h1v31.0h-1zM902.0 1085.0h1v31.0h-1zM902.0 1116.0h1v30.0h-1zM907.0 1024.0h2v30.0h-2zM907.0 1054.0h2v31.0h-2zM907.0 1085.0h2v31.0h-2zM907.0 1116.0h2v30.0h-2zM909.0 962.0h2v31.0h-2zM909.0 993.0h2v31.0h-2zM909.0 1024.0h2v30.0h-2zM909.0 1054.0h2v31.0h-2zM909.0 1085.0h2v31.0h-2zM909.0 1116.0h2v30.0h-2zM911.0 962.0h3v31.0h-3zM911.0 993.0h3v31.0h-3zM911.0 1054.0h3v31.0h-3zM911.0 1085.0h3v31.0h-3zM911.0 1116.0h3v30.0h-3zM915.0 962.0h2v31.0h-2zM917.0 993.0h2v31.0h-2zM917.0 1054.0h2v31.0h-2zM917.0 1085.0h2v31.0h-2z" fill="#878773"/><path d="M598.0 962.0h2v31.0h-2zM598.0 993.0h2v31.0h-2zM598.0 1024.0h2v30.0h-2zM598.0 1054.0h2v31.0h-2zM598.0 1085.0h2v31.0h-2zM598.0 1116.0h2v30.0h-2zM600.0 840.0h1.5v31.0h-1.5zM606.5 840.0h1v31.0h-1zM606.5 871.0h1v30.0h-1zM606.5 901.0h1v31.0h-1zM607.5 748.0h1v31.0h-1zM607.5 779.0h1v31.0h-1zM607.5 840.0h1v31.0h-1zM607.5 901.0h1v31.0h-1zM607.5 932.0h1v30.0h-1zM609.5 748.0h1v31.0h-1zM609.5 840.0h1v31.0h-1zM609.5 871.0h1v30.0h-1zM613.0 901.0h3v31.0h-3zM616.0 748.0h1v31.0h-1zM616.0 779.0h1v31.0h-1zM616.0 810.0h1v30.0h-1zM616.0 840.0h1v31.0h-1zM616.0 901.0h1v31.0h-1zM616.0 932.0h1v30.0h-1zM620.0 810.0h2v30.0h-2zM620.0 901.0h2v31.0h-2zM620.0 993.0h2v31.0h-2zM622.0 748.0h1v31.0h-1zM622.0 840.0h1v31.0h-1zM622.0 901.0h1v31.0h-1zM626.0 748.0h1v31.0h-1zM626.0 871.0h1v30.0h-1zM630.0 1054.0h2v31.0h-2zM630.0 1116.0h2v30.0h-2zM632.0 810.0h1.5v30.0h-1.5zM635.5 901.0h2v31.0h-2zM637.5 779.0h1.5v31.0h-1.5zM637.5 810.0h1.5v30.0h-1.5zM637.5 932.0h1.5v30.0h-1.5zM640.0 779.0h3v31.0h-3zM640.0 810.0h3v30.0h-3zM640.0 840.0h3v31.0h-3zM640.0 871.0h3v30.0h-3zM647.0 748.0h3v31.0h-3zM647.0 840.0h3v31.0h-3zM647.0 871.0h3v30.0h-3zM647.0 932.0h3v30.0h-3zM650.0 810.0h3v30.0h-3zM650.0 840.0h3v31.0h-3zM650.0 932.0h3v30.0h-3zM653.0 779.0h3v31.0h-3zM653.0 810.0h3v30.0h-3zM653.0 871.0h3v30.0h-3zM653.0 901.0h3v31.0h-3zM653.0 932.0h3v30.0h-3zM656.0 932.0h1v30.0h-1zM659.0 748.0h3v31.0h-3zM659.0 779.0h3v31.0h-3zM659.0 871.0h3v30.0h-3zM659.0 932.0h3v30.0h-3zM662.0 748.0h1v31.0h-1zM662.0 779.0h1v31.0h-1zM662.0 932.0h1v30.0h-1zM785.0 1116.0h2v30.0h-2zM792.5 962.0h3v31.0h-3zM792.5 993.0h3v31.0h-3zM792.5 1024.0h3v30.0h-3zM792.5 1054.0h3v31.0h-3zM792.5 1085.0h3v31.0h-3zM792.5 1116.0h3v30.0h-3zM796.5 962.0h2v31.0h-2zM796.5 993.0h2v31.0h-2zM796.5 1054.0h2v31.0h-2zM796.5 1116.0h2v30.0h-2zM799.5 962.0h1v31.0h-1zM799.5 993.0h1v31.0h-1zM799.5 1024.0h1v30.0h-1zM799.5 1054.0h1v31.0h-1zM799.5 1085.0h1v31.0h-1zM799.5 1116.0h1v30.0h-1zM802.5 993.0h3v31.0h-3zM802.5 1024.0h3v30.0h-3zM802.5 1054.0h3v31.0h-3zM802.5 1085.0h3v31.0h-3zM802.5 1116.0h3v30.0h-3zM807.5 962.0h2v31.0h-2zM807.5 993.0h2v31.0h-2zM807.5 1024.0h2v30.0h-2zM807.5 1054.0h2v31.0h-2zM807.5 1085.0h2v31.0h-2zM811.5 1085.0h1.5v31.0h-1.5zM813.0 993.0h3v31.0h-3zM813.0 1116.0h3v30.0h-3zM816.0 962.0h1v31.0h-1zM816.0 1024.0h1v30.0h-1zM816.0 1054.0h1v31.0h-1zM816.0 1116.0h1v30.0h-1zM817.0 962.0h1v31.0h-1zM817.0 993.0h1v31.0h-1zM817.0 1085.0h1v31.0h-1zM818.0 962.0h1.5v31.0h-1.5zM818.0 993.0h1.5v31.0h-1.5zM818.0 1024.0h1.5v30.0h-1.5zM818.0 1054.0h1.5v31.0h-1.5zM818.0 1085.0h1.5v31.0h-1.5zM818.0 1116.0h1.5v30.0h-1.5zM819.5 1054.0h2v31.0h-2zM819.5 1085.0h2v31.0h-2zM821.5 1116.0h1.5v30.0h-1.5zM823.0 962.0h1v31.0h-1zM823.0 993.0h1v31.0h-1zM823.0 1054.0h1v31.0h-1zM823.0 1085.0h1v31.0h-1zM824.0 962.0h3v31.0h-3zM824.0 993.0h3v31.0h-3zM824.0 1024.0h3v30.0h-3zM824.0 1054.0h3v31.0h-3zM824.0 1085.0h3v31.0h-3zM824.0 1116.0h3v30.0h-3zM827.0 1085.0h2v31.0h-2zM827.0 1116.0h2v30.0h-2zM829.0 962.0h1.5v31.0h-1.5zM829.0 993.0h1.5v31.0h-1.5zM829.0 1024.0h1.5v30.0h-1.5zM829.0 1085.0h1.5v31.0h-1.5zM830.5 962.0h2v31.0h-2zM830.5 993.0h2v31.0h-2zM830.5 1024.0h2v30.0h-2zM830.5 1116.0h2v30.0h-2zM832.5 962.0h3v31.0h-3zM832.5 993.0h3v31.0h-3zM832.5 1024.0h3v30.0h-3zM832.5 1054.0h3v31.0h-3zM832.5 1085.0h3v31.0h-3zM832.5 1116.0h3v30.0h-3zM835.5 962.0h1.5v31.0h-1.5zM835.5 1024.0h1.5v30.0h-1.5zM835.5 1054.0h1.5v31.0h-1.5zM835.5 1085.0h1.5v31.0h-1.5zM835.5 1116.0h1.5v30.0h-1.5zM838.5 993.0h1v31.0h-1zM838.5 1116.0h1v30.0h-1zM839.5 993.0h1v31.0h-1zM839.5 1024.0h1v30.0h-1zM839.5 1085.0h1v31.0h-1zM840.5 1085.0h1v31.0h-1zM841.5 962.0h1.5v31.0h-1.5zM841.5 1054.0h1.5v31.0h-1.5z" fill="#919169"/><path d="M600.0 748.0h1.5v31.0h-1.5zM600.0 932.0h1.5v30.0h-1.5zM600.0 962.0h1.5v31.0h-1.5zM600.0 1024.0h1.5v30.0h-1.5zM600.0 1054.0h1.5v31.0h-1.5zM600.0 1085.0h1.5v31.0h-1.5zM604.5 840.0h2v31.0h-2zM604.5 871.0h2v30.0h-2zM604.5 962.0h2v31.0h-2zM604.5 1024.0h2v30.0h-2zM604.5 1085.0h2v31.0h-2zM606.5 748.0h1v31.0h-1zM606.5 779.0h1v31.0h-1zM606.5 932.0h1v30.0h-1zM606.5 962.0h1v31.0h-1zM606.5 993.0h1v31.0h-1zM606.5 1054.0h1v31.0h-1zM606.5 1085.0h1v31.0h-1zM607.5 810.0h1v30.0h-1zM607.5 871.0h1v30.0h-1zM608.5 810.0h1v30.0h-1zM608.5 962.0h1v31.0h-1zM609.5 810.0h1v30.0h-1zM609.5 901.0h1v31.0h-1zM610.5 748.0h1.5v31.0h-1.5zM610.5 779.0h1.5v31.0h-1.5zM610.5 810.0h1.5v30.0h-1.5zM610.5 840.0h1.5v31.0h-1.5zM610.5 871.0h1.5v30.0h-1.5zM613.0 748.0h3v31.0h-3zM613.0 779.0h3v31.0h-3zM613.0 840.0h3v31.0h-3zM613.0 871.0h3v30.0h-3zM613.0 932.0h3v30.0h-3zM616.0 871.0h1v30.0h-1zM616.0 1085.0h1v31.0h-1zM617.0 871.0h1v30.0h-1zM617.0 932.0h1v30.0h-1zM617.0 1024.0h1v30.0h-1zM617.0 1116.0h1v30.0h-1zM618.0 840.0h2v31.0h-2zM618.0 901.0h2v31.0h-2zM618.0 962.0h2v31.0h-2zM618.0 1116.0h2v30.0h-2zM620.0 748.0h2v31.0h-2zM620.0 779.0h2v31.0h-2zM620.0 840.0h2v31.0h-2zM620.0 871.0h2v30.0h-2zM620.0 932.0h2v30.0h-2zM620.0 962.0h2v31.0h-2zM620.0 1116.0h2v30.0h-2zM622.0 779.0h1v31.0h-1zM622.0 810.0h1v30.0h-1zM622.0 932.0h1v30.0h-1zM623.0 748.0h1.5v31.0h-1.5zM623.0 810.0h1.5v30.0h-1.5zM623.0 840.0h1.5v31.0h-1.5zM623.0 871.0h1.5v30.0h-1.5zM623.0 901.0h1.5v31.0h-1.5zM623.0 932.0h1.5v30.0h-1.5zM624.5 871.0h1.5v30.0h-1.5zM626.0 779.0h1v31.0h-1zM626.0 810.0h1v30.0h-1zM626.0 901.0h1v31.0h-1zM626.0 932.0h1v30.0h-1zM626.0 962.0h1v31.0h-1zM626.0 993.0h1v31.0h-1zM626.0 1024.0h1v30.0h-1zM626.0 1116.0h1v30.0h-1zM627.0 748.0h1v31.0h-1zM627.0 810.0h1v30.0h-1zM627.0 932.0h1v30.0h-1zM630.0 962.0h2v31.0h-2zM630.0 993.0h2v31.0h-2zM630.0 1024.0h2v30.0h-2zM630.0 1085.0h2v31.0h-2zM632.0 748.0h1.5v31.0h-1.5zM632.0 962.0h1.5v31.0h-1.5zM633.5 748.0h2v31.0h-2zM633.5 779.0h2v31.0h-2zM633.5 901.0h2v31.0h-2zM635.5 748.0h2v31.0h-2zM635.5 840.0h2v31.0h-2zM635.5 871.0h2v30.0h-2zM635.5 932.0h2v30.0h-2zM637.5 840.0h1.5v31.0h-1.5zM637.5 871.0h1.5v30.0h-1.5zM637.5 901.0h1.5v31.0h-1.5zM640.0 748.0h3v31.0h-3zM640.0 901.0h3v31.0h-3zM640.0 932.0h3v30.0h-3zM640.0 962.0h3v31.0h-3zM640.0 993.0h3v31.0h-3zM643.0 932.0h2v30.0h-2zM645.0 748.0h2v31.0h-2zM645.0 810.0h2v30.0h-2zM645.0 840.0h2v31.0h-2zM645.0 871.0h2v30.0h-2zM645.0 901.0h2v31.0h-2zM645.0 932.0h2v30.0h-2zM647.0 779.0h3v31.0h-3zM647.0 810.0h3v30.0h-3zM647.0 901.0h3v31.0h-3zM650.0 748.0h3v31.0h-3zM650.0 779.0h3v31.0h-3zM650.0 901.0h3v31.0h-3zM653.0 993.0h3v31.0h-3zM653.0 1085.0h3v31.0h-3zM656.0 748.0h1v31.0h-1zM656.0 779.0h1v31.0h-1zM656.0 810.0h1v30.0h-1zM656.0 901.0h1v31.0h-1zM657.0 962.0h2v31.0h-2zM657.0 993.0h2v31.0h-2zM657.0 1024.0h2v30.0h-2zM657.0 1085.0h2v31.0h-2zM657.0 1116.0h2v30.0h-2zM662.0 810.0h1v30.0h-1zM662.0 840.0h1v31.0h-1zM662.0 871.0h1v30.0h-1zM662.0 901.0h1v31.0h-1zM791.0 962.0h1.5v31.0h-1.5zM791.0 993.0h1.5v31.0h-1.5zM791.0 1024.0h1.5v30.0h-1.5zM791.0 1054.0h1.5v31.0h-1.5zM791.0 1085.0h1.5v31.0h-1.5zM791.0 1116.0h1.5v30.0h-1.5zM802.5 962.0h3v31.0h-3zM813.0 962.0h3v31.0h-3zM813.0 1024.0h3v30.0h-3zM813.0 1054.0h3v31.0h-3zM813.0 1085.0h3v31.0h-3zM817.0 1024.0h1v30.0h-1zM827.0 962.0h2v31.0h-2zM827.0 993.0h2v31.0h-2zM827.0 1054.0h2v31.0h-2zM829.0 1054.0h1.5v31.0h-1.5zM829.0 1116.0h1.5v30.0h-1.5z" fill="#969664"/><path d="M604.5 932.0h2v30.0h-2zM617.0 840.0h1v31.0h-1zM617.0 901.0h1v31.0h-1zM627.0 779.0h1v31.0h-1zM645.0 779.0h2v31.0h-2z" fill="#9b9b64"/><path d="M606.5 810.0h1v30.0h-1zM789.0 993.0h2v31.0h-2zM795.5 1054.0h1v31.0h-1z" fill="#91916e"/><path d="M608.5 748.0h1v31.0h-1zM608.5 932.0h1v30.0h-1zM612.0 1054.0h1v31.0h-1zM612.0 1116.0h1v30.0h-1zM616.0 1024.0h1v30.0h-1zM632.0 1024.0h1.5v30.0h-1.5zM637.5 993.0h1.5v31.0h-1.5zM639.0 1085.0h1v31.0h-1zM643.0 901.0h2v31.0h-2z" fill="#a0a05f"/><path d="M609.5 779.0h1v31.0h-1zM633.5 840.0h2v31.0h-2zM653.0 748.0h3v31.0h-3zM653.0 840.0h3v31.0h-3zM807.5 1116.0h2v30.0h-2zM817.0 1116.0h1v30.0h-1zM827.0 1024.0h2v30.0h-2z" fill="#969669"/><path d="M635.5 810.0h2v30.0h-2zM650.0 871.0h3v30.0h-3zM657.0 748.0h2v31.0h-2zM657.0 779.0h2v31.0h-2zM657.0 901.0h2v31.0h-2zM659.0 810.0h3v30.0h-3zM659.0 840.0h3v31.0h-3zM659.0 901.0h3v31.0h-3zM784.0 993.0h1v31.0h-1zM784.0 1024.0h1v30.0h-1zM784.0 1054.0h1v31.0h-1zM784.0 1085.0h1v31.0h-1zM784.0 1116.0h1v30.0h-1zM785.0 962.0h2v31.0h-2zM785.0 993.0h2v31.0h-2zM785.0 1024.0h2v30.0h-2zM785.0 1054.0h2v31.0h-2zM785.0 1085.0h2v31.0h-2zM787.0 840.0h2v31.0h-2zM787.0 932.0h2v30.0h-2zM787.0 962.0h2v31.0h-2zM787.0 993.0h2v31.0h-2zM787.0 1085.0h2v31.0h-2zM787.0 1116.0h2v30.0h-2zM789.0 962.0h2v31.0h-2zM789.0 1024.0h2v30.0h-2zM789.0 1054.0h2v31.0h-2zM789.0 1085.0h2v31.0h-2zM789.0 1116.0h2v30.0h-2zM795.5 962.0h1v31.0h-1zM795.5 1024.0h1v30.0h-1zM795.5 1085.0h1v31.0h-1zM795.5 1116.0h1v30.0h-1zM796.5 1024.0h2v30.0h-2zM796.5 1085.0h2v31.0h-2zM798.5 993.0h1v31.0h-1zM800.5 993.0h2v31.0h-2zM800.5 1085.0h2v31.0h-2zM800.5 1116.0h2v30.0h-2zM802.5 932.0h3v30.0h-3zM805.5 962.0h1v31.0h-1zM805.5 993.0h1v31.0h-1zM805.5 1024.0h1v30.0h-1zM805.5 1054.0h1v31.0h-1zM805.5 1085.0h1v31.0h-1zM805.5 1116.0h1v30.0h-1zM806.5 962.0h1v31.0h-1zM806.5 993.0h1v31.0h-1zM806.5 1024.0h1v30.0h-1zM806.5 1054.0h1v31.0h-1zM806.5 1085.0h1v31.0h-1zM806.5 1116.0h1v30.0h-1zM809.5 962.0h2v31.0h-2zM809.5 993.0h2v31.0h-2zM809.5 1024.0h2v30.0h-2zM809.5 1054.0h2v31.0h-2zM809.5 1085.0h2v31.0h-2zM809.5 1116.0h2v30.0h-2zM811.5 840.0h1.5v31.0h-1.5zM811.5 962.0h1.5v31.0h-1.5zM811.5 993.0h1.5v31.0h-1.5zM811.5 1024.0h1.5v30.0h-1.5zM811.5 1054.0h1.5v31.0h-1.5zM811.5 1116.0h1.5v30.0h-1.5zM816.0 993.0h1v31.0h-1zM816.0 1085.0h1v31.0h-1zM817.0 901.0h1v31.0h-1zM817.0 1054.0h1v31.0h-1zM819.5 871.0h2v30.0h-2zM819.5 962.0h2v31.0h-2zM819.5 993.0h2v31.0h-2zM819.5 1024.0h2v30.0h-2zM821.5 748.0h1.5v31.0h-1.5zM821.5 810.0h1.5v30.0h-1.5zM821.5 962.0h1.5v31.0h-1.5zM821.5 993.0h1.5v31.0h-1.5zM821.5 1024.0h1.5v30.0h-1.5zM821.5 1054.0h1.5v31.0h-1.5zM821.5 1085.0h1.5v31.0h-1.5zM823.0 810.0h1v30.0h-1zM823.0 901.0h1v31.0h-1zM823.0 1024.0h1v30.0h-1zM823.0 1116.0h1v30.0h-1zM827.0 779.0h2v31.0h-2zM829.0 840.0h1.5v31.0h-1.5zM830.5 1054.0h2v31.0h-2zM830.5 1085.0h2v31.0h-2zM832.5 748.0h3v31.0h-3zM832.5 901.0h3v31.0h-3zM835.5 993.0h1.5v31.0h-1.5zM837.0 748.0h1.5v31.0h-1.5zM837.0 779.0h1.5v31.0h-1.5zM837.0 840.0h1.5v31.0h-1.5zM837.0 871.0h1.5v30.0h-1.5zM837.0 901.0h1.5v31.0h-1.5zM837.0 962.0h1.5v31.0h-1.5zM837.0 1054.0h1.5v31.0h-1.5zM837.0 1116.0h1.5v30.0h-1.5zM838.5 962.0h1v31.0h-1zM838.5 1024.0h1v30.0h-1zM838.5 1054.0h1v31.0h-1zM838.5 1085.0h1v31.0h-1zM839.5 962.0h1v31.0h-1zM839.5 1054.0h1v31.0h-1zM839.5 1116.0h1v30.0h-1zM840.5 962.0h1v31.0h-1zM840.5 993.0h1v31.0h-1zM840.5 1024.0h1v30.0h-1zM840.5 1054.0h1v31.0h-1zM840.5 1116.0h1v30.0h-1zM841.5 993.0h1.5v31.0h-1.5zM841.5 1024.0h1.5v30.0h-1.5zM841.5 1085.0h1.5v31.0h-1.5zM841.5 1116.0h1.5v30.0h-1.5zM846.0 1085.0h1.5v31.0h-1.5zM846.0 1116.0h1.5v30.0h-1.5zM866.0 962.0h3v31.0h-3zM866.0 993.0h3v31.0h-3zM866.0 1024.0h3v30.0h-3zM866.0 1054.0h3v31.0h-3zM866.0 1085.0h3v31.0h-3zM866.0 1116.0h3v30.0h-3zM869.0 962.0h1v31.0h-1zM869.0 993.0h1v31.0h-1zM869.0 1054.0h1v31.0h-1zM869.0 1085.0h1v31.0h-1zM869.0 1116.0h1v30.0h-1zM872.0 993.0h3v31.0h-3zM875.0 993.0h1v31.0h-1zM885.5 993.0h1v31.0h-1zM885.5 1054.0h1v31.0h-1zM886.5 962.0h3v31.0h-3zM895.0 1116.0h3v30.0h-3z" fill="#8c8c6e"/><path d="M657.0 840.0h2v31.0h-2zM846.0 1054.0h1.5v31.0h-1.5zM869.0 1024.0h1v30.0h-1z" fill="#8c8c73"/><path d="M688.5 901.0h1.5v31.0h-1.5zM692.0 810.0h1v30.0h-1zM696.0 871.0h2v30.0h-2zM735.5 779.0h1v31.0h-1zM739.5 901.0h1.5v31.0h-1.5zM845.0 1116.0h1v30.0h-1z" fill="#73738c"/><path d="M690.0 1024.0h1v30.0h-1zM769.5 1054.0h3v31.0h-3z" fill="#7d7d82"/><path d="M713.5 779.0h1.5v31.0h-1.5zM723.0 779.0h1v31.0h-1z" fill="#787887"/><path d="M791.0 871.0h1.5v30.0h-1.5z" fill="#82827d"/><path d="M800.5 779.0h2v31.0h-2zM840.5 840.0h1v31.0h-1z" fill="#878778"/></g><path d="M271.5 763.6V794.2 M271.5 763.6H325.4 M271.5 794.2H325.4 M252.6 778.9V824.8 M252.6 778.9H271.5 M252.6 824.8H325.4 M245.5 801.8V855.4 M245.5 801.8H252.6 M245.5 855.4H325.4 M214.8 828.6V886.0 M214.8 828.6H245.5 M214.8 886.0H325.4 M186.6 857.3V916.6 M186.6 857.3H214.8 M186.6 916.6H325.4 M180.6 887.0V947.2 M180.6 887.0H186.6 M180.6 947.2H325.4 M283.6 977.8V1008.4 M283.6 977.8H325.4 M283.6 1008.4H325.4 M275.4 993.1V1039.0 M275.4 993.1H283.6 M275.4 1039.0H325.4 M272.6 1069.6V1100.2 M272.6 1069.6H325.4 M272.6 1100.2H325.4 M249.8 1016.0V1084.9 M249.8 1016.0H275.4 M249.8 1084.9H272.6 M188.0 1050.5V1130.8 M188.0 1050.5H249.8 M188.0 1130.8H325.4 M97.8 917.1V1090.6 M97.8 917.1H180.6 M97.8 1090.6H188.0" stroke="#3a3a3a" stroke-width="1.4" fill="none"/><path d="M364.2 642.4H580.0 M364.2 642.4V694.3 M580.0 642.4V684.4 M341.5 694.3H386.8 M341.5 694.3V719.5 M386.8 694.3V702.3 M335.7 719.5H347.5 M335.7 719.5V733.4 M347.5 719.5V730.3 M334.2 740.7V744.0 M335.2 740.8V744.0 M334.2 739.2V740.7 M335.2 739.2V740.8 M334.2 739.2H335.2 M336.4 742.4V744.0 M337.3 742.1V744.0 M336.4 741.4V742.4 M337.3 741.4V742.1 M336.4 741.4H337.3 M338.3 740.4V744.0 M336.8 740.1V741.4 M338.3 740.1V740.4 M336.8 740.1H338.3 M334.7 733.4V739.2 M337.6 733.4V740.1 M334.7 733.4H337.6 M335.7 733.4H336.1 M342.4 730.3H353.3 M342.4 730.3V735.0 M353.3 730.3V734.2 M339.6 742.1V744.0 M340.7 741.8V744.0 M341.7 741.7V744.0 M340.7 741.4V741.8 M341.7 741.4V741.7 M340.7 741.4H341.7 M339.6 741.1V742.1 M341.2 741.1V741.4 M339.6 741.1H341.2 M342.8 741.9V744.0 M343.8 742.4V744.0 M342.8 741.7V741.9 M343.8 741.7V742.4 M342.8 741.7H343.8 M340.4 740.4V741.1 M343.3 740.4V741.7 M340.4 740.4H343.3 M344.5 741.6V744.0 M345.2 741.6V744.0 M344.5 740.6V741.6 M345.2 740.6V741.6 M344.5 740.6H345.2 M346.3 740.6V744.0 M344.8 740.1V740.6 M346.3 740.1V740.6 M344.8 740.1H346.3 M341.9 735.0V740.4 M345.6 735.0V740.1 M341.9 735.0H345.6 M342.4 735.0H343.7 M350.2 734.2H355.6 M350.2 734.2V737.5 M355.6 734.2V736.5 M347.3 740.9V744.0 M348.1 739.6V744.0 M347.3 739.2V740.9 M348.1 739.2V739.6 M347.3 739.2H348.1 M348.9 739.7V744.0 M347.7 738.1V739.2 M348.9 738.1V739.7 M347.7 738.1H348.9 M349.6 741.4V744.0 M350.5 741.4V744.0 M349.6 740.9V741.4 M350.5 740.9V741.4 M349.6 740.9H350.5 M351.7 740.3V744.0 M352.6 740.9V744.0 M351.7 739.3V740.3 M352.6 739.3V740.9 M351.7 739.3H352.6 M350.1 738.9V740.9 M352.1 738.9V739.3 M350.1 738.9H352.1 M348.3 737.5V738.1 M351.1 737.5V738.9 M348.3 737.5H351.1 M349.7 737.5H350.2 M353.6 740.2V744.0 M354.7 741.1V744.0 M355.6 742.4V744.0 M356.5 742.3V744.0 M355.6 741.6V742.4 M356.5 741.6V742.3 M355.6 741.6H356.5 M354.7 740.8V741.1 M356.0 740.8V741.6 M354.7 740.8H356.0 M353.6 739.4V740.2 M355.4 739.4V740.8 M353.6 739.4H355.4 M357.7 740.9V744.0 M359.0 739.4V744.0 M357.7 737.3V740.9 M359.0 737.3V739.4 M357.7 737.3H359.0 M354.5 736.5V739.4 M358.3 736.5V737.3 M354.5 736.5H358.3 M355.6 736.5H356.4 M363.1 702.3H410.4 M363.1 702.3V718.3 M410.4 702.3V725.3 M362.1 718.3H364.5 M362.1 718.3V739.0 M364.5 718.3V729.0 M360.1 739.7V744.0 M361.1 742.3V744.0 M361.9 742.2V744.0 M361.1 741.4V742.3 M361.9 741.4V742.2 M361.1 741.4H361.9 M362.7 741.8V744.0 M361.5 740.9V741.4 M362.7 740.9V741.8 M361.5 740.9H362.7 M360.1 739.0V739.7 M362.1 739.0V740.9 M360.1 739.0H362.1 M361.1 739.0H362.1 M364.0 741.1V744.0 M365.2 739.2V744.0 M364.0 733.9V741.1 M365.2 733.9V739.2 M364.0 733.9H365.2 M366.4 730.5V744.0 M364.6 729.0V733.9 M366.4 729.0V730.5 M364.6 729.0H366.4 M364.5 729.0H365.5 M372.2 725.3H448.6 M372.2 725.3V731.8 M448.6 725.3V733.6 M367.7 739.4V744.0 M368.8 739.8V744.0 M369.6 741.0V744.0 M368.8 739.6V739.8 M369.6 739.6V741.0 M368.8 739.6H369.6 M367.7 736.7V739.4 M369.2 736.7V739.6 M367.7 736.7H369.2 M370.5 735.8V744.0 M371.5 741.1V744.0 M372.4 740.3V744.0 M371.5 738.3V741.1 M372.4 738.3V740.3 M371.5 738.3H372.4 M370.5 734.8V735.8 M371.9 734.8V738.3 M370.5 734.8H371.9 M368.4 733.2V736.7 M371.2 733.2V734.8 M368.4 733.2H371.2 M373.4 740.6V744.0 M374.5 741.3V744.0 M375.4 740.4V744.0 M374.5 739.9V741.3 M375.4 739.9V740.4 M374.5 739.9H375.4 M373.4 739.6V740.6 M374.9 739.6V739.9 M373.4 739.6H374.9 M376.2 741.6V744.0 M377.3 740.5V744.0 M376.2 740.4V741.6 M377.3 740.4V740.5 M376.2 740.4H377.3 M374.2 738.9V739.6 M376.7 738.9V740.4 M374.2 738.9H376.7 M378.5 740.4V744.0 M379.5 741.4V744.0 M380.4 741.0V744.0 M379.5 740.8V741.4 M380.4 740.8V741.0 M379.5 740.8H380.4 M378.5 740.2V740.4 M379.9 740.2V740.8 M378.5 740.2H379.9 M375.5 735.3V738.9 M379.2 735.3V740.2 M375.5 735.3H379.2 M369.8 731.8V733.2 M377.3 731.8V735.3 M369.8 731.8H377.3 M372.2 731.8H373.6 M415.2 733.6H482.5 M415.2 733.6V735.6 M482.5 733.6V737.3 M381.3 743.5V744.0 M382.1 743.4V744.0 M381.3 743.3V743.5 M382.1 743.3V743.4 M381.3 743.3H382.1 M383.0 743.0V744.0 M381.7 742.9V743.3 M383.0 742.9V743.0 M381.7 742.9H383.0 M384.2 743.2V744.0 M382.4 742.8V742.9 M384.2 742.8V743.2 M382.4 742.8H384.2 M385.2 743.5V744.0 M385.9 743.5V744.0 M385.2 743.4V743.5 M385.9 743.4V743.5 M385.2 743.4H385.9 M386.9 743.4V744.0 M387.9 743.5V744.0 M388.7 743.4V744.0 M387.9 743.2V743.5 M388.7 743.2V743.4 M387.9 743.2H388.7 M386.9 743.1V743.4 M388.3 743.1V743.2 M386.9 743.1H388.3 M385.6 743.0V743.4 M387.6 743.0V743.1 M385.6 743.0H387.6 M389.5 743.0V744.0 M390.4 743.1V744.0 M391.3 743.2V744.0 M390.4 743.1V743.1 M391.3 743.1V743.2 M390.4 743.1H391.3 M389.5 742.9V743.0 M390.8 742.9V743.1 M389.5 742.9H390.8 M386.6 742.7V743.0 M390.2 742.7V742.9 M386.6 742.7H390.2 M383.3 742.4V742.8 M388.4 742.4V742.7 M383.3 742.4H388.4 M392.4 742.6V744.0 M393.5 742.6V744.0 M394.4 742.6V744.0 M393.5 742.3V742.6 M394.4 742.3V742.6 M393.5 742.3H394.4 M392.4 742.2V742.6 M394.0 742.2V742.3 M392.4 742.2H394.0 M395.1 743.0V744.0 M396.1 743.0V744.0 M395.1 742.9V743.0 M396.1 742.9V743.0 M395.1 742.9H396.1 M397.3 742.8V744.0 M395.6 742.4V742.9 M397.3 742.4V742.8 M395.6 742.4H397.3 M393.2 742.1V742.2 M396.4 742.1V742.4 M393.2 742.1H396.4 M385.8 741.8V742.4 M394.8 741.8V742.1 M385.8 741.8H394.8 M398.4 742.4V744.0 M399.4 742.8V744.0 M398.4 742.3V742.4 M399.4 742.3V742.8 M398.4 742.3H399.4 M400.6 742.8V744.0 M398.9 742.0V742.3 M400.6 742.0V742.8 M398.9 742.0H400.6 M401.7 743.1V744.0 M402.9 743.2V744.0 M401.7 742.7V743.1 M402.9 742.7V743.2 M401.7 742.7H402.9 M404.1 743.4V744.0 M404.9 743.2V744.0 M404.1 743.1V743.4 M404.9 743.1V743.2 M404.1 743.1H404.9 M405.7 743.0V744.0 M404.5 742.8V743.1 M405.7 742.8V743.0 M404.5 742.8H405.7 M406.7 742.8V744.0 M405.1 742.3V742.8 M406.7 742.3V742.8 M405.1 742.3H406.7 M402.3 742.1V742.7 M405.9 742.1V742.3 M402.3 742.1H405.9 M399.8 741.3V742.0 M404.1 741.3V742.1 M399.8 741.3H404.1 M390.3 741.0V741.8 M401.9 741.0V741.3 M390.3 741.0H401.9 M408.0 742.6V744.0 M409.3 742.6V744.0 M410.3 742.7V744.0 M409.3 742.4V742.6 M410.3 742.4V742.7 M409.3 742.4H410.3 M408.0 742.1V742.6 M409.8 742.1V742.4 M408.0 742.1H409.8 M411.1 742.7V744.0 M412.1 742.7V744.0 M411.1 742.6V742.7 M412.1 742.6V742.7 M411.1 742.6H412.1 M413.3 742.9V744.0 M414.3 743.0V744.0 M413.3 742.4V742.9 M414.3 742.4V743.0 M413.3 742.4H414.3 M411.6 742.2V742.6 M413.8 742.2V742.4 M411.6 742.2H413.8 M408.9 741.7V742.1 M412.7 741.7V742.2 M408.9 741.7H412.7 M414.9 742.9V744.0 M415.8 742.8V744.0 M414.9 742.4V742.9 M415.8 742.4V742.8 M414.9 742.4H415.8 M417.0 742.7V744.0 M415.3 742.3V742.4 M417.0 742.3V742.7 M415.3 742.3H417.0 M418.3 742.6V744.0 M416.2 741.9V742.3 M418.3 741.9V742.6 M416.2 741.9H418.3 M419.5 743.3V744.0 M420.4 743.2V744.0 M419.5 742.9V743.3 M420.4 742.9V743.2 M419.5 742.9H420.4 M421.1 742.8V744.0 M419.9 742.6V742.9 M421.1 742.6V742.8 M419.9 742.6H421.1 M422.2 742.7V744.0 M423.1 743.3V744.0 M424.1 743.3V744.0 M423.1 742.9V743.3 M424.1 742.9V743.3 M423.1 742.9H424.1 M425.3 743.0V744.0 M423.6 742.6V742.9 M425.3 742.6V743.0 M423.6 742.6H425.3 M422.2 742.1V742.7 M424.4 742.1V742.6 M422.2 742.1H424.4 M420.5 741.9V742.6 M423.3 741.9V742.1 M420.5 741.9H423.3 M417.2 741.8V741.9 M421.9 741.8V741.9 M417.2 741.8H421.9 M410.8 740.9V741.7 M419.6 740.9V741.8 M410.8 740.9H419.6 M426.6 743.0V744.0 M427.6 743.1V744.0 M426.6 742.9V743.0 M427.6 742.9V743.1 M426.6 742.9H427.6 M428.4 743.3V744.0 M429.2 743.3V744.0 M428.4 743.2V743.3 M429.2 743.2V743.3 M428.4 743.2H429.2 M427.1 742.9V742.9 M428.8 742.9V743.2 M427.1 742.9H428.8 M430.0 743.5V744.0 M430.9 743.6V744.0 M430.0 743.3V743.5 M430.9 743.3V743.6 M430.0 743.3H430.9 M431.8 743.2V744.0 M430.5 742.9V743.3 M431.8 742.9V743.2 M430.5 742.9H431.8 M428.0 742.3V742.9 M431.2 742.3V742.9 M428.0 742.3H431.2 M432.9 743.1V744.0 M434.1 743.2V744.0 M432.9 742.9V743.1 M434.1 742.9V743.2 M432.9 742.9H434.1 M435.0 743.4V744.0 M435.7 743.3V744.0 M435.0 743.2V743.4 M435.7 743.2V743.3 M435.0 743.2H435.7 M436.5 743.1V744.0 M435.4 742.7V743.2 M436.5 742.7V743.1 M435.4 742.7H436.5 M433.5 742.6V742.9 M435.9 742.6V742.7 M433.5 742.6H435.9 M437.4 743.5V744.0 M438.2 743.5V744.0 M437.4 743.2V743.5 M438.2 743.2V743.5 M437.4 743.2H438.2 M439.0 743.3V744.0 M440.1 743.3V744.0 M441.1 743.5V744.0 M440.1 743.3V743.3 M441.1 743.3V743.5 M440.1 743.3H441.1 M439.0 743.2V743.3 M440.6 743.2V743.3 M439.0 743.2H440.6 M437.8 742.8V743.2 M439.8 742.8V743.2 M437.8 742.8H439.8 M434.7 742.4V742.6 M438.8 742.4V742.8 M434.7 742.4H438.8 M442.1 743.3V744.0 M443.2 743.4V744.0 M443.9 743.2V744.0 M443.2 743.2V743.4 M443.9 743.2V743.2 M443.2 743.2H443.9 M442.1 743.1V743.3 M443.6 743.1V743.2 M442.1 743.1H443.6 M444.5 743.2V744.0 M445.4 743.0V744.0 M444.5 742.7V743.2 M445.4 742.7V743.0 M444.5 742.7H445.4 M442.8 742.5V743.1 M445.0 742.5V742.7 M442.8 742.5H445.0 M436.8 741.8V742.4 M443.9 741.8V742.5 M436.8 741.8H443.9 M429.6 741.6V742.3 M440.3 741.6V741.8 M429.6 741.6H440.3 M415.2 740.0V740.9 M434.9 740.0V741.6 M415.2 740.0H434.9 M396.1 735.6V741.0 M425.1 735.6V740.0 M396.1 735.6H425.1 M410.6 735.6H415.2 M446.5 742.2V744.0 M447.6 742.5V744.0 M446.5 741.7V742.2 M447.6 741.7V742.5 M446.5 741.7H447.6 M448.5 742.3V744.0 M449.5 742.7V744.0 M448.5 741.9V742.3 M449.5 741.9V742.7 M448.5 741.9H449.5 M450.6 742.0V744.0 M449.0 741.7V741.9 M450.6 741.7V742.0 M449.0 741.7H450.6 M447.0 740.4V741.7 M449.8 740.4V741.7 M447.0 740.4H449.8 M451.7 741.2V744.0 M452.8 740.9V744.0 M451.7 740.2V741.2 M452.8 740.2V740.9 M451.7 740.2H452.8 M448.4 739.5V740.4 M452.2 739.5V740.2 M448.4 739.5H452.2 M454.0 742.0V744.0 M454.9 742.9V744.0 M455.7 742.5V744.0 M454.9 742.4V742.9 M455.7 742.4V742.5 M454.9 742.4H455.7 M454.0 741.8V742.0 M455.3 741.8V742.4 M454.0 741.8H455.3 M456.9 742.2V744.0 M458.3 742.2V744.0 M456.9 741.8V742.2 M458.3 741.8V742.2 M456.9 741.8H458.3 M454.7 741.0V741.8 M457.6 741.0V741.8 M454.7 741.0H457.6 M459.6 742.3V744.0 M460.4 742.3V744.0 M459.6 742.2V742.3 M460.4 742.2V742.3 M459.6 742.2H460.4 M461.2 742.5V744.0 M462.2 743.3V744.0 M463.1 743.2V744.0 M462.2 742.8V743.3 M463.1 742.8V743.2 M462.2 742.8H463.1 M461.2 742.1V742.5 M462.6 742.1V742.8 M461.2 742.1H462.6 M460.0 741.6V742.2 M461.9 741.6V742.1 M460.0 741.6H461.9 M456.1 740.2V741.0 M461.0 740.2V741.6 M456.1 740.2H461.0 M450.3 739.3V739.5 M458.5 739.3V740.2 M450.3 739.3H458.5 M464.1 742.8V744.0 M465.1 742.9V744.0 M465.9 743.2V744.0 M465.1 742.8V742.9 M465.9 742.8V743.2 M465.1 742.8H465.9 M464.1 742.7V742.8 M465.5 742.7V742.8 M464.1 742.7H465.5 M466.9 743.2V744.0 M467.8 743.4V744.0 M468.6 743.5V744.0 M467.8 743.3V743.4 M468.6 743.3V743.5 M467.8 743.3H468.6 M466.9 743.0V743.2 M468.2 743.0V743.3 M466.9 743.0H468.2 M469.6 743.1V744.0 M470.7 743.0V744.0 M469.6 742.8V743.1 M470.7 742.8V743.0 M469.6 742.8H470.7 M467.6 742.8V743.0 M470.1 742.8V742.8 M467.6 742.8H470.1 M464.8 742.5V742.7 M468.9 742.5V742.8 M464.8 742.5H468.9 M471.5 743.0V744.0 M472.5 743.2V744.0 M471.5 742.8V743.0 M472.5 742.8V743.2 M471.5 742.8H472.5 M473.6 742.9V744.0 M474.5 742.8V744.0 M473.6 742.5V742.9 M474.5 742.5V742.8 M473.6 742.5H474.5 M475.4 743.0V744.0 M476.2 743.1V744.0 M475.4 742.6V743.0 M476.2 742.6V743.1 M475.4 742.6H476.2 M477.0 743.0V744.0 M475.8 742.5V742.6 M477.0 742.5V743.0 M475.8 742.5H477.0 M474.0 742.3V742.5 M476.4 742.3V742.5 M474.0 742.3H476.4 M472.0 742.0V742.8 M475.2 742.0V742.3 M472.0 742.0H475.2 M466.8 741.8V742.5 M473.6 741.8V742.0 M466.8 741.8H473.6 M477.8 743.2V744.0 M478.6 743.3V744.0 M477.8 742.8V743.2 M478.6 742.8V743.3 M477.8 742.8H478.6 M479.5 742.9V744.0 M478.2 742.8V742.8 M479.5 742.8V742.9 M478.2 742.8H479.5 M480.5 743.1V744.0 M481.3 743.0V744.0 M480.5 743.0V743.1 M481.3 743.0V743.0 M480.5 743.0H481.3 M478.9 742.5V742.8 M480.9 742.5V743.0 M478.9 742.5H480.9 M482.2 742.8V744.0 M483.1 743.0V744.0 M483.8 743.3V744.0 M483.1 742.9V743.0 M483.8 742.9V743.3 M483.1 742.9H483.8 M482.2 742.5V742.8 M483.4 742.5V742.9 M482.2 742.5H483.4 M479.9 742.1V742.5 M482.8 742.1V742.5 M479.9 742.1H482.8 M470.2 741.1V741.8 M481.4 741.1V742.1 M470.2 741.1H481.4 M484.7 743.2V744.0 M485.6 743.1V744.0 M486.5 743.1V744.0 M485.6 743.0V743.1 M486.5 743.0V743.1 M485.6 743.0H486.5 M484.7 742.8V743.2 M486.1 742.8V743.0 M484.7 742.8H486.1 M487.8 742.7V744.0 M489.0 742.8V744.0 M487.8 742.5V742.7 M489.0 742.5V742.8 M487.8 742.5H489.0 M485.4 742.0V742.8 M488.4 742.0V742.5 M485.4 742.0H488.4 M489.9 743.1V744.0 M490.6 743.1V744.0 M489.9 742.6V743.1 M490.6 742.6V743.1 M489.9 742.6H490.6 M491.5 743.0V744.0 M492.4 743.0V744.0 M491.5 742.8V743.0 M492.4 742.8V743.0 M491.5 742.8H492.4 M490.2 742.5V742.6 M491.9 742.5V742.8 M490.2 742.5H491.9 M493.0 743.0V744.0 M493.8 743.2V744.0 M493.0 742.7V743.0 M493.8 742.7V743.2 M493.0 742.7H493.8 M491.1 742.1V742.5 M493.4 742.1V742.7 M491.1 742.1H493.4 M486.9 741.5V742.0 M492.2 741.5V742.1 M486.9 741.5H492.2 M494.7 742.4V744.0 M495.7 742.8V744.0 M494.7 742.0V742.4 M495.7 742.0V742.8 M494.7 742.0H495.7 M496.8 742.7V744.0 M497.7 743.0V744.0 M498.5 743.0V744.0 M497.7 742.6V743.0 M498.5 742.6V743.0 M497.7 742.6H498.5 M496.8 742.6V742.7 M498.1 742.6V742.6 M496.8 742.6H498.1 M495.2 741.7V742.0 M497.5 741.7V742.6 M495.2 741.7H497.5 M489.6 740.6V741.5 M496.3 740.6V741.7 M489.6 740.6H496.3 M475.8 740.0V741.1 M493.0 740.0V740.6 M475.8 740.0H493.0 M454.4 738.6V739.3 M484.4 738.6V740.0 M454.4 738.6H484.4 M499.5 742.6V744.0 M500.3 743.1V744.0 M501.0 743.2V744.0 M500.3 742.9V743.1 M501.0 742.9V743.2 M500.3 742.9H501.0 M499.5 742.4V742.6 M500.7 742.4V742.9 M499.5 742.4H500.7 M501.7 742.9V744.0 M502.6 742.9V744.0 M501.7 742.7V742.9 M502.6 742.7V742.9 M501.7 742.7H502.6 M500.1 742.1V742.4 M502.2 742.1V742.7 M500.1 742.1H502.2 M503.6 742.2V744.0 M504.4 742.9V744.0 M505.2 742.8V744.0 M504.4 742.3V742.9 M505.2 742.3V742.8 M504.4 742.3H505.2 M503.6 742.1V742.2 M504.8 742.1V742.3 M503.6 742.1H504.8 M505.9 743.2V744.0 M506.8 743.3V744.0 M505.9 743.0V743.2 M506.8 743.0V743.3 M505.9 743.0H506.8 M507.8 742.9V744.0 M508.6 743.4V744.0 M509.3 743.5V744.0 M510.0 743.7V744.0 M509.3 743.5V743.5 M510.0 743.5V743.7 M509.3 743.5H510.0 M508.6 743.3V743.4 M509.6 743.3V743.5 M508.6 743.3H509.6 M507.8 742.8V742.9 M509.1 742.8V743.3 M507.8 742.8H509.1 M506.4 742.4V743.0 M508.5 742.4V742.8 M506.4 742.4H508.5 M504.2 741.5V742.1 M507.4 741.5V742.4 M504.2 741.5H507.4 M501.1 741.1V742.1 M505.8 741.1V741.5 M501.1 741.1H505.8 M511.0 742.6V744.0 M512.0 743.1V744.0 M512.8 743.1V744.0 M512.0 742.9V743.1 M512.8 742.9V743.1 M512.0 742.9H512.8 M513.3 743.0V744.0 M512.4 742.7V742.9 M513.3 742.7V743.0 M512.4 742.7H513.3 M511.0 742.1V742.6 M512.9 742.1V742.7 M511.0 742.1H512.9 M514.2 742.9V744.0 M515.3 742.9V744.0 M516.4 742.8V744.0 M515.3 742.5V742.9 M516.4 742.5V742.8 M515.3 742.5H516.4 M514.2 742.2V742.9 M515.9 742.2V742.5 M514.2 742.2H515.9 M511.9 741.6V742.1 M515.0 741.6V742.2 M511.9 741.6H515.0 M517.5 741.9V744.0 M518.5 742.7V744.0 M519.3 742.6V744.0 M518.5 742.3V742.7 M519.3 742.3V742.6 M518.5 742.3H519.3 M520.2 742.7V744.0 M518.9 742.1V742.3 M520.2 742.1V742.7 M518.9 742.1H520.2 M517.5 741.6V741.9 M519.5 741.6V742.1 M517.5 741.6H519.5 M513.5 741.4V741.6 M518.5 741.4V741.6 M513.5 741.4H518.5 M503.5 740.9V741.1 M516.0 740.9V741.4 M503.5 740.9H516.0 M521.1 743.2V744.0 M522.1 743.4V744.0 M523.0 743.3V744.0 M522.1 743.2V743.4 M523.0 743.2V743.3 M522.1 743.2H523.0 M521.1 742.9V743.2 M522.5 742.9V743.2 M521.1 742.9H522.5 M523.7 743.3V744.0 M524.7 743.4V744.0 M523.7 743.2V743.3 M524.7 743.2V743.4 M523.7 743.2H524.7 M526.0 743.2V744.0 M524.2 743.1V743.2 M526.0 743.1V743.2 M524.2 743.1H526.0 M527.2 743.5V744.0 M528.1 743.4V744.0 M527.2 743.2V743.5 M528.1 743.2V743.4 M527.2 743.2H528.1 M525.1 742.9V743.1 M527.6 742.9V743.2 M525.1 742.9H527.6 M521.8 742.6V742.9 M526.4 742.6V742.9 M521.8 742.6H526.4 M529.1 743.2V744.0 M530.3 743.3V744.0 M529.1 743.1V743.2 M530.3 743.1V743.3 M529.1 743.1H530.3 M531.3 743.2V744.0 M532.2 743.1V744.0 M531.3 742.8V743.2 M532.2 742.8V743.1 M531.3 742.8H532.2 M529.7 742.6V743.1 M531.8 742.6V742.8 M529.7 742.6H531.8 M524.1 742.1V742.6 M530.7 742.1V742.6 M524.1 742.1H530.7 M533.0 743.1V744.0 M533.9 743.0V744.0 M533.0 742.6V743.1 M533.9 742.6V743.0 M533.0 742.6H533.9 M534.7 742.2V744.0 M535.4 742.8V744.0 M534.7 742.1V742.2 M535.4 742.1V742.8 M534.7 742.1H535.4 M533.5 741.9V742.6 M535.0 741.9V742.1 M533.5 741.9H535.0 M536.2 742.2V744.0 M537.3 742.2V744.0 M536.2 742.1V742.2 M537.3 742.1V742.2 M536.2 742.1H537.3 M534.2 741.8V741.9 M536.7 741.8V742.1 M534.2 741.8H536.7 M538.3 743.0V744.0 M539.1 743.0V744.0 M538.3 742.4V743.0 M539.1 742.4V743.0 M538.3 742.4H539.1 M540.0 743.0V744.0 M541.1 742.5V744.0 M540.0 742.3V743.0 M541.1 742.3V742.5 M540.0 742.3H541.1 M538.7 741.9V742.4 M540.6 741.9V742.3 M538.7 741.9H540.6 M535.5 741.6V741.8 M539.6 741.6V741.9 M535.5 741.6H539.6 M527.4 740.9V742.1 M537.6 740.9V741.6 M527.4 740.9H537.6 M509.7 740.0V740.9 M532.5 740.0V740.9 M509.7 740.0H532.5 M469.4 737.3V738.6 M521.1 737.3V740.0 M469.4 737.3H521.1 M482.5 737.3H495.3 M545.2 684.4H614.5 M545.2 684.4V732.6 M614.5 684.4V709.5 M541.9 741.1V744.0 M542.8 739.7V744.0 M541.9 739.3V741.1 M542.8 739.3V739.7 M541.9 739.3H542.8 M543.4 742.0V744.0 M544.2 741.4V744.0 M543.4 741.2V742.0 M544.2 741.2V741.4 M543.4 741.2H544.2 M545.0 740.0V744.0 M543.8 739.7V741.2 M545.0 739.7V740.0 M543.8 739.7H545.0 M546.0 739.4V744.0 M544.4 736.4V739.7 M546.0 736.4V739.4 M544.4 736.4H546.0 M542.4 735.3V739.3 M545.2 735.3V736.4 M542.4 735.3H545.2 M547.3 739.0V744.0 M548.4 740.5V744.0 M549.4 740.5V744.0 M550.2 740.5V744.0 M549.4 740.4V740.5 M550.2 740.4V740.5 M549.4 740.4H550.2 M548.4 739.4V740.5 M549.8 739.4V740.4 M548.4 739.4H549.8 M547.3 738.3V739.0 M549.1 738.3V739.4 M547.3 738.3H549.1 M543.8 732.6V735.3 M548.2 732.6V738.3 M543.8 732.6H548.2 M545.2 732.6H546.0 M557.4 709.5H672.2 M557.4 709.5V733.4 M672.2 709.5V721.0 M551.1 741.0V744.0 M552.1 741.6V744.0 M551.1 740.4V741.0 M552.1 740.4V741.6 M551.1 740.4H552.1 M553.0 742.6V744.0 M554.0 741.8V744.0 M553.0 741.6V742.6 M554.0 741.6V741.8 M553.0 741.6H554.0 M554.7 742.5V744.0 M555.5 742.7V744.0 M554.7 741.9V742.5 M555.5 741.9V742.7 M554.7 741.9H555.5 M553.5 740.8V741.6 M555.1 740.8V741.9 M553.5 740.8H555.1 M551.6 739.8V740.4 M554.3 739.8V740.8 M551.6 739.8H554.3 M556.5 741.6V744.0 M557.6 741.6V744.0 M556.5 740.5V741.6 M557.6 740.5V741.6 M556.5 740.5H557.6 M558.5 742.9V744.0 M559.2 742.6V744.0 M558.5 742.2V742.9 M559.2 742.2V742.6 M558.5 742.2H559.2 M559.9 741.2V744.0 M558.9 741.1V742.2 M559.9 741.1V741.2 M558.9 741.1H559.9 M557.0 739.4V740.5 M559.4 739.4V741.1 M557.0 739.4H559.4 M560.6 740.9V744.0 M561.5 741.2V744.0 M560.6 739.8V740.9 M561.5 739.8V741.2 M560.6 739.8H561.5 M562.6 741.9V744.0 M563.6 741.4V744.0 M562.6 741.2V741.9 M563.6 741.2V741.4 M562.6 741.2H563.6 M564.8 742.3V744.0 M565.7 742.0V744.0 M564.8 741.3V742.3 M565.7 741.3V742.0 M564.8 741.3H565.7 M563.1 740.3V741.2 M565.2 740.3V741.3 M563.1 740.3H565.2 M561.0 739.6V739.8 M564.2 739.6V740.3 M561.0 739.6H564.2 M558.2 738.2V739.4 M562.6 738.2V739.6 M558.2 738.2H562.6 M552.9 733.4V739.8 M560.4 733.4V738.2 M552.9 733.4H560.4 M556.7 733.4H557.4 M590.8 721.0H752.8 M590.8 721.0V729.4 M752.8 721.0V730.2 M576.8 729.4H605.1 M576.8 729.4V736.4 M605.1 729.4V734.4 M566.6 742.4V744.0 M567.8 742.8V744.0 M569.0 742.9V744.0 M567.8 742.4V742.8 M569.0 742.4V742.9 M567.8 742.4H569.0 M566.6 741.9V742.4 M568.4 741.9V742.4 M566.6 741.9H568.4 M569.9 742.9V744.0 M570.7 742.4V744.0 M569.9 742.2V742.9 M570.7 742.2V742.4 M569.9 742.2H570.7 M571.9 742.3V744.0 M570.3 741.9V742.2 M571.9 741.9V742.3 M570.3 741.9H571.9 M567.5 740.7V741.9 M571.1 740.7V741.9 M567.5 740.7H571.1 M573.1 742.0V744.0 M574.2 741.8V744.0 M573.1 741.5V742.0 M574.2 741.5V741.8 M573.1 741.5H574.2 M575.4 742.1V744.0 M573.7 741.4V741.5 M575.4 741.4V742.1 M573.7 741.4H575.4 M569.3 740.3V740.7 M574.5 740.3V741.4 M569.3 740.3H574.5 M576.7 742.9V744.0 M577.8 742.6V744.0 M576.7 742.5V742.9 M577.8 742.5V742.6 M576.7 742.5H577.8 M578.6 743.1V744.0 M579.4 743.0V744.0 M578.6 742.6V743.1 M579.4 742.6V743.0 M578.6 742.6H579.4 M580.2 742.6V744.0 M579.0 742.3V742.6 M580.2 742.3V742.6 M579.0 742.3H580.2 M577.2 741.6V742.5 M579.6 741.6V742.3 M577.2 741.6H579.6 M581.0 743.5V744.0 M581.7 743.2V744.0 M581.0 743.2V743.5 M581.7 743.2V743.2 M581.0 743.2H581.7 M582.5 743.3V744.0 M583.3 743.3V744.0 M582.5 743.2V743.3 M583.3 743.2V743.3 M582.5 743.2H583.3 M581.4 743.1V743.2 M582.9 743.1V743.2 M581.4 743.1H582.9 M583.9 743.2V744.0 M584.7 743.0V744.0 M583.9 743.0V743.2 M584.7 743.0V743.0 M583.9 743.0H584.7 M582.1 742.7V743.1 M584.3 742.7V743.0 M582.1 742.7H584.3 M585.9 743.0V744.0 M586.9 743.1V744.0 M585.9 742.8V743.0 M586.9 742.8V743.1 M585.9 742.8H586.9 M588.0 743.0V744.0 M588.9 743.4V744.0 M589.6 743.2V744.0 M588.9 743.1V743.4 M589.6 743.1V743.2 M588.9 743.1H589.6 M588.0 742.7V743.0 M589.2 742.7V743.1 M588.0 742.7H589.2 M586.4 742.2V742.8 M588.6 742.2V742.7 M586.4 742.2H588.6 M583.2 741.9V742.7 M587.5 741.9V742.2 M583.2 741.9H587.5 M578.4 740.8V741.6 M585.4 740.8V741.9 M578.4 740.8H585.4 M571.9 736.4V740.3 M581.9 736.4V740.8 M571.9 736.4H581.9 M598.0 734.4H612.4 M598.0 734.4V737.5 M612.4 734.4V737.2 M590.5 742.4V744.0 M591.4 742.3V744.0 M590.5 741.9V742.4 M591.4 741.9V742.3 M590.5 741.9H591.4 M592.3 742.5V744.0 M590.9 741.6V741.9 M592.3 741.6V742.5 M590.9 741.6H592.3 M593.2 741.6V744.0 M591.6 740.7V741.6 M593.2 740.7V741.6 M591.6 740.7H593.2 M594.2 742.4V744.0 M594.8 742.3V744.0 M595.6 742.6V744.0 M594.8 742.1V742.3 M595.6 742.1V742.6 M594.8 742.1H595.6 M594.2 741.6V742.4 M595.2 741.6V742.1 M594.2 741.6H595.2 M596.6 741.3V744.0 M594.7 740.2V741.6 M596.6 740.2V741.3 M594.7 740.2H596.6 M592.4 738.3V740.7 M595.6 738.3V740.2 M592.4 738.3H595.6 M597.5 741.5V744.0 M598.3 741.4V744.0 M597.5 740.0V741.5 M598.3 740.0V741.4 M597.5 740.0H598.3 M599.1 742.1V744.0 M599.9 742.0V744.0 M599.1 741.3V742.1 M599.9 741.3V742.0 M599.1 741.3H599.9 M600.7 742.6V744.0 M601.5 742.4V744.0 M600.7 741.8V742.6 M601.5 741.8V742.4 M600.7 741.8H601.5 M599.5 740.9V741.3 M601.1 740.9V741.8 M599.5 740.9H601.1 M597.9 739.4V740.0 M600.3 739.4V740.9 M597.9 739.4H600.3 M594.0 737.5V738.3 M599.1 737.5V739.4 M594.0 737.5H599.1 M596.6 737.5H598.0 M602.3 742.8V744.0 M603.1 742.9V744.0 M602.3 742.7V742.8 M603.1 742.7V742.9 M602.3 742.7H603.1 M604.0 743.0V744.0 M605.1 743.1V744.0 M604.0 742.7V743.0 M605.1 742.7V743.1 M604.0 742.7H605.1 M602.7 742.2V742.7 M604.6 742.2V742.7 M602.7 742.2H604.6 M606.0 742.9V744.0 M606.8 743.3V744.0 M607.6 743.2V744.0 M606.8 743.0V743.3 M607.6 743.0V743.2 M606.8 743.0H607.6 M606.0 742.7V742.9 M607.2 742.7V743.0 M606.0 742.7H607.2 M603.6 742.0V742.2 M606.6 742.0V742.7 M603.6 742.0H606.6 M608.5 742.5V744.0 M609.5 742.6V744.0 M608.5 742.2V742.5 M609.5 742.2V742.6 M608.5 742.2H609.5 M610.4 742.4V744.0 M611.3 742.3V744.0 M610.4 742.2V742.4 M611.3 742.2V742.3 M610.4 742.2H611.3 M609.0 741.3V742.2 M610.9 741.3V742.2 M609.0 741.3H610.9 M605.1 740.9V742.0 M609.9 740.9V741.3 M605.1 740.9H609.9 M612.5 741.7V744.0 M613.5 741.6V744.0 M612.5 741.2V741.7 M613.5 741.2V741.6 M612.5 741.2H613.5 M614.5 742.2V744.0 M615.7 742.3V744.0 M614.5 741.9V742.2 M615.7 741.9V742.3 M614.5 741.9H615.7 M616.7 742.1V744.0 M617.7 742.5V744.0 M616.7 742.0V742.1 M617.7 742.0V742.5 M616.7 742.0H617.7 M615.1 741.5V741.9 M617.2 741.5V742.0 M615.1 741.5H617.2 M613.0 740.9V741.2 M616.2 740.9V741.5 M613.0 740.9H616.2 M607.5 740.7V740.9 M614.6 740.7V740.9 M607.5 740.7H614.6 M618.7 743.2V744.0 M619.6 742.9V744.0 M618.7 742.9V743.2 M619.6 742.9V742.9 M618.7 742.9H619.6 M620.5 743.3V744.0 M621.2 743.5V744.0 M620.5 743.1V743.3 M621.2 743.1V743.5 M620.5 743.1H621.2 M619.1 742.7V742.9 M620.9 742.7V743.1 M619.1 742.7H620.9 M621.9 743.1V744.0 M622.7 743.3V744.0 M623.4 743.2V744.0 M622.7 743.2V743.3 M623.4 743.2V743.2 M622.7 743.2H623.4 M621.9 742.8V743.1 M623.1 742.8V743.2 M621.9 742.8H623.1 M624.3 743.4V744.0 M625.0 743.3V744.0 M624.3 743.2V743.4 M625.0 743.2V743.3 M624.3 743.2H625.0 M625.9 743.4V744.0 M626.9 743.4V744.0 M625.9 743.4V743.4 M626.9 743.4V743.4 M625.9 743.4H626.9 M624.6 743.1V743.2 M626.4 743.1V743.4 M624.6 743.1H626.4 M622.5 742.7V742.8 M625.5 742.7V743.1 M622.5 742.7H625.5 M620.0 742.6V742.7 M624.0 742.6V742.7 M620.0 742.6H624.0 M627.8 743.1V744.0 M628.6 743.3V744.0 M627.8 743.0V743.1 M628.6 743.0V743.3 M627.8 743.0H628.6 M629.5 743.0V744.0 M628.2 742.5V743.0 M629.5 742.5V743.0 M628.2 742.5H629.5 M630.4 742.9V744.0 M631.2 742.6V744.0 M630.4 742.6V742.9 M631.2 742.6V742.6 M630.4 742.6H631.2 M632.1 743.0V744.0 M633.1 742.8V744.0 M632.1 742.6V743.0 M633.1 742.6V742.8 M632.1 742.6H633.1 M630.8 742.3V742.6 M632.6 742.3V742.6 M630.8 742.3H632.6 M628.8 742.3V742.5 M631.7 742.3V742.3 M628.8 742.3H631.7 M622.0 742.0V742.6 M630.3 742.0V742.3 M622.0 742.0H630.3 M634.4 742.2V744.0 M635.5 742.8V744.0 M636.7 742.6V744.0 M635.5 742.5V742.8 M636.7 742.5V742.6 M635.5 742.5H636.7 M634.4 742.0V742.2 M636.1 742.0V742.5 M634.4 742.0H636.1 M637.7 743.0V744.0 M638.4 742.9V744.0 M637.7 742.6V743.0 M638.4 742.6V742.9 M637.7 742.6H638.4 M639.4 743.3V744.0 M640.5 743.3V744.0 M639.4 742.9V743.3 M640.5 742.9V743.3 M639.4 742.9H640.5 M641.4 742.9V744.0 M639.9 742.4V742.9 M641.4 742.4V742.9 M639.9 742.4H641.4 M638.0 742.1V742.6 M640.7 742.1V742.4 M638.0 742.1H640.7 M635.3 741.5V742.0 M639.4 741.5V742.1 M635.3 741.5H639.4 M626.1 741.2V742.0 M637.3 741.2V741.5 M626.1 741.2H637.3 M611.1 739.7V740.7 M631.7 739.7V741.2 M611.1 739.7H631.7 M642.5 742.6V744.0 M643.5 742.4V744.0 M642.5 742.0V742.6 M643.5 742.0V742.4 M642.5 742.0H643.5 M644.5 742.3V744.0 M643.0 741.3V742.0 M644.5 741.3V742.3 M643.0 741.3H644.5 M645.5 742.9V744.0 M646.5 742.9V744.0 M647.4 742.8V744.0 M646.5 742.8V742.9 M647.4 742.8V742.8 M646.5 742.8H647.4 M645.5 742.5V742.9 M646.9 742.5V742.8 M645.5 742.5H646.9 M648.2 743.0V744.0 M649.0 742.8V744.0 M648.2 742.6V743.0 M649.0 742.6V742.8 M648.2 742.6H649.0 M650.1 742.8V744.0 M648.6 742.2V742.6 M650.1 742.2V742.8 M648.6 742.2H650.1 M646.2 741.5V742.5 M649.4 741.5V742.2 M646.2 741.5H649.4 M643.8 740.8V741.3 M647.8 740.8V741.5 M643.8 740.8H647.8 M651.3 742.7V744.0 M652.3 743.0V744.0 M653.2 743.1V744.0 M654.0 742.8V744.0 M653.2 742.8V743.1 M654.0 742.8V742.8 M653.2 742.8H654.0 M652.3 742.7V743.0 M653.6 742.7V742.8 M652.3 742.7H653.6 M651.3 742.4V742.7 M652.9 742.4V742.7 M651.3 742.4H652.9 M654.7 742.1V744.0 M655.8 742.5V744.0 M654.7 741.9V742.1 M655.8 741.9V742.5 M654.7 741.9H655.8 M652.1 741.6V742.4 M655.3 741.6V741.9 M652.1 741.6H655.3 M656.8 742.8V744.0 M657.5 743.0V744.0 M656.8 742.6V742.8 M657.5 742.6V743.0 M656.8 742.6H657.5 M658.6 742.8V744.0 M657.1 742.0V742.6 M658.6 742.0V742.8 M657.1 742.0H658.6 M659.7 742.5V744.0 M660.8 742.7V744.0 M661.6 742.7V744.0 M660.8 742.1V742.7 M661.6 742.1V742.7 M660.8 742.1H661.6 M659.7 741.9V742.5 M661.2 741.9V742.1 M659.7 741.9H661.2 M662.3 742.7V744.0 M663.3 742.5V744.0 M662.3 742.2V742.7 M663.3 742.2V742.5 M662.3 742.2H663.3 M660.4 741.6V741.9 M662.8 741.6V742.2 M660.4 741.6H662.8 M657.9 741.1V742.0 M661.6 741.1V741.6 M657.9 741.1H661.6 M653.7 740.2V741.6 M659.7 740.2V741.1 M653.7 740.2H659.7 M645.8 739.2V740.8 M656.7 739.2V740.2 M645.8 739.2H656.7 M621.4 737.2V739.7 M651.2 737.2V739.2 M621.4 737.2H651.2 M612.4 737.2H636.3 M698.7 730.2H807.1 M698.7 730.2V735.4 M807.1 730.2V731.1 M664.5 741.7V744.0 M665.3 742.6V744.0 M666.1 742.6V744.0 M665.3 742.3V742.6 M666.1 742.3V742.6 M665.3 742.3H666.1 M664.5 741.5V741.7 M665.7 741.5V742.3 M664.5 741.5H665.7 M667.2 741.9V744.0 M668.3 742.5V744.0 M669.0 742.3V744.0 M668.3 742.0V742.5 M669.0 742.0V742.3 M668.3 742.0H669.0 M667.2 741.3V741.9 M668.6 741.3V742.0 M667.2 741.3H668.6 M665.1 740.5V741.5 M667.9 740.5V741.3 M665.1 740.5H667.9 M670.0 740.3V744.0 M671.3 741.0V744.0 M670.0 740.2V740.3 M671.3 740.2V741.0 M670.0 740.2H671.3 M666.5 739.3V740.5 M670.6 739.3V740.2 M666.5 739.3H670.6 M672.3 742.3V744.0 M673.2 742.5V744.0 M672.3 742.0V742.3 M673.2 742.0V742.5 M672.3 742.0H673.2 M674.1 742.7V744.0 M674.8 742.6V744.0 M674.1 741.9V742.7 M674.8 741.9V742.6 M674.1 741.9H674.8 M675.6 741.5V744.0 M674.5 741.3V741.9 M675.6 741.3V741.5 M674.5 741.3H675.6 M672.8 741.0V742.0 M675.0 741.0V741.3 M672.8 741.0H675.0 M676.4 742.8V744.0 M677.1 742.9V744.0 M676.4 742.2V742.8 M677.1 742.2V742.9 M676.4 742.2H677.1 M678.0 742.5V744.0 M676.8 741.8V742.2 M678.0 741.8V742.5 M676.8 741.8H678.0 M679.0 742.1V744.0 M677.4 740.9V741.8 M679.0 740.9V742.1 M677.4 740.9H679.0 M673.9 740.7V741.0 M678.2 740.7V740.9 M673.9 740.7H678.2 M668.6 738.7V739.3 M676.0 738.7V740.7 M668.6 738.7H676.0 M679.8 743.2V744.0 M680.5 743.0V744.0 M679.8 742.9V743.2 M680.5 742.9V743.0 M679.8 742.9H680.5 M681.3 742.8V744.0 M680.2 742.7V742.9 M681.3 742.7V742.8 M680.2 742.7H681.3 M682.2 743.2V744.0 M683.2 743.3V744.0 M682.2 742.9V743.2 M683.2 742.9V743.3 M682.2 742.9H683.2 M684.2 743.1V744.0 M685.0 743.0V744.0 M684.2 742.6V743.1 M685.0 742.6V743.0 M684.2 742.6H685.0 M682.7 742.4V742.9 M684.6 742.4V742.6 M682.7 742.4H684.6 M680.8 741.9V742.7 M683.6 741.9V742.4 M680.8 741.9H683.6 M685.9 742.6V744.0 M686.9 742.8V744.0 M685.9 742.6V742.6 M686.9 742.6V742.8 M685.9 742.6H686.9 M687.7 743.4V744.0 M688.4 743.2V744.0 M687.7 743.0V743.4 M688.4 743.0V743.2 M687.7 743.0H688.4 M689.4 743.5V744.0 M690.7 743.5V744.0 M689.4 743.3V743.5 M690.7 743.3V743.5 M689.4 743.3H690.7 M688.1 742.8V743.0 M690.1 742.8V743.3 M688.1 742.8H690.1 M686.4 742.4V742.6 M689.1 742.4V742.8 M686.4 742.4H689.1 M691.8 743.3V744.0 M692.6 743.4V744.0 M691.8 743.1V743.3 M692.6 743.1V743.4 M691.8 743.1H692.6 M693.7 743.0V744.0 M692.2 742.6V743.1 M693.7 742.6V743.0 M692.2 742.6H693.7 M687.7 742.1V742.4 M693.0 742.1V742.6 M687.7 742.1H693.0 M682.2 740.9V741.9 M690.3 740.9V742.1 M682.2 740.9H690.3 M672.3 737.5V738.7 M686.3 737.5V740.9 M672.3 737.5H686.3 M694.6 743.0V744.0 M695.4 743.0V744.0 M694.6 742.9V743.0 M695.4 742.9V743.0 M694.6 742.9H695.4 M696.3 743.3V744.0 M697.2 743.3V744.0 M696.3 743.1V743.3 M697.2 743.1V743.3 M696.3 743.1H697.2 M698.3 743.2V744.0 M699.0 743.2V744.0 M698.3 743.1V743.2 M699.0 743.1V743.2 M698.3 743.1H699.0 M696.8 743.1V743.1 M698.6 743.1V743.1 M696.8 743.1H698.6 M695.0 742.6V742.9 M697.7 742.6V743.1 M695.0 742.6H697.7 M699.6 743.3V744.0 M700.3 743.3V744.0 M699.6 743.2V743.3 M700.3 743.2V743.3 M699.6 743.2H700.3 M701.2 743.4V744.0 M699.9 743.1V743.2 M701.2 743.1V743.4 M699.9 743.1H701.2 M702.0 743.4V744.0 M702.7 743.3V744.0 M702.0 743.1V743.4 M702.7 743.1V743.3 M702.0 743.1H702.7 M703.7 743.1V744.0 M702.4 743.1V743.1 M703.7 743.1V743.1 M702.4 743.1H703.7 M700.5 742.6V743.1 M703.0 742.6V743.1 M700.5 742.6H703.0 M696.4 741.9V742.6 M701.8 741.9V742.6 M696.4 741.9H701.8 M704.6 743.3V744.0 M705.6 743.2V744.0 M704.6 743.2V743.3 M705.6 743.2V743.2 M704.6 743.2H705.6 M706.5 743.2V744.0 M707.3 743.3V744.0 M706.5 743.0V743.2 M707.3 743.0V743.3 M706.5 743.0H707.3 M705.1 742.6V743.2 M706.9 742.6V743.0 M705.1 742.6H706.9 M708.2 743.4V744.0 M709.0 743.2V744.0 M708.2 743.0V743.4 M709.0 743.0V743.2 M708.2 743.0H709.0 M706.0 742.5V742.6 M708.6 742.5V743.0 M706.0 742.5H708.6 M709.8 743.5V744.0 M710.6 743.4V744.0 M709.8 743.2V743.5 M710.6 743.2V743.4 M709.8 743.2H710.6 M711.3 743.1V744.0 M710.2 742.7V743.2 M711.3 742.7V743.1 M710.2 742.7H711.3 M712.3 743.1V744.0 M710.7 742.5V742.7 M712.3 742.5V743.1 M710.7 742.5H712.3 M713.5 743.0V744.0 M714.5 743.0V744.0 M713.5 742.7V743.0 M714.5 742.7V743.0 M713.5 742.7H714.5 M711.5 742.3V742.5 M714.0 742.3V742.7 M711.5 742.3H714.0 M707.3 742.1V742.5 M712.8 742.1V742.3 M707.3 742.1H712.8 M699.1 741.1V741.9 M710.0 741.1V742.1 M699.1 741.1H710.0 M715.2 742.5V744.0 M716.0 742.5V744.0 M715.2 742.2V742.5 M716.0 742.2V742.5 M715.2 742.2H716.0 M717.1 741.8V744.0 M715.6 741.4V742.2 M717.1 741.4V741.8 M715.6 741.4H717.1 M718.3 741.7V744.0 M716.3 741.0V741.4 M718.3 741.0V741.7 M716.3 741.0H718.3 M719.7 742.2V744.0 M720.6 743.1V744.0 M721.3 742.7V744.0 M720.6 742.6V743.1 M721.3 742.6V742.7 M720.6 742.6H721.3 M722.1 743.0V744.0 M721.0 742.6V742.6 M722.1 742.6V743.0 M721.0 742.6H722.1 M719.7 742.0V742.2 M721.6 742.0V742.6 M719.7 742.0H721.6 M723.0 743.1V744.0 M724.1 742.8V744.0 M723.0 742.7V743.1 M724.1 742.7V742.8 M723.0 742.7H724.1 M725.2 742.8V744.0 M726.1 742.3V744.0 M725.2 742.2V742.8 M726.1 742.2V742.3 M725.2 742.2H726.1 M723.5 742.1V742.7 M725.6 742.1V742.2 M723.5 742.1H725.6 M720.6 741.8V742.0 M724.6 741.8V742.1 M720.6 741.8H724.6 M717.3 740.9V741.0 M722.6 740.9V741.8 M717.3 740.9H722.6 M726.8 743.4V744.0 M727.7 743.4V744.0 M726.8 743.2V743.4 M727.7 743.2V743.4 M726.8 743.2H727.7 M728.7 743.2V744.0 M727.3 742.8V743.2 M728.7 742.8V743.2 M727.3 742.8H728.7 M729.6 743.3V744.0 M730.3 743.5V744.0 M729.6 743.1V743.3 M730.3 743.1V743.5 M729.6 743.1H730.3 M730.9 743.2V744.0 M729.9 743.1V743.1 M730.9 743.1V743.2 M729.9 743.1H730.9 M728.0 742.6V742.8 M730.4 742.6V743.1 M728.0 742.6H730.4 M731.9 743.1V744.0 M733.0 743.1V744.0 M731.9 742.9V743.1 M733.0 742.9V743.1 M731.9 742.9H733.0 M729.2 742.4V742.6 M732.4 742.4V742.9 M729.2 742.4H732.4 M734.1 743.5V744.0 M735.1 743.4V744.0 M734.1 743.2V743.5 M735.1 743.2V743.4 M734.1 743.2H735.1 M736.0 743.0V744.0 M734.6 742.7V743.2 M736.0 742.7V743.0 M734.6 742.7H736.0 M737.0 742.9V744.0 M737.8 742.5V744.0 M737.0 742.5V742.9 M737.8 742.5V742.5 M737.0 742.5H737.8 M738.7 742.7V744.0 M737.4 742.3V742.5 M738.7 742.3V742.7 M737.4 742.3H738.7 M735.3 741.9V742.7 M738.1 741.9V742.3 M735.3 741.9H738.1 M730.8 741.5V742.4 M736.7 741.5V741.9 M730.8 741.5H736.7 M740.0 742.8V744.0 M741.1 742.8V744.0 M740.0 742.7V742.8 M741.1 742.7V742.8 M740.0 742.7H741.1 M742.1 742.6V744.0 M740.5 742.4V742.7 M742.1 742.4V742.6 M740.5 742.4H742.1 M743.4 742.3V744.0 M744.5 742.6V744.0 M743.4 742.1V742.3 M744.5 742.1V742.6 M743.4 742.1H744.5 M741.3 741.8V742.4 M743.9 741.8V742.1 M741.3 741.8H743.9 M733.7 741.3V741.5 M742.6 741.3V741.8 M733.7 741.3H742.6 M720.0 740.6V740.9 M738.2 740.6V741.3 M720.0 740.6H738.2 M704.5 739.9V741.1 M729.1 739.9V740.6 M704.5 739.9H729.1 M679.3 735.4V737.5 M716.8 735.4V739.9 M679.3 735.4H716.8 M698.0 735.4H698.7 M786.2 731.1H828.0 M786.2 731.1V737.4 M828.0 731.1V734.9 M745.5 742.9V744.0 M746.4 742.7V744.0 M745.5 742.4V742.9 M746.4 742.4V742.7 M745.5 742.4H746.4 M747.4 742.6V744.0 M748.2 743.0V744.0 M747.4 742.3V742.6 M748.2 742.3V743.0 M747.4 742.3H748.2 M746.0 742.2V742.4 M747.8 742.2V742.3 M746.0 742.2H747.8 M749.1 742.7V744.0 M750.2 743.2V744.0 M750.9 743.1V744.0 M750.2 742.9V743.2 M750.9 742.9V743.1 M750.2 742.9H750.9 M749.1 742.3V742.7 M750.5 742.3V742.9 M749.1 742.3H750.5 M746.9 741.6V742.2 M749.8 741.6V742.3 M746.9 741.6H749.8 M751.6 742.8V744.0 M752.5 742.8V744.0 M753.4 742.8V744.0 M752.5 742.7V742.8 M753.4 742.7V742.8 M752.5 742.7H753.4 M751.6 742.2V742.8 M752.9 742.2V742.7 M751.6 742.2H752.9 M754.2 743.2V744.0 M755.2 742.9V744.0 M754.2 742.8V743.2 M755.2 742.8V742.9 M754.2 742.8H755.2 M752.2 742.0V742.2 M754.7 742.0V742.8 M752.2 742.0H754.7 M756.0 743.3V744.0 M756.8 743.3V744.0 M756.0 743.0V743.3 M756.8 743.0V743.3 M756.0 743.0H756.8 M757.9 743.3V744.0 M758.9 743.4V744.0 M759.7 743.4V744.0 M758.9 743.2V743.4 M759.7 743.2V743.4 M758.9 743.2H759.7 M757.9 743.0V743.3 M759.3 743.0V743.2 M757.9 743.0H759.3 M756.4 742.7V743.0 M758.6 742.7V743.0 M756.4 742.7H758.6 M760.5 743.2V744.0 M761.3 743.1V744.0 M760.5 743.0V743.2 M761.3 743.0V743.1 M760.5 743.0H761.3 M762.2 743.4V744.0 M763.1 743.4V744.0 M762.2 743.2V743.4 M763.1 743.2V743.4 M762.2 743.2H763.1 M760.9 742.8V743.0 M762.7 742.8V743.2 M760.9 742.8H762.7 M757.5 742.3V742.7 M761.8 742.3V742.8 M757.5 742.3H761.8 M753.5 741.3V742.0 M759.6 741.3V742.3 M753.5 741.3H759.6 M748.3 740.7V741.6 M756.5 740.7V741.3 M748.3 740.7H756.5 M763.8 742.2V744.0 M764.5 742.0V744.0 M763.8 741.9V742.2 M764.5 741.9V742.0 M763.8 741.9H764.5 M765.4 742.1V744.0 M764.1 741.0V741.9 M765.4 741.0V742.1 M764.1 741.0H765.4 M766.4 741.3V744.0 M764.7 739.7V741.0 M766.4 739.7V741.3 M764.7 739.7H766.4 M767.6 741.5V744.0 M768.6 742.9V744.0 M769.4 742.4V744.0 M768.6 742.2V742.9 M769.4 742.2V742.4 M768.6 742.2H769.4 M767.6 741.1V741.5 M769.0 741.1V742.2 M767.6 741.1H769.0 M770.3 742.5V744.0 M771.1 742.6V744.0 M770.3 742.2V742.5 M771.1 742.2V742.6 M770.3 742.2H771.1 M771.8 743.0V744.0 M772.5 742.6V744.0 M771.8 742.5V743.0 M772.5 742.5V742.6 M771.8 742.5H772.5 M770.7 741.9V742.2 M772.1 741.9V742.5 M770.7 741.9H772.1 M768.3 740.6V741.1 M771.4 740.6V741.9 M768.3 740.6H771.4 M765.6 739.5V739.7 M769.9 739.5V740.6 M765.6 739.5H769.9 M773.6 742.8V744.0 M774.5 743.0V744.0 M773.6 742.5V742.8 M774.5 742.5V743.0 M773.6 742.5H774.5 M775.4 743.1V744.0 M776.3 743.2V744.0 M777.0 743.1V744.0 M776.3 743.0V743.2 M777.0 743.0V743.1 M776.3 743.0H777.0 M775.4 742.9V743.1 M776.6 742.9V743.0 M775.4 742.9H776.6 M774.1 742.4V742.5 M776.0 742.4V742.9 M774.1 742.4H776.0 M777.9 742.5V744.0 M778.6 742.4V744.0 M777.9 742.3V742.5 M778.6 742.3V742.4 M777.9 742.3H778.6 M779.4 742.6V744.0 M780.2 742.7V744.0 M779.4 742.5V742.6 M780.2 742.5V742.7 M779.4 742.5H780.2 M781.0 743.0V744.0 M781.9 743.0V744.0 M781.0 742.9V743.0 M781.9 742.9V743.0 M781.0 742.9H781.9 M779.8 742.3V742.5 M781.5 742.3V742.9 M779.8 742.3H781.5 M778.2 741.6V742.3 M780.6 741.6V742.3 M778.2 741.6H780.6 M775.0 741.4V742.4 M779.4 741.4V741.6 M775.0 741.4H779.4 M782.9 742.1V744.0 M784.0 742.0V744.0 M782.9 741.7V742.1 M784.0 741.7V742.0 M782.9 741.7H784.0 M785.3 743.1V744.0 M786.6 743.4V744.0 M787.7 743.5V744.0 M786.6 743.3V743.4 M787.7 743.3V743.5 M786.6 743.3H787.7 M785.3 742.9V743.1 M787.1 742.9V743.3 M785.3 742.9H787.1 M788.7 742.9V744.0 M789.6 742.7V744.0 M788.7 742.7V742.9 M789.6 742.7V742.7 M788.7 742.7H789.6 M786.2 742.3V742.9 M789.2 742.3V742.7 M786.2 742.3H789.2 M783.4 741.5V741.7 M787.7 741.5V742.3 M783.4 741.5H787.7 M777.2 741.0V741.4 M785.6 741.0V741.5 M777.2 741.0H785.6 M767.7 738.8V739.5 M781.4 738.8V741.0 M767.7 738.8H781.4 M752.4 737.4V740.7 M774.6 737.4V738.8 M752.4 737.4H774.6 M763.5 737.4H786.2 M796.5 734.9H858.6 M796.5 734.9V738.2 M858.6 734.9V736.0 M790.5 742.8V744.0 M791.3 743.0V744.0 M792.1 742.9V744.0 M791.3 742.8V743.0 M792.1 742.8V742.9 M791.3 742.8H792.1 M790.5 742.6V742.8 M791.7 742.6V742.8 M790.5 742.6H791.7 M793.0 742.9V744.0 M793.9 742.7V744.0 M793.0 742.6V742.9 M793.9 742.6V742.7 M793.0 742.6H793.9 M794.7 742.6V744.0 M793.4 742.3V742.6 M794.7 742.3V742.6 M793.4 742.3H794.7 M791.1 741.7V742.6 M794.1 741.7V742.3 M791.1 741.7H794.1 M795.5 743.0V744.0 M796.5 743.0V744.0 M795.5 742.6V743.0 M796.5 742.6V743.0 M795.5 742.6H796.5 M797.4 743.1V744.0 M798.3 743.1V744.0 M797.4 742.8V743.1 M798.3 742.8V743.1 M797.4 742.8H798.3 M796.0 742.5V742.6 M797.9 742.5V742.8 M796.0 742.5H797.9 M799.5 742.8V744.0 M800.7 743.1V744.0 M801.6 743.1V744.0 M800.7 742.9V743.1 M801.6 742.9V743.1 M800.7 742.9H801.6 M802.5 742.7V744.0 M801.1 742.5V742.9 M802.5 742.5V742.7 M801.1 742.5H802.5 M799.5 742.4V742.8 M801.8 742.4V742.5 M799.5 742.4H801.8 M796.9 742.1V742.5 M800.6 742.1V742.4 M796.9 742.1H800.6 M803.7 742.4V744.0 M804.8 742.8V744.0 M805.9 742.2V744.0 M804.8 742.1V742.8 M805.9 742.1V742.2 M804.8 742.1H805.9 M803.7 741.9V742.4 M805.4 741.9V742.1 M803.7 741.9H805.4 M798.8 741.3V742.1 M804.5 741.3V741.9 M798.8 741.3H804.5 M792.6 741.1V741.7 M801.7 741.1V741.3 M792.6 741.1H801.7 M807.2 741.7V744.0 M808.3 742.6V744.0 M809.3 742.8V744.0 M808.3 742.3V742.6 M809.3 742.3V742.8 M808.3 742.3H809.3 M810.2 742.2V744.0 M808.8 741.5V742.3 M810.2 741.5V742.2 M808.8 741.5H810.2 M807.2 741.4V741.7 M809.5 741.4V741.5 M807.2 741.4H809.5 M811.1 742.1V744.0 M811.9 742.0V744.0 M811.1 741.8V742.1 M811.9 741.8V742.0 M811.1 741.8H811.9 M813.0 741.8V744.0 M811.5 741.7V741.8 M813.0 741.7V741.8 M811.5 741.7H813.0 M814.1 742.3V744.0 M815.1 743.0V744.0 M815.9 743.1V744.0 M815.1 742.9V743.0 M815.9 742.9V743.1 M815.1 742.9H815.9 M814.1 742.2V742.3 M815.5 742.2V742.9 M814.1 742.2H815.5 M812.3 741.5V741.7 M814.8 741.5V742.2 M812.3 741.5H814.8 M808.3 740.8V741.4 M813.5 740.8V741.5 M808.3 740.8H813.5 M797.1 740.1V741.1 M810.9 740.1V740.8 M797.1 740.1H810.9 M816.6 743.4V744.0 M817.4 743.6V744.0 M816.6 743.3V743.4 M817.4 743.3V743.6 M816.6 743.3H817.4 M818.1 743.2V744.0 M818.9 743.3V744.0 M818.1 743.1V743.2 M818.9 743.1V743.3 M818.1 743.1H818.9 M817.0 742.9V743.3 M818.5 742.9V743.1 M817.0 742.9H818.5 M819.6 743.3V744.0 M820.6 743.2V744.0 M819.6 742.9V743.3 M820.6 742.9V743.2 M819.6 742.9H820.6 M821.3 743.4V744.0 M822.2 743.4V744.0 M821.3 743.0V743.4 M822.2 743.0V743.4 M821.3 743.0H822.2 M820.1 742.8V742.9 M821.7 742.8V743.0 M820.1 742.8H821.7 M817.8 742.4V742.9 M820.9 742.4V742.8 M817.8 742.4H820.9 M823.1 743.3V744.0 M824.0 743.0V744.0 M823.1 742.9V743.3 M824.0 742.9V743.0 M823.1 742.9H824.0 M825.0 743.0V744.0 M825.8 742.9V744.0 M825.0 742.8V743.0 M825.8 742.8V742.9 M825.0 742.8H825.8 M823.5 742.5V742.9 M825.4 742.5V742.8 M823.5 742.5H825.4 M826.6 743.1V744.0 M827.3 743.1V744.0 M826.6 743.0V743.1 M827.3 743.0V743.1 M826.6 743.0H827.3 M828.0 743.2V744.0 M828.8 743.3V744.0 M828.0 743.1V743.2 M828.8 743.1V743.3 M828.0 743.1H828.8 M826.9 742.6V743.0 M828.4 742.6V743.1 M826.9 742.6H828.4 M824.5 742.2V742.5 M827.6 742.2V742.6 M824.5 742.2H827.6 M819.3 741.3V742.4 M826.1 741.3V742.2 M819.3 741.3H826.1 M829.9 742.7V744.0 M830.8 742.5V744.0 M829.9 742.4V742.7 M830.8 742.4V742.5 M829.9 742.4H830.8 M831.4 743.0V744.0 M832.2 743.0V744.0 M831.4 742.9V743.0 M832.2 742.9V743.0 M831.4 742.9H832.2 M830.3 742.2V742.4 M831.8 742.2V742.9 M830.3 742.2H831.8 M833.3 742.4V744.0 M834.4 742.1V744.0 M833.3 741.9V742.4 M834.4 741.9V742.1 M833.3 741.9H834.4 M831.1 741.4V742.2 M833.8 741.4V741.9 M831.1 741.4H833.8 M822.7 740.2V741.3 M832.4 740.2V741.4 M822.7 740.2H832.4 M804.0 738.2V740.1 M827.6 738.2V740.2 M804.0 738.2H827.6 M796.5 738.2H815.8 M835.4 743.0V744.0 M836.1 743.1V744.0 M835.4 742.9V743.0 M836.1 742.9V743.1 M835.4 742.9H836.1 M837.0 743.3V744.0 M838.1 743.4V744.0 M837.0 743.0V743.3 M838.1 743.0V743.4 M837.0 743.0H838.1 M835.8 742.4V742.9 M837.6 742.4V743.0 M835.8 742.4H837.6 M839.4 743.1V744.0 M840.5 743.0V744.0 M839.4 742.6V743.1 M840.5 742.6V743.0 M839.4 742.6H840.5 M836.7 741.8V742.4 M840.0 741.8V742.6 M836.7 741.8H840.0 M841.3 743.3V744.0 M842.1 743.3V744.0 M841.3 743.1V743.3 M842.1 743.1V743.3 M841.3 743.1H842.1 M842.7 743.2V744.0 M843.5 743.2V744.0 M842.7 743.0V743.2 M843.5 743.0V743.2 M842.7 743.0H843.5 M841.7 742.7V743.1 M843.1 742.7V743.0 M841.7 742.7H843.1 M844.6 742.7V744.0 M842.4 742.6V742.7 M844.6 742.6V742.7 M842.4 742.6H844.6 M838.3 741.7V741.8 M843.5 741.7V742.6 M838.3 741.7H843.5 M845.7 743.0V744.0 M846.6 743.3V744.0 M845.7 743.0V743.0 M846.6 743.0V743.3 M845.7 743.0H846.6 M847.6 742.6V744.0 M846.1 742.4V743.0 M847.6 742.4V742.6 M846.1 742.4H847.6 M848.5 742.7V744.0 M849.2 743.1V744.0 M848.5 742.6V742.7 M849.2 742.6V743.1 M848.5 742.6H849.2 M849.9 742.8V744.0 M848.9 742.1V742.6 M849.9 742.1V742.8 M848.9 742.1H849.9 M850.6 743.0V744.0 M851.4 742.8V744.0 M850.6 742.7V743.0 M851.4 742.7V742.8 M850.6 742.7H851.4 M852.6 742.8V744.0 M853.7 742.8V744.0 M852.6 742.5V742.8 M853.7 742.5V742.8 M852.6 742.5H853.7 M851.0 742.4V742.7 M853.2 742.4V742.5 M851.0 742.4H853.2 M849.4 741.9V742.1 M852.1 741.9V742.4 M849.4 741.9H852.1 M846.9 741.7V742.4 M850.7 741.7V741.9 M846.9 741.7H850.7 M840.9 741.3V741.7 M848.8 741.3V741.7 M840.9 741.3H848.8 M854.7 742.3V744.0 M855.8 742.4V744.0 M857.0 742.4V744.0 M855.8 742.3V742.4 M857.0 742.3V742.4 M855.8 742.3H857.0 M854.7 741.4V742.3 M856.4 741.4V742.3 M854.7 741.4H856.4 M858.3 743.0V744.0 M859.7 742.5V744.0 M858.3 742.5V743.0 M859.7 742.5V742.5 M858.3 742.5H859.7 M860.8 743.2V744.0 M861.7 743.3V744.0 M860.8 742.9V743.2 M861.7 742.9V743.3 M860.8 742.9H861.7 M862.8 742.5V744.0 M861.3 742.3V742.9 M862.8 742.3V742.5 M861.3 742.3H862.8 M859.0 742.0V742.5 M862.0 742.0V742.3 M859.0 742.0H862.0 M855.5 741.2V741.4 M860.5 741.2V742.0 M855.5 741.2H860.5 M863.8 742.9V744.0 M864.8 742.8V744.0 M863.8 742.7V742.9 M864.8 742.7V742.8 M863.8 742.7H864.8 M865.5 742.9V744.0 M866.6 743.2V744.0 M867.6 743.5V744.0 M866.6 743.2V743.2 M867.6 743.2V743.5 M866.6 743.2H867.6 M865.5 742.7V742.9 M867.1 742.7V743.2 M865.5 742.7H867.1 M864.3 742.6V742.7 M866.3 742.6V742.7 M864.3 742.6H866.3 M868.3 742.8V744.0 M869.0 742.9V744.0 M868.3 742.6V742.8 M869.0 742.6V742.9 M868.3 742.6H869.0 M870.1 742.3V744.0 M868.7 742.1V742.6 M870.1 742.1V742.3 M868.7 742.1H870.1 M871.2 742.2V744.0 M869.4 742.0V742.1 M871.2 742.0V742.2 M869.4 742.0H871.2 M865.3 741.9V742.6 M870.3 741.9V742.0 M865.3 741.9H870.3 M858.0 740.8V741.2 M867.8 740.8V741.9 M858.0 740.8H867.8 M844.9 739.8V741.3 M862.9 739.8V740.8 M844.9 739.8H862.9 M872.5 743.0V744.0 M873.6 742.8V744.0 M872.5 742.7V743.0 M873.6 742.7V742.8 M872.5 742.7H873.6 M874.5 742.8V744.0 M875.2 742.6V744.0 M874.5 742.4V742.8 M875.2 742.4V742.6 M874.5 742.4H875.2 M873.0 741.9V742.7 M874.8 741.9V742.4 M873.0 741.9H874.8 M875.8 742.8V744.0 M876.7 743.0V744.0 M875.8 742.8V742.8 M876.7 742.8V743.0 M875.8 742.8H876.7 M877.5 743.2V744.0 M878.5 743.3V744.0 M877.5 743.1V743.2 M878.5 743.1V743.3 M877.5 743.1H878.5 M879.5 743.4V744.0 M880.2 743.4V744.0 M879.5 743.3V743.4 M880.2 743.3V743.4 M879.5 743.3H880.2 M878.0 743.1V743.1 M879.8 743.1V743.3 M878.0 743.1H879.8 M876.3 742.7V742.8 M878.9 742.7V743.1 M876.3 742.7H878.9 M873.9 741.8V741.9 M877.6 741.8V742.7 M873.9 741.8H877.6 M880.9 743.2V744.0 M881.9 743.1V744.0 M880.9 742.7V743.2 M881.9 742.7V743.1 M880.9 742.7H881.9 M882.9 742.8V744.0 M883.8 743.1V744.0 M882.9 742.7V742.8 M883.8 742.7V743.1 M882.9 742.7H883.8 M881.4 742.5V742.7 M883.4 742.5V742.7 M881.4 742.5H883.4 M885.0 743.1V744.0 M885.9 743.0V744.0 M885.0 742.8V743.1 M885.9 742.8V743.0 M885.0 742.8H885.9 M882.4 742.1V742.5 M885.5 742.1V742.8 M882.4 742.1H885.5 M875.8 741.6V741.8 M883.9 741.6V742.1 M875.8 741.6H883.9 M886.7 743.4V744.0 M887.5 743.4V744.0 M886.7 743.1V743.4 M887.5 743.1V743.4 M886.7 743.1H887.5 M888.0 742.9V744.0 M887.1 742.6V743.1 M888.0 742.6V742.9 M887.1 742.6H888.0 M889.0 742.9V744.0 M890.2 743.2V744.0 M891.0 743.3V744.0 M890.2 742.9V743.2 M891.0 742.9V743.3 M890.2 742.9H891.0 M889.0 742.5V742.9 M890.6 742.5V742.9 M889.0 742.5H890.6 M887.6 741.7V742.6 M889.8 741.7V742.5 M887.6 741.7H889.8 M891.9 743.1V744.0 M892.8 742.8V744.0 M891.9 742.6V743.1 M892.8 742.6V742.8 M891.9 742.6H892.8 M893.6 743.2V744.0 M894.5 743.5V744.0 M895.2 743.5V744.0 M894.5 743.3V743.5 M895.2 743.3V743.5 M894.5 743.3H895.2 M896.0 743.3V744.0 M894.8 743.1V743.3 M896.0 743.1V743.3 M894.8 743.1H896.0 M893.6 742.7V743.2 M895.4 742.7V743.1 M893.6 742.7H895.4 M892.3 742.3V742.6 M894.5 742.3V742.7 M892.3 742.3H894.5 M888.7 741.5V741.7 M893.4 741.5V742.3 M888.7 741.5H893.4 M879.8 740.9V741.6 M891.1 740.9V741.5 M879.8 740.9H891.1 M896.9 742.0V744.0 M897.9 742.2V744.0 M896.9 741.7V742.0 M897.9 741.7V742.2 M896.9 741.7H897.9 M898.8 742.9V744.0 M899.5 742.3V744.0 M898.8 742.2V742.9 M899.5 742.2V742.3 M898.8 742.2H899.5 M900.4 742.4V744.0 M899.1 742.0V742.2 M900.4 742.0V742.4 M899.1 742.0H900.4 M897.4 741.6V741.7 M899.8 741.6V742.0 M897.4 741.6H899.8 M901.2 742.7V744.0 M902.0 742.4V744.0 M901.2 742.0V742.7 M902.0 742.0V742.4 M901.2 742.0H902.0 M903.0 741.8V744.0 M901.6 741.6V742.0 M903.0 741.6V741.8 M901.6 741.6H903.0 M898.6 740.4V741.6 M902.3 740.4V741.6 M898.6 740.4H902.3 M903.9 742.5V744.0 M905.0 742.4V744.0 M903.9 741.8V742.5 M905.0 741.8V742.4 M903.9 741.8H905.0 M906.3 741.6V744.0 M904.4 741.4V741.8 M906.3 741.4V741.6 M904.4 741.4H906.3 M907.4 742.5V744.0 M908.1 742.5V744.0 M907.4 742.2V742.5 M908.1 742.2V742.5 M907.4 742.2H908.1 M908.9 742.8V744.0 M910.0 743.0V744.0 M910.9 743.1V744.0 M910.0 742.7V743.0 M910.9 742.7V743.1 M910.0 742.7H910.9 M908.9 742.4V742.8 M910.4 742.4V742.7 M908.9 742.4H910.4 M907.7 741.8V742.2 M909.7 741.8V742.4 M907.7 741.8H909.7 M905.4 741.1V741.4 M908.7 741.1V741.8 M905.4 741.1H908.7 M900.4 740.3V740.4 M907.0 740.3V741.1 M900.4 740.3H907.0 M911.7 741.9V744.0 M912.5 742.1V744.0 M913.3 742.5V744.0 M912.5 741.8V742.1 M913.3 741.8V742.5 M912.5 741.8H913.3 M911.7 741.5V741.9 M912.9 741.5V741.8 M911.7 741.5H912.9 M914.0 742.6V744.0 M914.9 742.3V744.0 M914.0 742.2V742.6 M914.9 742.2V742.3 M914.0 742.2H914.9 M916.1 741.9V744.0 M914.4 741.3V742.2 M916.1 741.3V741.9 M914.4 741.3H916.1 M916.9 742.5V744.0 M917.8 742.7V744.0 M916.9 742.0V742.5 M917.8 742.0V742.7 M916.9 742.0H917.8 M918.8 742.5V744.0 M917.4 741.9V742.0 M918.8 741.9V742.5 M917.4 741.9H918.8 M915.3 741.0V741.3 M918.1 741.0V741.9 M915.3 741.0H918.1 M912.3 740.3V741.5 M916.7 740.3V741.0 M912.3 740.3H916.7 M919.6 741.4V744.0 M920.5 741.8V744.0 M919.6 740.7V741.4 M920.5 740.7V741.8 M919.6 740.7H920.5 M921.6 741.7V744.0 M922.6 741.0V744.0 M921.6 740.5V741.7 M922.6 740.5V741.0 M921.6 740.5H922.6 M920.1 739.3V740.7 M922.1 739.3V740.5 M920.1 739.3H922.1 M914.5 739.1V740.3 M921.1 739.1V739.3 M914.5 739.1H921.1 M903.7 738.7V740.3 M917.8 738.7V739.1 M903.7 738.7H917.8 M885.4 737.5V740.9 M910.8 737.5V738.7 M885.4 737.5H910.8 M853.9 736.0V739.8 M898.1 736.0V737.5 M853.9 736.0H898.1 M858.6 736.0H876.0 M334 743.3H923" stroke="#000" stroke-width="1.2" fill="none"/><path d="M931 748V955M931 971V1146" stroke="#000" stroke-width="2"/><defs><filter id="gs" x="0" y="0" width="966" height="1150" filterUnits="userSpaceOnUse"><feColorMatrix type="saturate" values="0"/></filter></defs><g filter="url(#gs)"><text x="3.1" y="39.3" font-size="51">A</text><text x="257.0" y="77.6" font-size="25.4" text-anchor="end">75</text><text x="257.0" y="173.5" font-size="25.4" text-anchor="end">50</text><text x="257.0" y="273.6" font-size="25.4" text-anchor="end">25</text><text x="257.0" y="373.5" font-size="25.4" text-anchor="end">0</text><text x="257.0" y="469.5" font-size="25.4" text-anchor="end">-25</text><text x="373.5" y="516.1" font-size="25.4" text-anchor="middle">-30</text><text x="508.1" y="516.1" font-size="25.4" text-anchor="middle">0</text><text x="640.4" y="516.1" font-size="25.4" text-anchor="middle">30</text><text x="773.2" y="516.1" font-size="25.4" text-anchor="middle">60</text><text x="438.9" y="552.7" font-size="29">PC1: 22.8%</text><text transform="translate(207.5 267.7) rotate(-90)" x="0" y="0" font-size="29" text-anchor="middle">PC3: 14.2%</text><text x="826.5" y="234.0" font-size="25">Treatment</text><text x="846.0" y="268.0" font-size="25">Biofloc</text><text x="846.0" y="306.7" font-size="25">RAS</text><text x="2.7" y="597.3" font-size="51">B</text><text x="87.6" y="719.5" font-size="20.3" text-anchor="middle">0.2</text><text x="129.2" y="719.5" font-size="20.3" text-anchor="middle">0.4</text><text x="170.7" y="719.5" font-size="20.3" text-anchor="middle">0.6</text><text x="212.3" y="719.5" font-size="20.3" text-anchor="middle">0.8</text><text x="155.95" y="744.0" font-size="20.3" text-anchor="middle">Value</text><text transform="translate(963.1 857.5) rotate(-90)" font-size="29.4" text-anchor="middle">Biofloc</text><text transform="translate(962.7 1054.1) rotate(-90)" font-size="29.3" text-anchor="middle">RAS</text></g></svg></body></html>
